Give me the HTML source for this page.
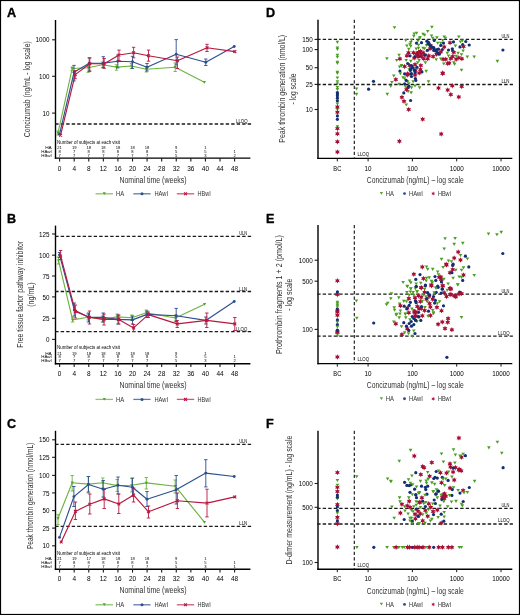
<!DOCTYPE html>
<html><head><meta charset="utf-8"><style>
html,body{margin:0;padding:0;background:#fff;}
svg{display:block;will-change:transform;}
text{font-family:"Liberation Sans", sans-serif;}
</style></head><body>
<svg width="520" height="615" viewBox="0 0 520 615">
<rect width="520" height="615" fill="#fff"/>
<rect x="0.5" y="0.5" width="519" height="614" fill="none" stroke="#000" stroke-width="1.2"/>
<text x="7.10" y="17.00" font-size="12.6" text-anchor="start" font-weight="bold" fill="#000" stroke="#000" stroke-width="0.35">A</text>
<line x1="55.50" y1="20.00" x2="55.50" y2="158.80" stroke="#000" stroke-width="1.4" stroke-linecap="butt"/>
<line x1="54.80" y1="158.10" x2="250.40" y2="158.10" stroke="#000" stroke-width="1.4" stroke-linecap="butt"/>
<line x1="52.10" y1="39.80" x2="55.50" y2="39.80" stroke="#1a1a1a" stroke-width="1.1" stroke-linecap="butt"/>
<text x="49.50" y="42.45" font-size="7.7" text-anchor="end" textLength="14.00" lengthAdjust="spacingAndGlyphs">1000</text>
<line x1="52.10" y1="76.30" x2="55.50" y2="76.30" stroke="#1a1a1a" stroke-width="1.1" stroke-linecap="butt"/>
<text x="49.50" y="78.95" font-size="7.7" text-anchor="end" textLength="10.50" lengthAdjust="spacingAndGlyphs">100</text>
<line x1="52.10" y1="113.10" x2="55.50" y2="113.10" stroke="#1a1a1a" stroke-width="1.1" stroke-linecap="butt"/>
<text x="49.50" y="115.75" font-size="7.7" text-anchor="end" textLength="7.00" lengthAdjust="spacingAndGlyphs">10</text>
<line x1="59.60" y1="158.10" x2="59.60" y2="161.50" stroke="#1a1a1a" stroke-width="1.1" stroke-linecap="butt"/>
<text x="59.60" y="170.60" font-size="7.5" text-anchor="middle" textLength="3.60" lengthAdjust="spacingAndGlyphs">0</text>
<line x1="74.18" y1="158.10" x2="74.18" y2="161.50" stroke="#1a1a1a" stroke-width="1.1" stroke-linecap="butt"/>
<text x="74.18" y="170.60" font-size="7.5" text-anchor="middle" textLength="3.60" lengthAdjust="spacingAndGlyphs">4</text>
<line x1="88.77" y1="158.10" x2="88.77" y2="161.50" stroke="#1a1a1a" stroke-width="1.1" stroke-linecap="butt"/>
<text x="88.77" y="170.60" font-size="7.5" text-anchor="middle" textLength="3.60" lengthAdjust="spacingAndGlyphs">8</text>
<line x1="103.35" y1="158.10" x2="103.35" y2="161.50" stroke="#1a1a1a" stroke-width="1.1" stroke-linecap="butt"/>
<text x="103.35" y="170.60" font-size="7.5" text-anchor="middle" textLength="7.20" lengthAdjust="spacingAndGlyphs">12</text>
<line x1="117.94" y1="158.10" x2="117.94" y2="161.50" stroke="#1a1a1a" stroke-width="1.1" stroke-linecap="butt"/>
<text x="117.94" y="170.60" font-size="7.5" text-anchor="middle" textLength="7.20" lengthAdjust="spacingAndGlyphs">16</text>
<line x1="132.52" y1="158.10" x2="132.52" y2="161.50" stroke="#1a1a1a" stroke-width="1.1" stroke-linecap="butt"/>
<text x="132.52" y="170.60" font-size="7.5" text-anchor="middle" textLength="7.20" lengthAdjust="spacingAndGlyphs">20</text>
<line x1="147.10" y1="158.10" x2="147.10" y2="161.50" stroke="#1a1a1a" stroke-width="1.1" stroke-linecap="butt"/>
<text x="147.10" y="170.60" font-size="7.5" text-anchor="middle" textLength="7.20" lengthAdjust="spacingAndGlyphs">24</text>
<line x1="161.69" y1="158.10" x2="161.69" y2="161.50" stroke="#1a1a1a" stroke-width="1.1" stroke-linecap="butt"/>
<text x="161.69" y="170.60" font-size="7.5" text-anchor="middle" textLength="7.20" lengthAdjust="spacingAndGlyphs">28</text>
<line x1="176.27" y1="158.10" x2="176.27" y2="161.50" stroke="#1a1a1a" stroke-width="1.1" stroke-linecap="butt"/>
<text x="176.27" y="170.60" font-size="7.5" text-anchor="middle" textLength="7.20" lengthAdjust="spacingAndGlyphs">32</text>
<line x1="190.86" y1="158.10" x2="190.86" y2="161.50" stroke="#1a1a1a" stroke-width="1.1" stroke-linecap="butt"/>
<text x="190.86" y="170.60" font-size="7.5" text-anchor="middle" textLength="7.20" lengthAdjust="spacingAndGlyphs">36</text>
<line x1="205.44" y1="158.10" x2="205.44" y2="161.50" stroke="#1a1a1a" stroke-width="1.1" stroke-linecap="butt"/>
<text x="205.44" y="170.60" font-size="7.5" text-anchor="middle" textLength="7.20" lengthAdjust="spacingAndGlyphs">40</text>
<line x1="220.02" y1="158.10" x2="220.02" y2="161.50" stroke="#1a1a1a" stroke-width="1.1" stroke-linecap="butt"/>
<text x="220.02" y="170.60" font-size="7.5" text-anchor="middle" textLength="7.20" lengthAdjust="spacingAndGlyphs">44</text>
<line x1="234.61" y1="158.10" x2="234.61" y2="161.50" stroke="#1a1a1a" stroke-width="1.1" stroke-linecap="butt"/>
<text x="234.61" y="170.60" font-size="7.5" text-anchor="middle" textLength="7.20" lengthAdjust="spacingAndGlyphs">48</text>
<line x1="55.20" y1="124.00" x2="251.20" y2="124.00" stroke="#1a1a1a" stroke-width="1.3" stroke-dasharray="3.4,2.1" stroke-linecap="butt"/>
<text x="247.50" y="123.40" font-size="4.6" text-anchor="end" textLength="11.50" lengthAdjust="spacingAndGlyphs">LLOQ</text>
<text x="29.80" y="89.30" font-size="8.3" text-anchor="middle" textLength="96.00" lengthAdjust="spacingAndGlyphs" fill="#303030" transform="rotate(-90 29.80 89.30)">Concizumab (ng/mL - log scale)</text>
<text x="153.00" y="182.80" font-size="8.3" text-anchor="middle" textLength="67.20" lengthAdjust="spacingAndGlyphs" fill="#303030">Nominal time (weeks)</text>
<text x="57.00" y="143.50" font-size="4.9" text-anchor="start" textLength="63.00" lengthAdjust="spacingAndGlyphs">Number of subjects at each visit</text>
<text x="51.80" y="148.90" font-size="4.3" text-anchor="end" textLength="6.60" lengthAdjust="spacingAndGlyphs">HA</text>
<text x="59.60" y="148.90" font-size="4.3" text-anchor="middle" textLength="4.60" lengthAdjust="spacingAndGlyphs">21</text>
<text x="74.18" y="148.90" font-size="4.3" text-anchor="middle" textLength="4.60" lengthAdjust="spacingAndGlyphs">19</text>
<text x="88.77" y="148.90" font-size="4.3" text-anchor="middle" textLength="4.60" lengthAdjust="spacingAndGlyphs">18</text>
<text x="103.35" y="148.90" font-size="4.3" text-anchor="middle" textLength="4.60" lengthAdjust="spacingAndGlyphs">18</text>
<text x="117.94" y="148.90" font-size="4.3" text-anchor="middle" textLength="4.60" lengthAdjust="spacingAndGlyphs">18</text>
<text x="132.52" y="148.90" font-size="4.3" text-anchor="middle" textLength="4.60" lengthAdjust="spacingAndGlyphs">18</text>
<text x="147.10" y="148.90" font-size="4.3" text-anchor="middle" textLength="4.60" lengthAdjust="spacingAndGlyphs">18</text>
<text x="176.27" y="148.90" font-size="4.3" text-anchor="middle" textLength="2.30" lengthAdjust="spacingAndGlyphs">9</text>
<text x="205.44" y="148.90" font-size="4.3" text-anchor="middle" textLength="2.30" lengthAdjust="spacingAndGlyphs">1</text>
<text x="51.80" y="152.70" font-size="4.3" text-anchor="end" textLength="10.60" lengthAdjust="spacingAndGlyphs">HAwI</text>
<text x="59.60" y="152.70" font-size="4.3" text-anchor="middle" textLength="2.30" lengthAdjust="spacingAndGlyphs">8</text>
<text x="74.18" y="152.70" font-size="4.3" text-anchor="middle" textLength="2.30" lengthAdjust="spacingAndGlyphs">7</text>
<text x="88.77" y="152.70" font-size="4.3" text-anchor="middle" textLength="2.30" lengthAdjust="spacingAndGlyphs">8</text>
<text x="103.35" y="152.70" font-size="4.3" text-anchor="middle" textLength="2.30" lengthAdjust="spacingAndGlyphs">8</text>
<text x="117.94" y="152.70" font-size="4.3" text-anchor="middle" textLength="2.30" lengthAdjust="spacingAndGlyphs">8</text>
<text x="132.52" y="152.70" font-size="4.3" text-anchor="middle" textLength="2.30" lengthAdjust="spacingAndGlyphs">8</text>
<text x="147.10" y="152.70" font-size="4.3" text-anchor="middle" textLength="2.30" lengthAdjust="spacingAndGlyphs">8</text>
<text x="176.27" y="152.70" font-size="4.3" text-anchor="middle" textLength="2.30" lengthAdjust="spacingAndGlyphs">5</text>
<text x="205.44" y="152.70" font-size="4.3" text-anchor="middle" textLength="2.30" lengthAdjust="spacingAndGlyphs">5</text>
<text x="234.61" y="152.70" font-size="4.3" text-anchor="middle" textLength="2.30" lengthAdjust="spacingAndGlyphs">1</text>
<text x="51.80" y="156.80" font-size="4.3" text-anchor="end" textLength="10.60" lengthAdjust="spacingAndGlyphs">HBwI</text>
<text x="59.60" y="156.80" font-size="4.3" text-anchor="middle" textLength="2.30" lengthAdjust="spacingAndGlyphs">7</text>
<text x="74.18" y="156.80" font-size="4.3" text-anchor="middle" textLength="2.30" lengthAdjust="spacingAndGlyphs">7</text>
<text x="88.77" y="156.80" font-size="4.3" text-anchor="middle" textLength="2.30" lengthAdjust="spacingAndGlyphs">7</text>
<text x="103.35" y="156.80" font-size="4.3" text-anchor="middle" textLength="2.30" lengthAdjust="spacingAndGlyphs">7</text>
<text x="117.94" y="156.80" font-size="4.3" text-anchor="middle" textLength="2.30" lengthAdjust="spacingAndGlyphs">7</text>
<text x="132.52" y="156.80" font-size="4.3" text-anchor="middle" textLength="2.30" lengthAdjust="spacingAndGlyphs">7</text>
<text x="147.10" y="156.80" font-size="4.3" text-anchor="middle" textLength="2.30" lengthAdjust="spacingAndGlyphs">7</text>
<text x="176.27" y="156.80" font-size="4.3" text-anchor="middle" textLength="2.30" lengthAdjust="spacingAndGlyphs">5</text>
<text x="205.44" y="156.80" font-size="4.3" text-anchor="middle" textLength="2.30" lengthAdjust="spacingAndGlyphs">3</text>
<text x="234.61" y="156.80" font-size="4.3" text-anchor="middle" textLength="2.30" lengthAdjust="spacingAndGlyphs">2</text>
<line x1="95.50" y1="193.80" x2="113.00" y2="193.80" stroke="#8cc56a" stroke-width="1.3" stroke-linecap="butt"/>
<path d="M102.70,192.30L105.90,192.30L104.30,195.02Z" fill="#54a12b"/>
<text x="116.00" y="196.00" font-size="6.5" text-anchor="start" textLength="8.20" lengthAdjust="spacingAndGlyphs" fill="#333">HA</text>
<line x1="133.30" y1="193.80" x2="150.60" y2="193.80" stroke="#5f7bb0" stroke-width="1.3" stroke-linecap="butt"/>
<circle cx="142.00" cy="193.80" r="1.5" fill="#2d4f8e"/>
<text x="154.40" y="196.00" font-size="6.5" text-anchor="start" textLength="13.60" lengthAdjust="spacingAndGlyphs" fill="#333">HAwI</text>
<line x1="176.80" y1="193.80" x2="194.20" y2="193.80" stroke="#cf5a78" stroke-width="1.3" stroke-linecap="butt"/>
<path d="M184.10,192.40L186.90,195.20M184.10,195.20L186.90,192.40" stroke="#b8173f" stroke-width="1.1" fill="none"/>
<text x="197.60" y="196.00" font-size="6.5" text-anchor="start" textLength="13.20" lengthAdjust="spacingAndGlyphs" fill="#333">HBwI</text>
<polyline points="58.00,133.00 72.20,68.50 88.20,67.70 102.50,64.80 116.50,67.10 131.50,66.00 146.30,69.20 175.20,67.30 204.40,82.30" fill="none" stroke="#6cb33f" stroke-width="1.15" stroke-linejoin="round"/>
<line x1="58.00" y1="131.00" x2="58.00" y2="135.00" stroke="#6cb33f" stroke-width="0.9" stroke-linecap="butt"/>
<line x1="56.30" y1="131.00" x2="59.70" y2="131.00" stroke="#6cb33f" stroke-width="0.9" stroke-linecap="butt"/>
<line x1="56.30" y1="135.00" x2="59.70" y2="135.00" stroke="#6cb33f" stroke-width="0.9" stroke-linecap="butt"/>
<line x1="72.20" y1="67.00" x2="72.20" y2="70.60" stroke="#6cb33f" stroke-width="0.9" stroke-linecap="butt"/>
<line x1="70.50" y1="67.00" x2="73.90" y2="67.00" stroke="#6cb33f" stroke-width="0.9" stroke-linecap="butt"/>
<line x1="70.50" y1="70.60" x2="73.90" y2="70.60" stroke="#6cb33f" stroke-width="0.9" stroke-linecap="butt"/>
<line x1="88.20" y1="66.00" x2="88.20" y2="72.30" stroke="#6cb33f" stroke-width="0.9" stroke-linecap="butt"/>
<line x1="86.50" y1="66.00" x2="89.90" y2="66.00" stroke="#6cb33f" stroke-width="0.9" stroke-linecap="butt"/>
<line x1="86.50" y1="72.30" x2="89.90" y2="72.30" stroke="#6cb33f" stroke-width="0.9" stroke-linecap="butt"/>
<line x1="102.50" y1="62.00" x2="102.50" y2="67.70" stroke="#6cb33f" stroke-width="0.9" stroke-linecap="butt"/>
<line x1="100.80" y1="62.00" x2="104.20" y2="62.00" stroke="#6cb33f" stroke-width="0.9" stroke-linecap="butt"/>
<line x1="100.80" y1="67.70" x2="104.20" y2="67.70" stroke="#6cb33f" stroke-width="0.9" stroke-linecap="butt"/>
<line x1="116.50" y1="64.80" x2="116.50" y2="70.20" stroke="#6cb33f" stroke-width="0.9" stroke-linecap="butt"/>
<line x1="114.80" y1="64.80" x2="118.20" y2="64.80" stroke="#6cb33f" stroke-width="0.9" stroke-linecap="butt"/>
<line x1="114.80" y1="70.20" x2="118.20" y2="70.20" stroke="#6cb33f" stroke-width="0.9" stroke-linecap="butt"/>
<line x1="131.50" y1="63.50" x2="131.50" y2="68.50" stroke="#6cb33f" stroke-width="0.9" stroke-linecap="butt"/>
<line x1="129.80" y1="63.50" x2="133.20" y2="63.50" stroke="#6cb33f" stroke-width="0.9" stroke-linecap="butt"/>
<line x1="129.80" y1="68.50" x2="133.20" y2="68.50" stroke="#6cb33f" stroke-width="0.9" stroke-linecap="butt"/>
<line x1="146.30" y1="66.50" x2="146.30" y2="72.00" stroke="#6cb33f" stroke-width="0.9" stroke-linecap="butt"/>
<line x1="144.60" y1="66.50" x2="148.00" y2="66.50" stroke="#6cb33f" stroke-width="0.9" stroke-linecap="butt"/>
<line x1="144.60" y1="72.00" x2="148.00" y2="72.00" stroke="#6cb33f" stroke-width="0.9" stroke-linecap="butt"/>
<line x1="175.20" y1="63.00" x2="175.20" y2="71.50" stroke="#6cb33f" stroke-width="0.9" stroke-linecap="butt"/>
<line x1="173.50" y1="63.00" x2="176.90" y2="63.00" stroke="#6cb33f" stroke-width="0.9" stroke-linecap="butt"/>
<line x1="173.50" y1="71.50" x2="176.90" y2="71.50" stroke="#6cb33f" stroke-width="0.9" stroke-linecap="butt"/>
<path d="M56.40,131.80L59.60,131.80L58.00,134.52Z" fill="#54a12b"/>
<path d="M70.60,67.30L73.80,67.30L72.20,70.02Z" fill="#54a12b"/>
<path d="M86.60,66.50L89.80,66.50L88.20,69.22Z" fill="#54a12b"/>
<path d="M100.90,63.60L104.10,63.60L102.50,66.32Z" fill="#54a12b"/>
<path d="M114.90,65.90L118.10,65.90L116.50,68.62Z" fill="#54a12b"/>
<path d="M129.90,64.80L133.10,64.80L131.50,67.52Z" fill="#54a12b"/>
<path d="M144.70,68.00L147.90,68.00L146.30,70.72Z" fill="#54a12b"/>
<path d="M173.60,66.10L176.80,66.10L175.20,68.82Z" fill="#54a12b"/>
<path d="M202.80,81.10L206.00,81.10L204.40,83.82Z" fill="#54a12b"/>
<polyline points="59.50,134.30 74.00,72.30 89.20,63.30 103.30,63.10 117.80,61.30 132.50,61.70 147.00,67.30 176.20,54.20 205.80,62.20 234.20,46.50" fill="none" stroke="#2d4f8e" stroke-width="1.15" stroke-linejoin="round"/>
<line x1="74.00" y1="65.40" x2="74.00" y2="81.00" stroke="#2d4f8e" stroke-width="0.9" stroke-linecap="butt"/>
<line x1="72.30" y1="65.40" x2="75.70" y2="65.40" stroke="#2d4f8e" stroke-width="0.9" stroke-linecap="butt"/>
<line x1="72.30" y1="81.00" x2="75.70" y2="81.00" stroke="#2d4f8e" stroke-width="0.9" stroke-linecap="butt"/>
<line x1="89.20" y1="57.90" x2="89.20" y2="71.20" stroke="#2d4f8e" stroke-width="0.9" stroke-linecap="butt"/>
<line x1="87.50" y1="57.90" x2="90.90" y2="57.90" stroke="#2d4f8e" stroke-width="0.9" stroke-linecap="butt"/>
<line x1="87.50" y1="71.20" x2="90.90" y2="71.20" stroke="#2d4f8e" stroke-width="0.9" stroke-linecap="butt"/>
<line x1="103.30" y1="56.70" x2="103.30" y2="67.70" stroke="#2d4f8e" stroke-width="0.9" stroke-linecap="butt"/>
<line x1="101.60" y1="56.70" x2="105.00" y2="56.70" stroke="#2d4f8e" stroke-width="0.9" stroke-linecap="butt"/>
<line x1="101.60" y1="67.70" x2="105.00" y2="67.70" stroke="#2d4f8e" stroke-width="0.9" stroke-linecap="butt"/>
<line x1="117.80" y1="55.00" x2="117.80" y2="67.90" stroke="#2d4f8e" stroke-width="0.9" stroke-linecap="butt"/>
<line x1="116.10" y1="55.00" x2="119.50" y2="55.00" stroke="#2d4f8e" stroke-width="0.9" stroke-linecap="butt"/>
<line x1="116.10" y1="67.90" x2="119.50" y2="67.90" stroke="#2d4f8e" stroke-width="0.9" stroke-linecap="butt"/>
<line x1="132.50" y1="56.30" x2="132.50" y2="68.40" stroke="#2d4f8e" stroke-width="0.9" stroke-linecap="butt"/>
<line x1="130.80" y1="56.30" x2="134.20" y2="56.30" stroke="#2d4f8e" stroke-width="0.9" stroke-linecap="butt"/>
<line x1="130.80" y1="68.40" x2="134.20" y2="68.40" stroke="#2d4f8e" stroke-width="0.9" stroke-linecap="butt"/>
<line x1="147.00" y1="63.50" x2="147.00" y2="71.00" stroke="#2d4f8e" stroke-width="0.9" stroke-linecap="butt"/>
<line x1="145.30" y1="63.50" x2="148.70" y2="63.50" stroke="#2d4f8e" stroke-width="0.9" stroke-linecap="butt"/>
<line x1="145.30" y1="71.00" x2="148.70" y2="71.00" stroke="#2d4f8e" stroke-width="0.9" stroke-linecap="butt"/>
<line x1="176.20" y1="39.60" x2="176.20" y2="65.00" stroke="#2d4f8e" stroke-width="0.9" stroke-linecap="butt"/>
<line x1="174.50" y1="39.60" x2="177.90" y2="39.60" stroke="#2d4f8e" stroke-width="0.9" stroke-linecap="butt"/>
<line x1="174.50" y1="65.00" x2="177.90" y2="65.00" stroke="#2d4f8e" stroke-width="0.9" stroke-linecap="butt"/>
<line x1="205.80" y1="59.00" x2="205.80" y2="65.50" stroke="#2d4f8e" stroke-width="0.9" stroke-linecap="butt"/>
<line x1="204.10" y1="59.00" x2="207.50" y2="59.00" stroke="#2d4f8e" stroke-width="0.9" stroke-linecap="butt"/>
<line x1="204.10" y1="65.50" x2="207.50" y2="65.50" stroke="#2d4f8e" stroke-width="0.9" stroke-linecap="butt"/>
<circle cx="59.50" cy="134.30" r="1.45" fill="#2d4f8e"/>
<circle cx="74.00" cy="72.30" r="1.45" fill="#2d4f8e"/>
<circle cx="89.20" cy="63.30" r="1.45" fill="#2d4f8e"/>
<circle cx="103.30" cy="63.10" r="1.45" fill="#2d4f8e"/>
<circle cx="117.80" cy="61.30" r="1.45" fill="#2d4f8e"/>
<circle cx="132.50" cy="61.70" r="1.45" fill="#2d4f8e"/>
<circle cx="147.00" cy="67.30" r="1.45" fill="#2d4f8e"/>
<circle cx="176.20" cy="54.20" r="1.45" fill="#2d4f8e"/>
<circle cx="205.80" cy="62.20" r="1.45" fill="#2d4f8e"/>
<circle cx="234.20" cy="46.50" r="1.45" fill="#2d4f8e"/>
<polyline points="60.60,135.20 75.20,74.60 89.80,63.70 104.20,63.70 119.00,55.00 133.60,52.70 148.50,55.80 177.40,60.80 207.00,47.70 234.80,51.60" fill="none" stroke="#b8173f" stroke-width="1.15" stroke-linejoin="round"/>
<line x1="75.20" y1="70.60" x2="75.20" y2="78.70" stroke="#b8173f" stroke-width="0.9" stroke-linecap="butt"/>
<line x1="73.50" y1="70.60" x2="76.90" y2="70.60" stroke="#b8173f" stroke-width="0.9" stroke-linecap="butt"/>
<line x1="73.50" y1="78.70" x2="76.90" y2="78.70" stroke="#b8173f" stroke-width="0.9" stroke-linecap="butt"/>
<line x1="89.80" y1="57.90" x2="89.80" y2="71.20" stroke="#b8173f" stroke-width="0.9" stroke-linecap="butt"/>
<line x1="88.10" y1="57.90" x2="91.50" y2="57.90" stroke="#b8173f" stroke-width="0.9" stroke-linecap="butt"/>
<line x1="88.10" y1="71.20" x2="91.50" y2="71.20" stroke="#b8173f" stroke-width="0.9" stroke-linecap="butt"/>
<line x1="104.20" y1="58.50" x2="104.20" y2="68.30" stroke="#b8173f" stroke-width="0.9" stroke-linecap="butt"/>
<line x1="102.50" y1="58.50" x2="105.90" y2="58.50" stroke="#b8173f" stroke-width="0.9" stroke-linecap="butt"/>
<line x1="102.50" y1="68.30" x2="105.90" y2="68.30" stroke="#b8173f" stroke-width="0.9" stroke-linecap="butt"/>
<line x1="119.00" y1="50.10" x2="119.00" y2="60.60" stroke="#b8173f" stroke-width="0.9" stroke-linecap="butt"/>
<line x1="117.30" y1="50.10" x2="120.70" y2="50.10" stroke="#b8173f" stroke-width="0.9" stroke-linecap="butt"/>
<line x1="117.30" y1="60.60" x2="120.70" y2="60.60" stroke="#b8173f" stroke-width="0.9" stroke-linecap="butt"/>
<line x1="133.60" y1="47.30" x2="133.60" y2="57.80" stroke="#b8173f" stroke-width="0.9" stroke-linecap="butt"/>
<line x1="131.90" y1="47.30" x2="135.30" y2="47.30" stroke="#b8173f" stroke-width="0.9" stroke-linecap="butt"/>
<line x1="131.90" y1="57.80" x2="135.30" y2="57.80" stroke="#b8173f" stroke-width="0.9" stroke-linecap="butt"/>
<line x1="148.50" y1="50.10" x2="148.50" y2="61.20" stroke="#b8173f" stroke-width="0.9" stroke-linecap="butt"/>
<line x1="146.80" y1="50.10" x2="150.20" y2="50.10" stroke="#b8173f" stroke-width="0.9" stroke-linecap="butt"/>
<line x1="146.80" y1="61.20" x2="150.20" y2="61.20" stroke="#b8173f" stroke-width="0.9" stroke-linecap="butt"/>
<line x1="177.40" y1="57.00" x2="177.40" y2="68.50" stroke="#b8173f" stroke-width="0.9" stroke-linecap="butt"/>
<line x1="175.70" y1="57.00" x2="179.10" y2="57.00" stroke="#b8173f" stroke-width="0.9" stroke-linecap="butt"/>
<line x1="175.70" y1="68.50" x2="179.10" y2="68.50" stroke="#b8173f" stroke-width="0.9" stroke-linecap="butt"/>
<line x1="207.00" y1="44.30" x2="207.00" y2="51.50" stroke="#b8173f" stroke-width="0.9" stroke-linecap="butt"/>
<line x1="205.30" y1="44.30" x2="208.70" y2="44.30" stroke="#b8173f" stroke-width="0.9" stroke-linecap="butt"/>
<line x1="205.30" y1="51.50" x2="208.70" y2="51.50" stroke="#b8173f" stroke-width="0.9" stroke-linecap="butt"/>
<path d="M59.20,133.80L62.00,136.60M59.20,136.60L62.00,133.80" stroke="#b8173f" stroke-width="1.1" fill="none"/>
<path d="M73.80,73.20L76.60,76.00M73.80,76.00L76.60,73.20" stroke="#b8173f" stroke-width="1.1" fill="none"/>
<path d="M88.40,62.30L91.20,65.10M88.40,65.10L91.20,62.30" stroke="#b8173f" stroke-width="1.1" fill="none"/>
<path d="M102.80,62.30L105.60,65.10M102.80,65.10L105.60,62.30" stroke="#b8173f" stroke-width="1.1" fill="none"/>
<path d="M117.60,53.60L120.40,56.40M117.60,56.40L120.40,53.60" stroke="#b8173f" stroke-width="1.1" fill="none"/>
<path d="M132.20,51.30L135.00,54.10M132.20,54.10L135.00,51.30" stroke="#b8173f" stroke-width="1.1" fill="none"/>
<path d="M147.10,54.40L149.90,57.20M147.10,57.20L149.90,54.40" stroke="#b8173f" stroke-width="1.1" fill="none"/>
<path d="M176.00,59.40L178.80,62.20M176.00,62.20L178.80,59.40" stroke="#b8173f" stroke-width="1.1" fill="none"/>
<path d="M205.60,46.30L208.40,49.10M205.60,49.10L208.40,46.30" stroke="#b8173f" stroke-width="1.1" fill="none"/>
<path d="M233.40,50.20L236.20,53.00M233.40,53.00L236.20,50.20" stroke="#b8173f" stroke-width="1.1" fill="none"/>
<text x="7.10" y="222.70" font-size="12.6" text-anchor="start" font-weight="bold" fill="#000" stroke="#000" stroke-width="0.35">B</text>
<line x1="55.50" y1="225.60" x2="55.50" y2="364.40" stroke="#000" stroke-width="1.4" stroke-linecap="butt"/>
<line x1="54.80" y1="363.70" x2="250.40" y2="363.70" stroke="#000" stroke-width="1.4" stroke-linecap="butt"/>
<line x1="52.10" y1="234.00" x2="55.50" y2="234.00" stroke="#1a1a1a" stroke-width="1.1" stroke-linecap="butt"/>
<text x="49.50" y="236.65" font-size="7.7" text-anchor="end" textLength="10.50" lengthAdjust="spacingAndGlyphs">125</text>
<line x1="52.10" y1="255.20" x2="55.50" y2="255.20" stroke="#1a1a1a" stroke-width="1.1" stroke-linecap="butt"/>
<text x="49.50" y="257.85" font-size="7.7" text-anchor="end" textLength="10.50" lengthAdjust="spacingAndGlyphs">100</text>
<line x1="52.10" y1="276.00" x2="55.50" y2="276.00" stroke="#1a1a1a" stroke-width="1.1" stroke-linecap="butt"/>
<text x="49.50" y="278.65" font-size="7.7" text-anchor="end" textLength="7.00" lengthAdjust="spacingAndGlyphs">75</text>
<line x1="52.10" y1="296.90" x2="55.50" y2="296.90" stroke="#1a1a1a" stroke-width="1.1" stroke-linecap="butt"/>
<text x="49.50" y="299.55" font-size="7.7" text-anchor="end" textLength="7.00" lengthAdjust="spacingAndGlyphs">50</text>
<line x1="52.10" y1="318.30" x2="55.50" y2="318.30" stroke="#1a1a1a" stroke-width="1.1" stroke-linecap="butt"/>
<text x="49.50" y="320.95" font-size="7.7" text-anchor="end" textLength="7.00" lengthAdjust="spacingAndGlyphs">25</text>
<line x1="52.10" y1="339.40" x2="55.50" y2="339.40" stroke="#1a1a1a" stroke-width="1.1" stroke-linecap="butt"/>
<text x="49.50" y="342.05" font-size="7.7" text-anchor="end" textLength="3.50" lengthAdjust="spacingAndGlyphs">0</text>
<line x1="59.60" y1="363.70" x2="59.60" y2="367.10" stroke="#1a1a1a" stroke-width="1.1" stroke-linecap="butt"/>
<text x="59.60" y="375.80" font-size="7.5" text-anchor="middle" textLength="3.60" lengthAdjust="spacingAndGlyphs">0</text>
<line x1="74.18" y1="363.70" x2="74.18" y2="367.10" stroke="#1a1a1a" stroke-width="1.1" stroke-linecap="butt"/>
<text x="74.18" y="375.80" font-size="7.5" text-anchor="middle" textLength="3.60" lengthAdjust="spacingAndGlyphs">4</text>
<line x1="88.77" y1="363.70" x2="88.77" y2="367.10" stroke="#1a1a1a" stroke-width="1.1" stroke-linecap="butt"/>
<text x="88.77" y="375.80" font-size="7.5" text-anchor="middle" textLength="3.60" lengthAdjust="spacingAndGlyphs">8</text>
<line x1="103.35" y1="363.70" x2="103.35" y2="367.10" stroke="#1a1a1a" stroke-width="1.1" stroke-linecap="butt"/>
<text x="103.35" y="375.80" font-size="7.5" text-anchor="middle" textLength="7.20" lengthAdjust="spacingAndGlyphs">12</text>
<line x1="117.94" y1="363.70" x2="117.94" y2="367.10" stroke="#1a1a1a" stroke-width="1.1" stroke-linecap="butt"/>
<text x="117.94" y="375.80" font-size="7.5" text-anchor="middle" textLength="7.20" lengthAdjust="spacingAndGlyphs">16</text>
<line x1="132.52" y1="363.70" x2="132.52" y2="367.10" stroke="#1a1a1a" stroke-width="1.1" stroke-linecap="butt"/>
<text x="132.52" y="375.80" font-size="7.5" text-anchor="middle" textLength="7.20" lengthAdjust="spacingAndGlyphs">20</text>
<line x1="147.10" y1="363.70" x2="147.10" y2="367.10" stroke="#1a1a1a" stroke-width="1.1" stroke-linecap="butt"/>
<text x="147.10" y="375.80" font-size="7.5" text-anchor="middle" textLength="7.20" lengthAdjust="spacingAndGlyphs">24</text>
<line x1="161.69" y1="363.70" x2="161.69" y2="367.10" stroke="#1a1a1a" stroke-width="1.1" stroke-linecap="butt"/>
<text x="161.69" y="375.80" font-size="7.5" text-anchor="middle" textLength="7.20" lengthAdjust="spacingAndGlyphs">28</text>
<line x1="176.27" y1="363.70" x2="176.27" y2="367.10" stroke="#1a1a1a" stroke-width="1.1" stroke-linecap="butt"/>
<text x="176.27" y="375.80" font-size="7.5" text-anchor="middle" textLength="7.20" lengthAdjust="spacingAndGlyphs">32</text>
<line x1="190.86" y1="363.70" x2="190.86" y2="367.10" stroke="#1a1a1a" stroke-width="1.1" stroke-linecap="butt"/>
<text x="190.86" y="375.80" font-size="7.5" text-anchor="middle" textLength="7.20" lengthAdjust="spacingAndGlyphs">36</text>
<line x1="205.44" y1="363.70" x2="205.44" y2="367.10" stroke="#1a1a1a" stroke-width="1.1" stroke-linecap="butt"/>
<text x="205.44" y="375.80" font-size="7.5" text-anchor="middle" textLength="7.20" lengthAdjust="spacingAndGlyphs">40</text>
<line x1="220.02" y1="363.70" x2="220.02" y2="367.10" stroke="#1a1a1a" stroke-width="1.1" stroke-linecap="butt"/>
<text x="220.02" y="375.80" font-size="7.5" text-anchor="middle" textLength="7.20" lengthAdjust="spacingAndGlyphs">44</text>
<line x1="234.61" y1="363.70" x2="234.61" y2="367.10" stroke="#1a1a1a" stroke-width="1.1" stroke-linecap="butt"/>
<text x="234.61" y="375.80" font-size="7.5" text-anchor="middle" textLength="7.20" lengthAdjust="spacingAndGlyphs">48</text>
<line x1="55.20" y1="236.30" x2="251.20" y2="236.30" stroke="#1a1a1a" stroke-width="1.3" stroke-dasharray="3.4,2.1" stroke-linecap="butt"/>
<line x1="55.20" y1="291.50" x2="251.20" y2="291.50" stroke="#1a1a1a" stroke-width="1.3" stroke-dasharray="3.4,2.1" stroke-linecap="butt"/>
<line x1="55.20" y1="331.70" x2="251.20" y2="331.70" stroke="#1a1a1a" stroke-width="1.3" stroke-dasharray="3.4,2.1" stroke-linecap="butt"/>
<text x="247.30" y="235.40" font-size="4.6" text-anchor="end" textLength="8.10" lengthAdjust="spacingAndGlyphs">ULN</text>
<text x="247.30" y="290.60" font-size="4.6" text-anchor="end" textLength="8.10" lengthAdjust="spacingAndGlyphs">LLN</text>
<text x="247.30" y="330.80" font-size="4.6" text-anchor="end" textLength="11.50" lengthAdjust="spacingAndGlyphs">LLOQ</text>
<text x="22.90" y="294.40" font-size="8.3" text-anchor="middle" textLength="106.80" lengthAdjust="spacingAndGlyphs" fill="#303030" transform="rotate(-90 22.90 294.40)">Free tissue factor pathway inhibitor</text>
<text x="33.60" y="294.60" font-size="8.3" text-anchor="middle" textLength="24.30" lengthAdjust="spacingAndGlyphs" fill="#303030" transform="rotate(-90 33.60 294.60)">(ng/mL)</text>
<text x="153.00" y="387.90" font-size="8.3" text-anchor="middle" textLength="67.20" lengthAdjust="spacingAndGlyphs" fill="#303030">Nominal time (weeks)</text>
<text x="57.00" y="349.10" font-size="4.9" text-anchor="start" textLength="63.00" lengthAdjust="spacingAndGlyphs">Number of subjects at each visit</text>
<text x="51.80" y="354.50" font-size="4.3" text-anchor="end" textLength="6.60" lengthAdjust="spacingAndGlyphs">HA</text>
<text x="59.60" y="354.50" font-size="4.3" text-anchor="middle" textLength="4.60" lengthAdjust="spacingAndGlyphs">21</text>
<text x="74.18" y="354.50" font-size="4.3" text-anchor="middle" textLength="4.60" lengthAdjust="spacingAndGlyphs">19</text>
<text x="88.77" y="354.50" font-size="4.3" text-anchor="middle" textLength="4.60" lengthAdjust="spacingAndGlyphs">18</text>
<text x="103.35" y="354.50" font-size="4.3" text-anchor="middle" textLength="4.60" lengthAdjust="spacingAndGlyphs">18</text>
<text x="117.94" y="354.50" font-size="4.3" text-anchor="middle" textLength="4.60" lengthAdjust="spacingAndGlyphs">18</text>
<text x="132.52" y="354.50" font-size="4.3" text-anchor="middle" textLength="4.60" lengthAdjust="spacingAndGlyphs">18</text>
<text x="147.10" y="354.50" font-size="4.3" text-anchor="middle" textLength="4.60" lengthAdjust="spacingAndGlyphs">18</text>
<text x="176.27" y="354.50" font-size="4.3" text-anchor="middle" textLength="2.30" lengthAdjust="spacingAndGlyphs">9</text>
<text x="205.44" y="354.50" font-size="4.3" text-anchor="middle" textLength="2.30" lengthAdjust="spacingAndGlyphs">1</text>
<text x="51.80" y="358.30" font-size="4.3" text-anchor="end" textLength="10.60" lengthAdjust="spacingAndGlyphs">HAwI</text>
<text x="59.60" y="358.30" font-size="4.3" text-anchor="middle" textLength="2.30" lengthAdjust="spacingAndGlyphs">8</text>
<text x="74.18" y="358.30" font-size="4.3" text-anchor="middle" textLength="2.30" lengthAdjust="spacingAndGlyphs">7</text>
<text x="88.77" y="358.30" font-size="4.3" text-anchor="middle" textLength="2.30" lengthAdjust="spacingAndGlyphs">8</text>
<text x="103.35" y="358.30" font-size="4.3" text-anchor="middle" textLength="2.30" lengthAdjust="spacingAndGlyphs">8</text>
<text x="117.94" y="358.30" font-size="4.3" text-anchor="middle" textLength="2.30" lengthAdjust="spacingAndGlyphs">8</text>
<text x="132.52" y="358.30" font-size="4.3" text-anchor="middle" textLength="2.30" lengthAdjust="spacingAndGlyphs">8</text>
<text x="147.10" y="358.30" font-size="4.3" text-anchor="middle" textLength="2.30" lengthAdjust="spacingAndGlyphs">8</text>
<text x="176.27" y="358.30" font-size="4.3" text-anchor="middle" textLength="2.30" lengthAdjust="spacingAndGlyphs">5</text>
<text x="205.44" y="358.30" font-size="4.3" text-anchor="middle" textLength="2.30" lengthAdjust="spacingAndGlyphs">5</text>
<text x="234.61" y="358.30" font-size="4.3" text-anchor="middle" textLength="2.30" lengthAdjust="spacingAndGlyphs">1</text>
<text x="51.80" y="362.40" font-size="4.3" text-anchor="end" textLength="10.60" lengthAdjust="spacingAndGlyphs">HBwI</text>
<text x="59.60" y="362.40" font-size="4.3" text-anchor="middle" textLength="2.30" lengthAdjust="spacingAndGlyphs">7</text>
<text x="74.18" y="362.40" font-size="4.3" text-anchor="middle" textLength="2.30" lengthAdjust="spacingAndGlyphs">7</text>
<text x="88.77" y="362.40" font-size="4.3" text-anchor="middle" textLength="2.30" lengthAdjust="spacingAndGlyphs">7</text>
<text x="103.35" y="362.40" font-size="4.3" text-anchor="middle" textLength="2.30" lengthAdjust="spacingAndGlyphs">7</text>
<text x="117.94" y="362.40" font-size="4.3" text-anchor="middle" textLength="2.30" lengthAdjust="spacingAndGlyphs">7</text>
<text x="132.52" y="362.40" font-size="4.3" text-anchor="middle" textLength="2.30" lengthAdjust="spacingAndGlyphs">7</text>
<text x="147.10" y="362.40" font-size="4.3" text-anchor="middle" textLength="2.30" lengthAdjust="spacingAndGlyphs">7</text>
<text x="176.27" y="362.40" font-size="4.3" text-anchor="middle" textLength="2.30" lengthAdjust="spacingAndGlyphs">5</text>
<text x="205.44" y="362.40" font-size="4.3" text-anchor="middle" textLength="2.30" lengthAdjust="spacingAndGlyphs">3</text>
<text x="234.61" y="362.40" font-size="4.3" text-anchor="middle" textLength="2.30" lengthAdjust="spacingAndGlyphs">2</text>
<line x1="95.50" y1="399.40" x2="113.00" y2="399.40" stroke="#8cc56a" stroke-width="1.3" stroke-linecap="butt"/>
<path d="M102.70,397.90L105.90,397.90L104.30,400.62Z" fill="#54a12b"/>
<text x="116.00" y="401.60" font-size="6.5" text-anchor="start" textLength="8.20" lengthAdjust="spacingAndGlyphs" fill="#333">HA</text>
<line x1="133.30" y1="399.40" x2="150.60" y2="399.40" stroke="#5f7bb0" stroke-width="1.3" stroke-linecap="butt"/>
<circle cx="142.00" cy="399.40" r="1.5" fill="#2d4f8e"/>
<text x="154.40" y="401.60" font-size="6.5" text-anchor="start" textLength="13.60" lengthAdjust="spacingAndGlyphs" fill="#333">HAwI</text>
<line x1="176.80" y1="399.40" x2="194.20" y2="399.40" stroke="#cf5a78" stroke-width="1.3" stroke-linecap="butt"/>
<path d="M184.10,398.00L186.90,400.80M184.10,400.80L186.90,398.00" stroke="#b8173f" stroke-width="1.1" fill="none"/>
<text x="197.60" y="401.60" font-size="6.5" text-anchor="start" textLength="13.20" lengthAdjust="spacingAndGlyphs" fill="#333">HBwI</text>
<polyline points="58.50,260.60 72.60,319.90 88.00,317.30 102.50,319.40 117.20,316.90 131.80,317.70 146.30,312.80 175.40,318.00 204.60,304.20" fill="none" stroke="#6cb33f" stroke-width="1.15" stroke-linejoin="round"/>
<line x1="58.50" y1="257.00" x2="58.50" y2="264.00" stroke="#6cb33f" stroke-width="0.9" stroke-linecap="butt"/>
<line x1="56.80" y1="257.00" x2="60.20" y2="257.00" stroke="#6cb33f" stroke-width="0.9" stroke-linecap="butt"/>
<line x1="56.80" y1="264.00" x2="60.20" y2="264.00" stroke="#6cb33f" stroke-width="0.9" stroke-linecap="butt"/>
<line x1="72.60" y1="317.00" x2="72.60" y2="322.00" stroke="#6cb33f" stroke-width="0.9" stroke-linecap="butt"/>
<line x1="70.90" y1="317.00" x2="74.30" y2="317.00" stroke="#6cb33f" stroke-width="0.9" stroke-linecap="butt"/>
<line x1="70.90" y1="322.00" x2="74.30" y2="322.00" stroke="#6cb33f" stroke-width="0.9" stroke-linecap="butt"/>
<line x1="88.00" y1="314.00" x2="88.00" y2="320.00" stroke="#6cb33f" stroke-width="0.9" stroke-linecap="butt"/>
<line x1="86.30" y1="314.00" x2="89.70" y2="314.00" stroke="#6cb33f" stroke-width="0.9" stroke-linecap="butt"/>
<line x1="86.30" y1="320.00" x2="89.70" y2="320.00" stroke="#6cb33f" stroke-width="0.9" stroke-linecap="butt"/>
<line x1="102.50" y1="316.00" x2="102.50" y2="322.00" stroke="#6cb33f" stroke-width="0.9" stroke-linecap="butt"/>
<line x1="100.80" y1="316.00" x2="104.20" y2="316.00" stroke="#6cb33f" stroke-width="0.9" stroke-linecap="butt"/>
<line x1="100.80" y1="322.00" x2="104.20" y2="322.00" stroke="#6cb33f" stroke-width="0.9" stroke-linecap="butt"/>
<line x1="117.20" y1="314.00" x2="117.20" y2="320.00" stroke="#6cb33f" stroke-width="0.9" stroke-linecap="butt"/>
<line x1="115.50" y1="314.00" x2="118.90" y2="314.00" stroke="#6cb33f" stroke-width="0.9" stroke-linecap="butt"/>
<line x1="115.50" y1="320.00" x2="118.90" y2="320.00" stroke="#6cb33f" stroke-width="0.9" stroke-linecap="butt"/>
<line x1="131.80" y1="315.00" x2="131.80" y2="320.50" stroke="#6cb33f" stroke-width="0.9" stroke-linecap="butt"/>
<line x1="130.10" y1="315.00" x2="133.50" y2="315.00" stroke="#6cb33f" stroke-width="0.9" stroke-linecap="butt"/>
<line x1="130.10" y1="320.50" x2="133.50" y2="320.50" stroke="#6cb33f" stroke-width="0.9" stroke-linecap="butt"/>
<line x1="146.30" y1="310.00" x2="146.30" y2="315.50" stroke="#6cb33f" stroke-width="0.9" stroke-linecap="butt"/>
<line x1="144.60" y1="310.00" x2="148.00" y2="310.00" stroke="#6cb33f" stroke-width="0.9" stroke-linecap="butt"/>
<line x1="144.60" y1="315.50" x2="148.00" y2="315.50" stroke="#6cb33f" stroke-width="0.9" stroke-linecap="butt"/>
<line x1="175.40" y1="315.00" x2="175.40" y2="321.00" stroke="#6cb33f" stroke-width="0.9" stroke-linecap="butt"/>
<line x1="173.70" y1="315.00" x2="177.10" y2="315.00" stroke="#6cb33f" stroke-width="0.9" stroke-linecap="butt"/>
<line x1="173.70" y1="321.00" x2="177.10" y2="321.00" stroke="#6cb33f" stroke-width="0.9" stroke-linecap="butt"/>
<path d="M56.90,259.40L60.10,259.40L58.50,262.12Z" fill="#54a12b"/>
<path d="M71.00,318.70L74.20,318.70L72.60,321.42Z" fill="#54a12b"/>
<path d="M86.40,316.10L89.60,316.10L88.00,318.82Z" fill="#54a12b"/>
<path d="M100.90,318.20L104.10,318.20L102.50,320.92Z" fill="#54a12b"/>
<path d="M115.60,315.70L118.80,315.70L117.20,318.42Z" fill="#54a12b"/>
<path d="M130.20,316.50L133.40,316.50L131.80,319.22Z" fill="#54a12b"/>
<path d="M144.70,311.60L147.90,311.60L146.30,314.32Z" fill="#54a12b"/>
<path d="M173.80,316.80L177.00,316.80L175.40,319.52Z" fill="#54a12b"/>
<path d="M203.00,303.00L206.20,303.00L204.60,305.72Z" fill="#54a12b"/>
<polyline points="59.50,254.90 74.30,309.90 88.50,317.30 103.20,317.30 118.00,319.40 132.50,319.90 147.00,314.40 176.20,315.80 205.80,320.40 234.20,301.50" fill="none" stroke="#2d4f8e" stroke-width="1.15" stroke-linejoin="round"/>
<line x1="59.50" y1="252.50" x2="59.50" y2="257.50" stroke="#2d4f8e" stroke-width="0.9" stroke-linecap="butt"/>
<line x1="57.80" y1="252.50" x2="61.20" y2="252.50" stroke="#2d4f8e" stroke-width="0.9" stroke-linecap="butt"/>
<line x1="57.80" y1="257.50" x2="61.20" y2="257.50" stroke="#2d4f8e" stroke-width="0.9" stroke-linecap="butt"/>
<line x1="74.30" y1="303.00" x2="74.30" y2="316.00" stroke="#2d4f8e" stroke-width="0.9" stroke-linecap="butt"/>
<line x1="72.60" y1="303.00" x2="76.00" y2="303.00" stroke="#2d4f8e" stroke-width="0.9" stroke-linecap="butt"/>
<line x1="72.60" y1="316.00" x2="76.00" y2="316.00" stroke="#2d4f8e" stroke-width="0.9" stroke-linecap="butt"/>
<line x1="88.50" y1="313.00" x2="88.50" y2="322.00" stroke="#2d4f8e" stroke-width="0.9" stroke-linecap="butt"/>
<line x1="86.80" y1="313.00" x2="90.20" y2="313.00" stroke="#2d4f8e" stroke-width="0.9" stroke-linecap="butt"/>
<line x1="86.80" y1="322.00" x2="90.20" y2="322.00" stroke="#2d4f8e" stroke-width="0.9" stroke-linecap="butt"/>
<line x1="103.20" y1="313.00" x2="103.20" y2="322.00" stroke="#2d4f8e" stroke-width="0.9" stroke-linecap="butt"/>
<line x1="101.50" y1="313.00" x2="104.90" y2="313.00" stroke="#2d4f8e" stroke-width="0.9" stroke-linecap="butt"/>
<line x1="101.50" y1="322.00" x2="104.90" y2="322.00" stroke="#2d4f8e" stroke-width="0.9" stroke-linecap="butt"/>
<line x1="118.00" y1="315.00" x2="118.00" y2="324.00" stroke="#2d4f8e" stroke-width="0.9" stroke-linecap="butt"/>
<line x1="116.30" y1="315.00" x2="119.70" y2="315.00" stroke="#2d4f8e" stroke-width="0.9" stroke-linecap="butt"/>
<line x1="116.30" y1="324.00" x2="119.70" y2="324.00" stroke="#2d4f8e" stroke-width="0.9" stroke-linecap="butt"/>
<line x1="132.50" y1="316.00" x2="132.50" y2="324.00" stroke="#2d4f8e" stroke-width="0.9" stroke-linecap="butt"/>
<line x1="130.80" y1="316.00" x2="134.20" y2="316.00" stroke="#2d4f8e" stroke-width="0.9" stroke-linecap="butt"/>
<line x1="130.80" y1="324.00" x2="134.20" y2="324.00" stroke="#2d4f8e" stroke-width="0.9" stroke-linecap="butt"/>
<line x1="147.00" y1="311.00" x2="147.00" y2="317.50" stroke="#2d4f8e" stroke-width="0.9" stroke-linecap="butt"/>
<line x1="145.30" y1="311.00" x2="148.70" y2="311.00" stroke="#2d4f8e" stroke-width="0.9" stroke-linecap="butt"/>
<line x1="145.30" y1="317.50" x2="148.70" y2="317.50" stroke="#2d4f8e" stroke-width="0.9" stroke-linecap="butt"/>
<line x1="176.20" y1="308.40" x2="176.20" y2="321.50" stroke="#2d4f8e" stroke-width="0.9" stroke-linecap="butt"/>
<line x1="174.50" y1="308.40" x2="177.90" y2="308.40" stroke="#2d4f8e" stroke-width="0.9" stroke-linecap="butt"/>
<line x1="174.50" y1="321.50" x2="177.90" y2="321.50" stroke="#2d4f8e" stroke-width="0.9" stroke-linecap="butt"/>
<line x1="205.80" y1="317.00" x2="205.80" y2="324.00" stroke="#2d4f8e" stroke-width="0.9" stroke-linecap="butt"/>
<line x1="204.10" y1="317.00" x2="207.50" y2="317.00" stroke="#2d4f8e" stroke-width="0.9" stroke-linecap="butt"/>
<line x1="204.10" y1="324.00" x2="207.50" y2="324.00" stroke="#2d4f8e" stroke-width="0.9" stroke-linecap="butt"/>
<circle cx="59.50" cy="254.90" r="1.45" fill="#2d4f8e"/>
<circle cx="74.30" cy="309.90" r="1.45" fill="#2d4f8e"/>
<circle cx="88.50" cy="317.30" r="1.45" fill="#2d4f8e"/>
<circle cx="103.20" cy="317.30" r="1.45" fill="#2d4f8e"/>
<circle cx="118.00" cy="319.40" r="1.45" fill="#2d4f8e"/>
<circle cx="132.50" cy="319.90" r="1.45" fill="#2d4f8e"/>
<circle cx="147.00" cy="314.40" r="1.45" fill="#2d4f8e"/>
<circle cx="176.20" cy="315.80" r="1.45" fill="#2d4f8e"/>
<circle cx="205.80" cy="320.40" r="1.45" fill="#2d4f8e"/>
<circle cx="234.20" cy="301.50" r="1.45" fill="#2d4f8e"/>
<polyline points="60.60,256.00 75.40,311.40 89.50,317.30 104.00,319.40 118.80,319.40 133.60,327.90 148.30,314.60 177.20,323.90 206.80,320.40 234.80,323.90" fill="none" stroke="#b8173f" stroke-width="1.15" stroke-linejoin="round"/>
<line x1="60.60" y1="250.50" x2="60.60" y2="259.50" stroke="#b8173f" stroke-width="0.9" stroke-linecap="butt"/>
<line x1="58.90" y1="250.50" x2="62.30" y2="250.50" stroke="#b8173f" stroke-width="0.9" stroke-linecap="butt"/>
<line x1="58.90" y1="259.50" x2="62.30" y2="259.50" stroke="#b8173f" stroke-width="0.9" stroke-linecap="butt"/>
<line x1="75.40" y1="305.00" x2="75.40" y2="318.00" stroke="#b8173f" stroke-width="0.9" stroke-linecap="butt"/>
<line x1="73.70" y1="305.00" x2="77.10" y2="305.00" stroke="#b8173f" stroke-width="0.9" stroke-linecap="butt"/>
<line x1="73.70" y1="318.00" x2="77.10" y2="318.00" stroke="#b8173f" stroke-width="0.9" stroke-linecap="butt"/>
<line x1="89.50" y1="311.00" x2="89.50" y2="324.00" stroke="#b8173f" stroke-width="0.9" stroke-linecap="butt"/>
<line x1="87.80" y1="311.00" x2="91.20" y2="311.00" stroke="#b8173f" stroke-width="0.9" stroke-linecap="butt"/>
<line x1="87.80" y1="324.00" x2="91.20" y2="324.00" stroke="#b8173f" stroke-width="0.9" stroke-linecap="butt"/>
<line x1="104.00" y1="314.00" x2="104.00" y2="325.00" stroke="#b8173f" stroke-width="0.9" stroke-linecap="butt"/>
<line x1="102.30" y1="314.00" x2="105.70" y2="314.00" stroke="#b8173f" stroke-width="0.9" stroke-linecap="butt"/>
<line x1="102.30" y1="325.00" x2="105.70" y2="325.00" stroke="#b8173f" stroke-width="0.9" stroke-linecap="butt"/>
<line x1="118.80" y1="315.00" x2="118.80" y2="324.00" stroke="#b8173f" stroke-width="0.9" stroke-linecap="butt"/>
<line x1="117.10" y1="315.00" x2="120.50" y2="315.00" stroke="#b8173f" stroke-width="0.9" stroke-linecap="butt"/>
<line x1="117.10" y1="324.00" x2="120.50" y2="324.00" stroke="#b8173f" stroke-width="0.9" stroke-linecap="butt"/>
<line x1="133.60" y1="324.50" x2="133.60" y2="331.50" stroke="#b8173f" stroke-width="0.9" stroke-linecap="butt"/>
<line x1="131.90" y1="324.50" x2="135.30" y2="324.50" stroke="#b8173f" stroke-width="0.9" stroke-linecap="butt"/>
<line x1="131.90" y1="331.50" x2="135.30" y2="331.50" stroke="#b8173f" stroke-width="0.9" stroke-linecap="butt"/>
<line x1="148.30" y1="312.00" x2="148.30" y2="317.50" stroke="#b8173f" stroke-width="0.9" stroke-linecap="butt"/>
<line x1="146.60" y1="312.00" x2="150.00" y2="312.00" stroke="#b8173f" stroke-width="0.9" stroke-linecap="butt"/>
<line x1="146.60" y1="317.50" x2="150.00" y2="317.50" stroke="#b8173f" stroke-width="0.9" stroke-linecap="butt"/>
<line x1="177.20" y1="320.50" x2="177.20" y2="327.50" stroke="#b8173f" stroke-width="0.9" stroke-linecap="butt"/>
<line x1="175.50" y1="320.50" x2="178.90" y2="320.50" stroke="#b8173f" stroke-width="0.9" stroke-linecap="butt"/>
<line x1="175.50" y1="327.50" x2="178.90" y2="327.50" stroke="#b8173f" stroke-width="0.9" stroke-linecap="butt"/>
<line x1="206.80" y1="313.00" x2="206.80" y2="327.50" stroke="#b8173f" stroke-width="0.9" stroke-linecap="butt"/>
<line x1="205.10" y1="313.00" x2="208.50" y2="313.00" stroke="#b8173f" stroke-width="0.9" stroke-linecap="butt"/>
<line x1="205.10" y1="327.50" x2="208.50" y2="327.50" stroke="#b8173f" stroke-width="0.9" stroke-linecap="butt"/>
<line x1="234.80" y1="317.50" x2="234.80" y2="330.50" stroke="#b8173f" stroke-width="0.9" stroke-linecap="butt"/>
<line x1="233.10" y1="317.50" x2="236.50" y2="317.50" stroke="#b8173f" stroke-width="0.9" stroke-linecap="butt"/>
<line x1="233.10" y1="330.50" x2="236.50" y2="330.50" stroke="#b8173f" stroke-width="0.9" stroke-linecap="butt"/>
<path d="M59.20,254.60L62.00,257.40M59.20,257.40L62.00,254.60" stroke="#b8173f" stroke-width="1.1" fill="none"/>
<path d="M74.00,310.00L76.80,312.80M74.00,312.80L76.80,310.00" stroke="#b8173f" stroke-width="1.1" fill="none"/>
<path d="M88.10,315.90L90.90,318.70M88.10,318.70L90.90,315.90" stroke="#b8173f" stroke-width="1.1" fill="none"/>
<path d="M102.60,318.00L105.40,320.80M102.60,320.80L105.40,318.00" stroke="#b8173f" stroke-width="1.1" fill="none"/>
<path d="M117.40,318.00L120.20,320.80M117.40,320.80L120.20,318.00" stroke="#b8173f" stroke-width="1.1" fill="none"/>
<path d="M132.20,326.50L135.00,329.30M132.20,329.30L135.00,326.50" stroke="#b8173f" stroke-width="1.1" fill="none"/>
<path d="M146.90,313.20L149.70,316.00M146.90,316.00L149.70,313.20" stroke="#b8173f" stroke-width="1.1" fill="none"/>
<path d="M175.80,322.50L178.60,325.30M175.80,325.30L178.60,322.50" stroke="#b8173f" stroke-width="1.1" fill="none"/>
<path d="M205.40,319.00L208.20,321.80M205.40,321.80L208.20,319.00" stroke="#b8173f" stroke-width="1.1" fill="none"/>
<path d="M233.40,322.50L236.20,325.30M233.40,325.30L236.20,322.50" stroke="#b8173f" stroke-width="1.1" fill="none"/>
<text x="7.10" y="428.00" font-size="12.6" text-anchor="start" font-weight="bold" fill="#000" stroke="#000" stroke-width="0.35">C</text>
<line x1="55.50" y1="430.80" x2="55.50" y2="569.90" stroke="#000" stroke-width="1.4" stroke-linecap="butt"/>
<line x1="54.80" y1="569.20" x2="250.40" y2="569.20" stroke="#000" stroke-width="1.4" stroke-linecap="butt"/>
<line x1="52.10" y1="439.80" x2="55.50" y2="439.80" stroke="#1a1a1a" stroke-width="1.1" stroke-linecap="butt"/>
<text x="49.50" y="442.45" font-size="7.7" text-anchor="end" textLength="10.50" lengthAdjust="spacingAndGlyphs">150</text>
<line x1="52.10" y1="457.30" x2="55.50" y2="457.30" stroke="#1a1a1a" stroke-width="1.1" stroke-linecap="butt"/>
<text x="49.50" y="459.95" font-size="7.7" text-anchor="end" textLength="10.50" lengthAdjust="spacingAndGlyphs">125</text>
<line x1="52.10" y1="475.40" x2="55.50" y2="475.40" stroke="#1a1a1a" stroke-width="1.1" stroke-linecap="butt"/>
<text x="49.50" y="478.05" font-size="7.7" text-anchor="end" textLength="10.50" lengthAdjust="spacingAndGlyphs">100</text>
<line x1="52.10" y1="492.90" x2="55.50" y2="492.90" stroke="#1a1a1a" stroke-width="1.1" stroke-linecap="butt"/>
<text x="49.50" y="495.55" font-size="7.7" text-anchor="end" textLength="7.00" lengthAdjust="spacingAndGlyphs">75</text>
<line x1="52.10" y1="510.60" x2="55.50" y2="510.60" stroke="#1a1a1a" stroke-width="1.1" stroke-linecap="butt"/>
<text x="49.50" y="513.25" font-size="7.7" text-anchor="end" textLength="7.00" lengthAdjust="spacingAndGlyphs">50</text>
<line x1="52.10" y1="528.10" x2="55.50" y2="528.10" stroke="#1a1a1a" stroke-width="1.1" stroke-linecap="butt"/>
<text x="49.50" y="530.75" font-size="7.7" text-anchor="end" textLength="7.00" lengthAdjust="spacingAndGlyphs">25</text>
<line x1="52.10" y1="545.80" x2="55.50" y2="545.80" stroke="#1a1a1a" stroke-width="1.1" stroke-linecap="butt"/>
<text x="49.50" y="548.45" font-size="7.7" text-anchor="end" textLength="7.00" lengthAdjust="spacingAndGlyphs">10</text>
<line x1="59.60" y1="569.20" x2="59.60" y2="572.60" stroke="#1a1a1a" stroke-width="1.1" stroke-linecap="butt"/>
<text x="59.60" y="581.30" font-size="7.5" text-anchor="middle" textLength="3.60" lengthAdjust="spacingAndGlyphs">0</text>
<line x1="74.18" y1="569.20" x2="74.18" y2="572.60" stroke="#1a1a1a" stroke-width="1.1" stroke-linecap="butt"/>
<text x="74.18" y="581.30" font-size="7.5" text-anchor="middle" textLength="3.60" lengthAdjust="spacingAndGlyphs">4</text>
<line x1="88.77" y1="569.20" x2="88.77" y2="572.60" stroke="#1a1a1a" stroke-width="1.1" stroke-linecap="butt"/>
<text x="88.77" y="581.30" font-size="7.5" text-anchor="middle" textLength="3.60" lengthAdjust="spacingAndGlyphs">8</text>
<line x1="103.35" y1="569.20" x2="103.35" y2="572.60" stroke="#1a1a1a" stroke-width="1.1" stroke-linecap="butt"/>
<text x="103.35" y="581.30" font-size="7.5" text-anchor="middle" textLength="7.20" lengthAdjust="spacingAndGlyphs">12</text>
<line x1="117.94" y1="569.20" x2="117.94" y2="572.60" stroke="#1a1a1a" stroke-width="1.1" stroke-linecap="butt"/>
<text x="117.94" y="581.30" font-size="7.5" text-anchor="middle" textLength="7.20" lengthAdjust="spacingAndGlyphs">16</text>
<line x1="132.52" y1="569.20" x2="132.52" y2="572.60" stroke="#1a1a1a" stroke-width="1.1" stroke-linecap="butt"/>
<text x="132.52" y="581.30" font-size="7.5" text-anchor="middle" textLength="7.20" lengthAdjust="spacingAndGlyphs">20</text>
<line x1="147.10" y1="569.20" x2="147.10" y2="572.60" stroke="#1a1a1a" stroke-width="1.1" stroke-linecap="butt"/>
<text x="147.10" y="581.30" font-size="7.5" text-anchor="middle" textLength="7.20" lengthAdjust="spacingAndGlyphs">24</text>
<line x1="161.69" y1="569.20" x2="161.69" y2="572.60" stroke="#1a1a1a" stroke-width="1.1" stroke-linecap="butt"/>
<text x="161.69" y="581.30" font-size="7.5" text-anchor="middle" textLength="7.20" lengthAdjust="spacingAndGlyphs">28</text>
<line x1="176.27" y1="569.20" x2="176.27" y2="572.60" stroke="#1a1a1a" stroke-width="1.1" stroke-linecap="butt"/>
<text x="176.27" y="581.30" font-size="7.5" text-anchor="middle" textLength="7.20" lengthAdjust="spacingAndGlyphs">32</text>
<line x1="190.86" y1="569.20" x2="190.86" y2="572.60" stroke="#1a1a1a" stroke-width="1.1" stroke-linecap="butt"/>
<text x="190.86" y="581.30" font-size="7.5" text-anchor="middle" textLength="7.20" lengthAdjust="spacingAndGlyphs">36</text>
<line x1="205.44" y1="569.20" x2="205.44" y2="572.60" stroke="#1a1a1a" stroke-width="1.1" stroke-linecap="butt"/>
<text x="205.44" y="581.30" font-size="7.5" text-anchor="middle" textLength="7.20" lengthAdjust="spacingAndGlyphs">40</text>
<line x1="220.02" y1="569.20" x2="220.02" y2="572.60" stroke="#1a1a1a" stroke-width="1.1" stroke-linecap="butt"/>
<text x="220.02" y="581.30" font-size="7.5" text-anchor="middle" textLength="7.20" lengthAdjust="spacingAndGlyphs">44</text>
<line x1="234.61" y1="569.20" x2="234.61" y2="572.60" stroke="#1a1a1a" stroke-width="1.1" stroke-linecap="butt"/>
<text x="234.61" y="581.30" font-size="7.5" text-anchor="middle" textLength="7.20" lengthAdjust="spacingAndGlyphs">48</text>
<line x1="55.20" y1="444.40" x2="251.20" y2="444.40" stroke="#1a1a1a" stroke-width="1.3" stroke-dasharray="3.4,2.1" stroke-linecap="butt"/>
<line x1="55.20" y1="526.30" x2="251.20" y2="526.30" stroke="#1a1a1a" stroke-width="1.3" stroke-dasharray="3.4,2.1" stroke-linecap="butt"/>
<text x="247.30" y="443.20" font-size="4.6" text-anchor="end" textLength="8.10" lengthAdjust="spacingAndGlyphs">ULN</text>
<text x="247.30" y="525.40" font-size="4.6" text-anchor="end" textLength="8.10" lengthAdjust="spacingAndGlyphs">LLN</text>
<text x="33.00" y="495.90" font-size="8.3" text-anchor="middle" textLength="106.40" lengthAdjust="spacingAndGlyphs" fill="#303030" transform="rotate(-90 33.00 495.90)">Peak thrombin generation (nmol/mL)</text>
<text x="153.00" y="593.20" font-size="8.3" text-anchor="middle" textLength="67.20" lengthAdjust="spacingAndGlyphs" fill="#303030">Nominal time (weeks)</text>
<text x="57.00" y="554.60" font-size="4.9" text-anchor="start" textLength="63.00" lengthAdjust="spacingAndGlyphs">Number of subjects at each visit</text>
<text x="51.80" y="560.00" font-size="4.3" text-anchor="end" textLength="6.60" lengthAdjust="spacingAndGlyphs">HA</text>
<text x="59.60" y="560.00" font-size="4.3" text-anchor="middle" textLength="4.60" lengthAdjust="spacingAndGlyphs">21</text>
<text x="74.18" y="560.00" font-size="4.3" text-anchor="middle" textLength="4.60" lengthAdjust="spacingAndGlyphs">19</text>
<text x="88.77" y="560.00" font-size="4.3" text-anchor="middle" textLength="4.60" lengthAdjust="spacingAndGlyphs">17</text>
<text x="103.35" y="560.00" font-size="4.3" text-anchor="middle" textLength="4.60" lengthAdjust="spacingAndGlyphs">18</text>
<text x="117.94" y="560.00" font-size="4.3" text-anchor="middle" textLength="4.60" lengthAdjust="spacingAndGlyphs">18</text>
<text x="132.52" y="560.00" font-size="4.3" text-anchor="middle" textLength="4.60" lengthAdjust="spacingAndGlyphs">18</text>
<text x="147.10" y="560.00" font-size="4.3" text-anchor="middle" textLength="4.60" lengthAdjust="spacingAndGlyphs">18</text>
<text x="176.27" y="560.00" font-size="4.3" text-anchor="middle" textLength="2.30" lengthAdjust="spacingAndGlyphs">9</text>
<text x="205.44" y="560.00" font-size="4.3" text-anchor="middle" textLength="2.30" lengthAdjust="spacingAndGlyphs">1</text>
<text x="51.80" y="563.80" font-size="4.3" text-anchor="end" textLength="10.60" lengthAdjust="spacingAndGlyphs">HAwI</text>
<text x="59.60" y="563.80" font-size="4.3" text-anchor="middle" textLength="2.30" lengthAdjust="spacingAndGlyphs">7</text>
<text x="74.18" y="563.80" font-size="4.3" text-anchor="middle" textLength="2.30" lengthAdjust="spacingAndGlyphs">8</text>
<text x="88.77" y="563.80" font-size="4.3" text-anchor="middle" textLength="2.30" lengthAdjust="spacingAndGlyphs">8</text>
<text x="103.35" y="563.80" font-size="4.3" text-anchor="middle" textLength="2.30" lengthAdjust="spacingAndGlyphs">8</text>
<text x="117.94" y="563.80" font-size="4.3" text-anchor="middle" textLength="2.30" lengthAdjust="spacingAndGlyphs">8</text>
<text x="132.52" y="563.80" font-size="4.3" text-anchor="middle" textLength="2.30" lengthAdjust="spacingAndGlyphs">8</text>
<text x="147.10" y="563.80" font-size="4.3" text-anchor="middle" textLength="2.30" lengthAdjust="spacingAndGlyphs">8</text>
<text x="176.27" y="563.80" font-size="4.3" text-anchor="middle" textLength="2.30" lengthAdjust="spacingAndGlyphs">5</text>
<text x="205.44" y="563.80" font-size="4.3" text-anchor="middle" textLength="2.30" lengthAdjust="spacingAndGlyphs">5</text>
<text x="234.61" y="563.80" font-size="4.3" text-anchor="middle" textLength="2.30" lengthAdjust="spacingAndGlyphs">1</text>
<text x="51.80" y="567.90" font-size="4.3" text-anchor="end" textLength="10.60" lengthAdjust="spacingAndGlyphs">HBwI</text>
<text x="59.60" y="567.90" font-size="4.3" text-anchor="middle" textLength="2.30" lengthAdjust="spacingAndGlyphs">7</text>
<text x="74.18" y="567.90" font-size="4.3" text-anchor="middle" textLength="2.30" lengthAdjust="spacingAndGlyphs">7</text>
<text x="88.77" y="567.90" font-size="4.3" text-anchor="middle" textLength="2.30" lengthAdjust="spacingAndGlyphs">7</text>
<text x="103.35" y="567.90" font-size="4.3" text-anchor="middle" textLength="2.30" lengthAdjust="spacingAndGlyphs">7</text>
<text x="117.94" y="567.90" font-size="4.3" text-anchor="middle" textLength="2.30" lengthAdjust="spacingAndGlyphs">7</text>
<text x="132.52" y="567.90" font-size="4.3" text-anchor="middle" textLength="2.30" lengthAdjust="spacingAndGlyphs">7</text>
<text x="147.10" y="567.90" font-size="4.3" text-anchor="middle" textLength="2.30" lengthAdjust="spacingAndGlyphs">7</text>
<text x="176.27" y="567.90" font-size="4.3" text-anchor="middle" textLength="2.30" lengthAdjust="spacingAndGlyphs">5</text>
<text x="205.44" y="567.90" font-size="4.3" text-anchor="middle" textLength="2.30" lengthAdjust="spacingAndGlyphs">3</text>
<text x="234.61" y="567.90" font-size="4.3" text-anchor="middle" textLength="2.30" lengthAdjust="spacingAndGlyphs">1</text>
<line x1="95.50" y1="604.80" x2="113.00" y2="604.80" stroke="#8cc56a" stroke-width="1.3" stroke-linecap="butt"/>
<path d="M102.70,603.30L105.90,603.30L104.30,606.02Z" fill="#54a12b"/>
<text x="116.00" y="607.00" font-size="6.5" text-anchor="start" textLength="8.20" lengthAdjust="spacingAndGlyphs" fill="#333">HA</text>
<line x1="133.30" y1="604.80" x2="150.60" y2="604.80" stroke="#5f7bb0" stroke-width="1.3" stroke-linecap="butt"/>
<circle cx="142.00" cy="604.80" r="1.5" fill="#2d4f8e"/>
<text x="154.40" y="607.00" font-size="6.5" text-anchor="start" textLength="13.60" lengthAdjust="spacingAndGlyphs" fill="#333">HAwI</text>
<line x1="176.80" y1="604.80" x2="194.20" y2="604.80" stroke="#cf5a78" stroke-width="1.3" stroke-linecap="butt"/>
<path d="M184.10,603.40L186.90,606.20M184.10,606.20L186.90,603.40" stroke="#b8173f" stroke-width="1.1" fill="none"/>
<text x="197.60" y="607.00" font-size="6.5" text-anchor="start" textLength="13.20" lengthAdjust="spacingAndGlyphs" fill="#333">HBwI</text>
<polyline points="58.00,518.40 72.20,482.80 88.20,484.10 102.80,482.80 117.20,485.60 131.80,485.20 146.30,482.90 175.20,486.20 204.40,522.20" fill="none" stroke="#6cb33f" stroke-width="1.15" stroke-linejoin="round"/>
<line x1="58.00" y1="514.60" x2="58.00" y2="524.60" stroke="#6cb33f" stroke-width="0.9" stroke-linecap="butt"/>
<line x1="56.30" y1="514.60" x2="59.70" y2="514.60" stroke="#6cb33f" stroke-width="0.9" stroke-linecap="butt"/>
<line x1="56.30" y1="524.60" x2="59.70" y2="524.60" stroke="#6cb33f" stroke-width="0.9" stroke-linecap="butt"/>
<line x1="72.20" y1="475.50" x2="72.20" y2="491.00" stroke="#6cb33f" stroke-width="0.9" stroke-linecap="butt"/>
<line x1="70.50" y1="475.50" x2="73.90" y2="475.50" stroke="#6cb33f" stroke-width="0.9" stroke-linecap="butt"/>
<line x1="70.50" y1="491.00" x2="73.90" y2="491.00" stroke="#6cb33f" stroke-width="0.9" stroke-linecap="butt"/>
<line x1="88.20" y1="476.50" x2="88.20" y2="493.00" stroke="#6cb33f" stroke-width="0.9" stroke-linecap="butt"/>
<line x1="86.50" y1="476.50" x2="89.90" y2="476.50" stroke="#6cb33f" stroke-width="0.9" stroke-linecap="butt"/>
<line x1="86.50" y1="493.00" x2="89.90" y2="493.00" stroke="#6cb33f" stroke-width="0.9" stroke-linecap="butt"/>
<line x1="102.80" y1="478.00" x2="102.80" y2="488.00" stroke="#6cb33f" stroke-width="0.9" stroke-linecap="butt"/>
<line x1="101.10" y1="478.00" x2="104.50" y2="478.00" stroke="#6cb33f" stroke-width="0.9" stroke-linecap="butt"/>
<line x1="101.10" y1="488.00" x2="104.50" y2="488.00" stroke="#6cb33f" stroke-width="0.9" stroke-linecap="butt"/>
<line x1="117.20" y1="479.50" x2="117.20" y2="491.50" stroke="#6cb33f" stroke-width="0.9" stroke-linecap="butt"/>
<line x1="115.50" y1="479.50" x2="118.90" y2="479.50" stroke="#6cb33f" stroke-width="0.9" stroke-linecap="butt"/>
<line x1="115.50" y1="491.50" x2="118.90" y2="491.50" stroke="#6cb33f" stroke-width="0.9" stroke-linecap="butt"/>
<line x1="131.80" y1="478.50" x2="131.80" y2="492.00" stroke="#6cb33f" stroke-width="0.9" stroke-linecap="butt"/>
<line x1="130.10" y1="478.50" x2="133.50" y2="478.50" stroke="#6cb33f" stroke-width="0.9" stroke-linecap="butt"/>
<line x1="130.10" y1="492.00" x2="133.50" y2="492.00" stroke="#6cb33f" stroke-width="0.9" stroke-linecap="butt"/>
<line x1="146.30" y1="477.50" x2="146.30" y2="489.00" stroke="#6cb33f" stroke-width="0.9" stroke-linecap="butt"/>
<line x1="144.60" y1="477.50" x2="148.00" y2="477.50" stroke="#6cb33f" stroke-width="0.9" stroke-linecap="butt"/>
<line x1="144.60" y1="489.00" x2="148.00" y2="489.00" stroke="#6cb33f" stroke-width="0.9" stroke-linecap="butt"/>
<line x1="175.20" y1="480.00" x2="175.20" y2="493.00" stroke="#6cb33f" stroke-width="0.9" stroke-linecap="butt"/>
<line x1="173.50" y1="480.00" x2="176.90" y2="480.00" stroke="#6cb33f" stroke-width="0.9" stroke-linecap="butt"/>
<line x1="173.50" y1="493.00" x2="176.90" y2="493.00" stroke="#6cb33f" stroke-width="0.9" stroke-linecap="butt"/>
<path d="M56.40,517.20L59.60,517.20L58.00,519.92Z" fill="#54a12b"/>
<path d="M70.60,481.60L73.80,481.60L72.20,484.32Z" fill="#54a12b"/>
<path d="M86.60,482.90L89.80,482.90L88.20,485.62Z" fill="#54a12b"/>
<path d="M101.20,481.60L104.40,481.60L102.80,484.32Z" fill="#54a12b"/>
<path d="M115.60,484.40L118.80,484.40L117.20,487.12Z" fill="#54a12b"/>
<path d="M130.20,484.00L133.40,484.00L131.80,486.72Z" fill="#54a12b"/>
<path d="M144.70,481.70L147.90,481.70L146.30,484.42Z" fill="#54a12b"/>
<path d="M173.60,485.00L176.80,485.00L175.20,487.72Z" fill="#54a12b"/>
<path d="M202.80,521.00L206.00,521.00L204.40,523.72Z" fill="#54a12b"/>
<polyline points="59.50,537.40 73.90,496.60 88.50,484.50 103.20,489.20 118.00,485.20 132.50,487.30 147.00,499.20 176.20,489.70 205.80,473.10 234.20,476.50" fill="none" stroke="#2d4f8e" stroke-width="1.15" stroke-linejoin="round"/>
<line x1="73.90" y1="486.50" x2="73.90" y2="506.50" stroke="#2d4f8e" stroke-width="0.9" stroke-linecap="butt"/>
<line x1="72.20" y1="486.50" x2="75.60" y2="486.50" stroke="#2d4f8e" stroke-width="0.9" stroke-linecap="butt"/>
<line x1="72.20" y1="506.50" x2="75.60" y2="506.50" stroke="#2d4f8e" stroke-width="0.9" stroke-linecap="butt"/>
<line x1="88.50" y1="476.50" x2="88.50" y2="492.00" stroke="#2d4f8e" stroke-width="0.9" stroke-linecap="butt"/>
<line x1="86.80" y1="476.50" x2="90.20" y2="476.50" stroke="#2d4f8e" stroke-width="0.9" stroke-linecap="butt"/>
<line x1="86.80" y1="492.00" x2="90.20" y2="492.00" stroke="#2d4f8e" stroke-width="0.9" stroke-linecap="butt"/>
<line x1="103.20" y1="480.50" x2="103.20" y2="497.00" stroke="#2d4f8e" stroke-width="0.9" stroke-linecap="butt"/>
<line x1="101.50" y1="480.50" x2="104.90" y2="480.50" stroke="#2d4f8e" stroke-width="0.9" stroke-linecap="butt"/>
<line x1="101.50" y1="497.00" x2="104.90" y2="497.00" stroke="#2d4f8e" stroke-width="0.9" stroke-linecap="butt"/>
<line x1="118.00" y1="477.00" x2="118.00" y2="494.00" stroke="#2d4f8e" stroke-width="0.9" stroke-linecap="butt"/>
<line x1="116.30" y1="477.00" x2="119.70" y2="477.00" stroke="#2d4f8e" stroke-width="0.9" stroke-linecap="butt"/>
<line x1="116.30" y1="494.00" x2="119.70" y2="494.00" stroke="#2d4f8e" stroke-width="0.9" stroke-linecap="butt"/>
<line x1="132.50" y1="478.00" x2="132.50" y2="496.00" stroke="#2d4f8e" stroke-width="0.9" stroke-linecap="butt"/>
<line x1="130.80" y1="478.00" x2="134.20" y2="478.00" stroke="#2d4f8e" stroke-width="0.9" stroke-linecap="butt"/>
<line x1="130.80" y1="496.00" x2="134.20" y2="496.00" stroke="#2d4f8e" stroke-width="0.9" stroke-linecap="butt"/>
<line x1="147.00" y1="491.50" x2="147.00" y2="506.50" stroke="#2d4f8e" stroke-width="0.9" stroke-linecap="butt"/>
<line x1="145.30" y1="491.50" x2="148.70" y2="491.50" stroke="#2d4f8e" stroke-width="0.9" stroke-linecap="butt"/>
<line x1="145.30" y1="506.50" x2="148.70" y2="506.50" stroke="#2d4f8e" stroke-width="0.9" stroke-linecap="butt"/>
<line x1="176.20" y1="475.50" x2="176.20" y2="504.00" stroke="#2d4f8e" stroke-width="0.9" stroke-linecap="butt"/>
<line x1="174.50" y1="475.50" x2="177.90" y2="475.50" stroke="#2d4f8e" stroke-width="0.9" stroke-linecap="butt"/>
<line x1="174.50" y1="504.00" x2="177.90" y2="504.00" stroke="#2d4f8e" stroke-width="0.9" stroke-linecap="butt"/>
<line x1="205.80" y1="459.70" x2="205.80" y2="486.90" stroke="#2d4f8e" stroke-width="0.9" stroke-linecap="butt"/>
<line x1="204.10" y1="459.70" x2="207.50" y2="459.70" stroke="#2d4f8e" stroke-width="0.9" stroke-linecap="butt"/>
<line x1="204.10" y1="486.90" x2="207.50" y2="486.90" stroke="#2d4f8e" stroke-width="0.9" stroke-linecap="butt"/>
<circle cx="59.50" cy="537.40" r="1.45" fill="#2d4f8e"/>
<circle cx="73.90" cy="496.60" r="1.45" fill="#2d4f8e"/>
<circle cx="88.50" cy="484.50" r="1.45" fill="#2d4f8e"/>
<circle cx="103.20" cy="489.20" r="1.45" fill="#2d4f8e"/>
<circle cx="118.00" cy="485.20" r="1.45" fill="#2d4f8e"/>
<circle cx="132.50" cy="487.30" r="1.45" fill="#2d4f8e"/>
<circle cx="147.00" cy="499.20" r="1.45" fill="#2d4f8e"/>
<circle cx="176.20" cy="489.70" r="1.45" fill="#2d4f8e"/>
<circle cx="205.80" cy="473.10" r="1.45" fill="#2d4f8e"/>
<circle cx="234.20" cy="476.50" r="1.45" fill="#2d4f8e"/>
<polyline points="61.20,542.00 75.40,511.40 89.80,504.20 104.20,498.90 118.80,504.00 133.60,495.10 148.50,511.80 177.40,500.80 207.00,503.10 234.80,496.90" fill="none" stroke="#b8173f" stroke-width="1.15" stroke-linejoin="round"/>
<line x1="75.40" y1="502.00" x2="75.40" y2="519.50" stroke="#b8173f" stroke-width="0.9" stroke-linecap="butt"/>
<line x1="73.70" y1="502.00" x2="77.10" y2="502.00" stroke="#b8173f" stroke-width="0.9" stroke-linecap="butt"/>
<line x1="73.70" y1="519.50" x2="77.10" y2="519.50" stroke="#b8173f" stroke-width="0.9" stroke-linecap="butt"/>
<line x1="89.80" y1="494.00" x2="89.80" y2="514.00" stroke="#b8173f" stroke-width="0.9" stroke-linecap="butt"/>
<line x1="88.10" y1="494.00" x2="91.50" y2="494.00" stroke="#b8173f" stroke-width="0.9" stroke-linecap="butt"/>
<line x1="88.10" y1="514.00" x2="91.50" y2="514.00" stroke="#b8173f" stroke-width="0.9" stroke-linecap="butt"/>
<line x1="104.20" y1="489.50" x2="104.20" y2="508.50" stroke="#b8173f" stroke-width="0.9" stroke-linecap="butt"/>
<line x1="102.50" y1="489.50" x2="105.90" y2="489.50" stroke="#b8173f" stroke-width="0.9" stroke-linecap="butt"/>
<line x1="102.50" y1="508.50" x2="105.90" y2="508.50" stroke="#b8173f" stroke-width="0.9" stroke-linecap="butt"/>
<line x1="118.80" y1="494.00" x2="118.80" y2="513.50" stroke="#b8173f" stroke-width="0.9" stroke-linecap="butt"/>
<line x1="117.10" y1="494.00" x2="120.50" y2="494.00" stroke="#b8173f" stroke-width="0.9" stroke-linecap="butt"/>
<line x1="117.10" y1="513.50" x2="120.50" y2="513.50" stroke="#b8173f" stroke-width="0.9" stroke-linecap="butt"/>
<line x1="133.60" y1="488.00" x2="133.60" y2="502.00" stroke="#b8173f" stroke-width="0.9" stroke-linecap="butt"/>
<line x1="131.90" y1="488.00" x2="135.30" y2="488.00" stroke="#b8173f" stroke-width="0.9" stroke-linecap="butt"/>
<line x1="131.90" y1="502.00" x2="135.30" y2="502.00" stroke="#b8173f" stroke-width="0.9" stroke-linecap="butt"/>
<line x1="148.50" y1="506.00" x2="148.50" y2="518.00" stroke="#b8173f" stroke-width="0.9" stroke-linecap="butt"/>
<line x1="146.80" y1="506.00" x2="150.20" y2="506.00" stroke="#b8173f" stroke-width="0.9" stroke-linecap="butt"/>
<line x1="146.80" y1="518.00" x2="150.20" y2="518.00" stroke="#b8173f" stroke-width="0.9" stroke-linecap="butt"/>
<line x1="177.40" y1="493.00" x2="177.40" y2="508.50" stroke="#b8173f" stroke-width="0.9" stroke-linecap="butt"/>
<line x1="175.70" y1="493.00" x2="179.10" y2="493.00" stroke="#b8173f" stroke-width="0.9" stroke-linecap="butt"/>
<line x1="175.70" y1="508.50" x2="179.10" y2="508.50" stroke="#b8173f" stroke-width="0.9" stroke-linecap="butt"/>
<line x1="207.00" y1="489.20" x2="207.00" y2="516.90" stroke="#b8173f" stroke-width="0.9" stroke-linecap="butt"/>
<line x1="205.30" y1="489.20" x2="208.70" y2="489.20" stroke="#b8173f" stroke-width="0.9" stroke-linecap="butt"/>
<line x1="205.30" y1="516.90" x2="208.70" y2="516.90" stroke="#b8173f" stroke-width="0.9" stroke-linecap="butt"/>
<path d="M59.80,540.60L62.60,543.40M59.80,543.40L62.60,540.60" stroke="#b8173f" stroke-width="1.1" fill="none"/>
<path d="M74.00,510.00L76.80,512.80M74.00,512.80L76.80,510.00" stroke="#b8173f" stroke-width="1.1" fill="none"/>
<path d="M88.40,502.80L91.20,505.60M88.40,505.60L91.20,502.80" stroke="#b8173f" stroke-width="1.1" fill="none"/>
<path d="M102.80,497.50L105.60,500.30M102.80,500.30L105.60,497.50" stroke="#b8173f" stroke-width="1.1" fill="none"/>
<path d="M117.40,502.60L120.20,505.40M117.40,505.40L120.20,502.60" stroke="#b8173f" stroke-width="1.1" fill="none"/>
<path d="M132.20,493.70L135.00,496.50M132.20,496.50L135.00,493.70" stroke="#b8173f" stroke-width="1.1" fill="none"/>
<path d="M147.10,510.40L149.90,513.20M147.10,513.20L149.90,510.40" stroke="#b8173f" stroke-width="1.1" fill="none"/>
<path d="M176.00,499.40L178.80,502.20M176.00,502.20L178.80,499.40" stroke="#b8173f" stroke-width="1.1" fill="none"/>
<path d="M205.60,501.70L208.40,504.50M205.60,504.50L208.40,501.70" stroke="#b8173f" stroke-width="1.1" fill="none"/>
<path d="M233.40,495.50L236.20,498.30M233.40,498.30L236.20,495.50" stroke="#b8173f" stroke-width="1.1" fill="none"/>
<text x="266.10" y="17.00" font-size="12.6" text-anchor="start" font-weight="bold" fill="#000" stroke="#000" stroke-width="0.35">D</text>
<line x1="318.00" y1="19.80" x2="318.00" y2="159.10" stroke="#000" stroke-width="1.4" stroke-linecap="butt"/>
<line x1="317.30" y1="158.40" x2="512.30" y2="158.40" stroke="#000" stroke-width="1.4" stroke-linecap="butt"/>
<line x1="314.60" y1="39.40" x2="318.00" y2="39.40" stroke="#1a1a1a" stroke-width="1.1" stroke-linecap="butt"/>
<text x="312.80" y="42.05" font-size="7.7" text-anchor="end" textLength="10.50" lengthAdjust="spacingAndGlyphs">150</text>
<line x1="314.60" y1="49.60" x2="318.00" y2="49.60" stroke="#1a1a1a" stroke-width="1.1" stroke-linecap="butt"/>
<text x="312.80" y="52.25" font-size="7.7" text-anchor="end" textLength="10.50" lengthAdjust="spacingAndGlyphs">100</text>
<line x1="314.60" y1="67.70" x2="318.00" y2="67.70" stroke="#1a1a1a" stroke-width="1.1" stroke-linecap="butt"/>
<text x="312.80" y="70.35" font-size="7.7" text-anchor="end" textLength="7.00" lengthAdjust="spacingAndGlyphs">50</text>
<line x1="314.60" y1="84.40" x2="318.00" y2="84.40" stroke="#1a1a1a" stroke-width="1.1" stroke-linecap="butt"/>
<text x="312.80" y="87.05" font-size="7.7" text-anchor="end" textLength="7.00" lengthAdjust="spacingAndGlyphs">25</text>
<line x1="314.60" y1="109.50" x2="318.00" y2="109.50" stroke="#1a1a1a" stroke-width="1.1" stroke-linecap="butt"/>
<text x="312.80" y="112.15" font-size="7.7" text-anchor="end" textLength="7.00" lengthAdjust="spacingAndGlyphs">10</text>
<line x1="337.30" y1="158.40" x2="337.30" y2="161.40" stroke="#1a1a1a" stroke-width="1.0" stroke-linecap="butt"/>
<text x="337.30" y="170.60" font-size="7.5" text-anchor="middle" textLength="8.00" lengthAdjust="spacingAndGlyphs">BC</text>
<line x1="368.10" y1="158.40" x2="368.10" y2="161.40" stroke="#1a1a1a" stroke-width="1.0" stroke-linecap="butt"/>
<text x="368.10" y="170.60" font-size="7.5" text-anchor="middle" textLength="7.00" lengthAdjust="spacingAndGlyphs">10</text>
<line x1="412.40" y1="158.40" x2="412.40" y2="161.40" stroke="#1a1a1a" stroke-width="1.0" stroke-linecap="butt"/>
<text x="412.40" y="170.60" font-size="7.5" text-anchor="middle" textLength="10.50" lengthAdjust="spacingAndGlyphs">100</text>
<line x1="456.70" y1="158.40" x2="456.70" y2="161.40" stroke="#1a1a1a" stroke-width="1.0" stroke-linecap="butt"/>
<text x="456.70" y="170.60" font-size="7.5" text-anchor="middle" textLength="14.00" lengthAdjust="spacingAndGlyphs">1000</text>
<line x1="501.00" y1="158.40" x2="501.00" y2="161.40" stroke="#1a1a1a" stroke-width="1.0" stroke-linecap="butt"/>
<text x="501.00" y="170.60" font-size="7.5" text-anchor="middle" textLength="17.50" lengthAdjust="spacingAndGlyphs">10000</text>
<line x1="354.30" y1="19.80" x2="354.30" y2="158.40" stroke="#1a1a1a" stroke-width="1.15" stroke-dasharray="3.3,2.2" stroke-linecap="butt"/>
<text x="357.50" y="156.20" font-size="4.6" text-anchor="start" textLength="11.50" lengthAdjust="spacingAndGlyphs">LLOQ</text>
<line x1="317.20" y1="39.40" x2="512.90" y2="39.40" stroke="#1a1a1a" stroke-width="1.3" stroke-dasharray="3.4,2.1" stroke-linecap="butt"/>
<line x1="317.20" y1="84.50" x2="512.90" y2="84.50" stroke="#1a1a1a" stroke-width="1.3" stroke-dasharray="3.4,2.1" stroke-linecap="butt"/>
<text x="509.50" y="37.70" font-size="4.6" text-anchor="end" textLength="8.10" lengthAdjust="spacingAndGlyphs">ULN</text>
<text x="509.50" y="82.80" font-size="4.6" text-anchor="end" textLength="8.10" lengthAdjust="spacingAndGlyphs">LLN</text>
<text x="285.30" y="88.80" font-size="8.3" text-anchor="middle" textLength="108.00" lengthAdjust="spacingAndGlyphs" fill="#303030" transform="rotate(-90 285.30 88.80)">Peak thrombin generation (nmol/L)</text>
<text x="295.60" y="89.00" font-size="8.3" text-anchor="middle" textLength="31.10" lengthAdjust="spacingAndGlyphs" fill="#303030" transform="rotate(-90 295.60 89.00)">- log scale</text>
<text x="415.30" y="182.80" font-size="8.6" text-anchor="middle" textLength="96.90" lengthAdjust="spacingAndGlyphs" fill="#303030">Concizumab (ng/mL) – log scale</text>
<path d="M379.80,192.00L383.00,192.00L381.40,194.72Z" fill="#54a12b"/>
<text x="385.80" y="195.80" font-size="6.5" text-anchor="start" textLength="8.20" lengthAdjust="spacingAndGlyphs" fill="#333">HA</text>
<circle cx="404.50" cy="193.60" r="1.45" fill="#2d4f8e"/>
<text x="409.00" y="195.80" font-size="6.5" text-anchor="start" textLength="13.90" lengthAdjust="spacingAndGlyphs" fill="#333">HAwI</text>
<polygon points="433.20,191.60 433.72,192.70 434.93,192.60 434.24,193.60 434.93,194.60 433.72,194.50 433.20,195.60 432.68,194.50 431.47,194.60 432.16,193.60 431.47,192.60 432.68,192.70" fill="#b8173f"/>
<text x="437.90" y="195.80" font-size="6.5" text-anchor="start" textLength="13.20" lengthAdjust="spacingAndGlyphs" fill="#333">HBwI</text>
<text x="266.10" y="222.70" font-size="12.6" text-anchor="start" font-weight="bold" fill="#000" stroke="#000" stroke-width="0.35">E</text>
<line x1="318.00" y1="225.00" x2="318.00" y2="364.30" stroke="#000" stroke-width="1.4" stroke-linecap="butt"/>
<line x1="317.30" y1="363.60" x2="512.30" y2="363.60" stroke="#000" stroke-width="1.4" stroke-linecap="butt"/>
<line x1="314.60" y1="260.20" x2="318.00" y2="260.20" stroke="#1a1a1a" stroke-width="1.1" stroke-linecap="butt"/>
<text x="312.80" y="262.85" font-size="7.7" text-anchor="end" textLength="14.00" lengthAdjust="spacingAndGlyphs">1000</text>
<line x1="314.60" y1="281.20" x2="318.00" y2="281.20" stroke="#1a1a1a" stroke-width="1.1" stroke-linecap="butt"/>
<text x="312.80" y="283.85" font-size="7.7" text-anchor="end" textLength="10.50" lengthAdjust="spacingAndGlyphs">500</text>
<line x1="314.60" y1="329.40" x2="318.00" y2="329.40" stroke="#1a1a1a" stroke-width="1.1" stroke-linecap="butt"/>
<text x="312.80" y="332.05" font-size="7.7" text-anchor="end" textLength="10.50" lengthAdjust="spacingAndGlyphs">100</text>
<line x1="337.30" y1="363.60" x2="337.30" y2="366.60" stroke="#1a1a1a" stroke-width="1.0" stroke-linecap="butt"/>
<text x="337.30" y="375.80" font-size="7.5" text-anchor="middle" textLength="8.00" lengthAdjust="spacingAndGlyphs">BC</text>
<line x1="368.10" y1="363.60" x2="368.10" y2="366.60" stroke="#1a1a1a" stroke-width="1.0" stroke-linecap="butt"/>
<text x="368.10" y="375.80" font-size="7.5" text-anchor="middle" textLength="7.00" lengthAdjust="spacingAndGlyphs">10</text>
<line x1="412.40" y1="363.60" x2="412.40" y2="366.60" stroke="#1a1a1a" stroke-width="1.0" stroke-linecap="butt"/>
<text x="412.40" y="375.80" font-size="7.5" text-anchor="middle" textLength="10.50" lengthAdjust="spacingAndGlyphs">100</text>
<line x1="456.70" y1="363.60" x2="456.70" y2="366.60" stroke="#1a1a1a" stroke-width="1.0" stroke-linecap="butt"/>
<text x="456.70" y="375.80" font-size="7.5" text-anchor="middle" textLength="14.00" lengthAdjust="spacingAndGlyphs">1000</text>
<line x1="501.00" y1="363.60" x2="501.00" y2="366.60" stroke="#1a1a1a" stroke-width="1.0" stroke-linecap="butt"/>
<text x="501.00" y="375.80" font-size="7.5" text-anchor="middle" textLength="17.50" lengthAdjust="spacingAndGlyphs">10000</text>
<line x1="354.30" y1="225.00" x2="354.30" y2="363.60" stroke="#1a1a1a" stroke-width="1.15" stroke-dasharray="3.3,2.2" stroke-linecap="butt"/>
<text x="357.50" y="361.40" font-size="4.6" text-anchor="start" textLength="11.50" lengthAdjust="spacingAndGlyphs">LLOQ</text>
<line x1="317.20" y1="294.20" x2="512.90" y2="294.20" stroke="#1a1a1a" stroke-width="1.3" stroke-dasharray="3.4,2.1" stroke-linecap="butt"/>
<line x1="317.20" y1="336.20" x2="512.90" y2="336.20" stroke="#1a1a1a" stroke-width="1.3" stroke-dasharray="3.4,2.1" stroke-linecap="butt"/>
<text x="509.50" y="292.50" font-size="4.6" text-anchor="end" textLength="8.10" lengthAdjust="spacingAndGlyphs">ULN</text>
<text x="509.50" y="334.50" font-size="4.6" text-anchor="end" textLength="11.50" lengthAdjust="spacingAndGlyphs">LLOQ</text>
<text x="282.30" y="294.60" font-size="8.3" text-anchor="middle" textLength="119.00" lengthAdjust="spacingAndGlyphs" fill="#303030" transform="rotate(-90 282.30 294.60)">Prothrombin fragments 1 + 2 (pmol/L)</text>
<text x="292.40" y="294.60" font-size="8.3" text-anchor="middle" textLength="32.20" lengthAdjust="spacingAndGlyphs" fill="#303030" transform="rotate(-90 292.40 294.60)">- log scale</text>
<text x="415.30" y="388.00" font-size="8.6" text-anchor="middle" textLength="96.90" lengthAdjust="spacingAndGlyphs" fill="#303030">Concizumab (ng/mL) – log scale</text>
<path d="M379.80,397.20L383.00,397.20L381.40,399.92Z" fill="#54a12b"/>
<text x="385.80" y="401.00" font-size="6.5" text-anchor="start" textLength="8.20" lengthAdjust="spacingAndGlyphs" fill="#333">HA</text>
<circle cx="404.50" cy="398.80" r="1.45" fill="#2d4f8e"/>
<text x="409.00" y="401.00" font-size="6.5" text-anchor="start" textLength="13.90" lengthAdjust="spacingAndGlyphs" fill="#333">HAwI</text>
<polygon points="433.20,396.80 433.72,397.90 434.93,397.80 434.24,398.80 434.93,399.80 433.72,399.70 433.20,400.80 432.68,399.70 431.47,399.80 432.16,398.80 431.47,397.80 432.68,397.90" fill="#b8173f"/>
<text x="437.90" y="401.00" font-size="6.5" text-anchor="start" textLength="13.20" lengthAdjust="spacingAndGlyphs" fill="#333">HBwI</text>
<text x="266.10" y="428.40" font-size="12.6" text-anchor="start" font-weight="bold" fill="#000" stroke="#000" stroke-width="0.35">F</text>
<line x1="318.00" y1="430.80" x2="318.00" y2="569.90" stroke="#000" stroke-width="1.4" stroke-linecap="butt"/>
<line x1="317.30" y1="569.20" x2="512.30" y2="569.20" stroke="#000" stroke-width="1.4" stroke-linecap="butt"/>
<line x1="314.60" y1="483.50" x2="318.00" y2="483.50" stroke="#1a1a1a" stroke-width="1.1" stroke-linecap="butt"/>
<text x="312.80" y="486.15" font-size="7.7" text-anchor="end" textLength="14.00" lengthAdjust="spacingAndGlyphs">1000</text>
<line x1="314.60" y1="507.30" x2="318.00" y2="507.30" stroke="#1a1a1a" stroke-width="1.1" stroke-linecap="butt"/>
<text x="312.80" y="509.95" font-size="7.7" text-anchor="end" textLength="10.50" lengthAdjust="spacingAndGlyphs">500</text>
<line x1="314.60" y1="562.50" x2="318.00" y2="562.50" stroke="#1a1a1a" stroke-width="1.1" stroke-linecap="butt"/>
<text x="312.80" y="565.15" font-size="7.7" text-anchor="end" textLength="10.50" lengthAdjust="spacingAndGlyphs">100</text>
<line x1="337.30" y1="569.20" x2="337.30" y2="572.20" stroke="#1a1a1a" stroke-width="1.0" stroke-linecap="butt"/>
<text x="337.30" y="581.40" font-size="7.5" text-anchor="middle" textLength="8.00" lengthAdjust="spacingAndGlyphs">BC</text>
<line x1="368.10" y1="569.20" x2="368.10" y2="572.20" stroke="#1a1a1a" stroke-width="1.0" stroke-linecap="butt"/>
<text x="368.10" y="581.40" font-size="7.5" text-anchor="middle" textLength="7.00" lengthAdjust="spacingAndGlyphs">10</text>
<line x1="412.40" y1="569.20" x2="412.40" y2="572.20" stroke="#1a1a1a" stroke-width="1.0" stroke-linecap="butt"/>
<text x="412.40" y="581.40" font-size="7.5" text-anchor="middle" textLength="10.50" lengthAdjust="spacingAndGlyphs">100</text>
<line x1="456.70" y1="569.20" x2="456.70" y2="572.20" stroke="#1a1a1a" stroke-width="1.0" stroke-linecap="butt"/>
<text x="456.70" y="581.40" font-size="7.5" text-anchor="middle" textLength="14.00" lengthAdjust="spacingAndGlyphs">1000</text>
<line x1="501.00" y1="569.20" x2="501.00" y2="572.20" stroke="#1a1a1a" stroke-width="1.0" stroke-linecap="butt"/>
<text x="501.00" y="581.40" font-size="7.5" text-anchor="middle" textLength="17.50" lengthAdjust="spacingAndGlyphs">10000</text>
<line x1="354.30" y1="430.80" x2="354.30" y2="569.20" stroke="#1a1a1a" stroke-width="1.15" stroke-dasharray="3.3,2.2" stroke-linecap="butt"/>
<text x="357.50" y="567.00" font-size="4.6" text-anchor="start" textLength="11.50" lengthAdjust="spacingAndGlyphs">LLOQ</text>
<line x1="317.20" y1="508.30" x2="512.90" y2="508.30" stroke="#1a1a1a" stroke-width="1.3" stroke-dasharray="3.4,2.1" stroke-linecap="butt"/>
<line x1="317.20" y1="524.00" x2="512.90" y2="524.00" stroke="#1a1a1a" stroke-width="1.3" stroke-dasharray="3.4,2.1" stroke-linecap="butt"/>
<text x="509.50" y="506.60" font-size="4.6" text-anchor="end" textLength="8.10" lengthAdjust="spacingAndGlyphs">ULN</text>
<text x="509.50" y="522.30" font-size="4.6" text-anchor="end" textLength="11.50" lengthAdjust="spacingAndGlyphs">LLOQ</text>
<text x="291.80" y="500.00" font-size="8.3" text-anchor="middle" textLength="128.80" lengthAdjust="spacingAndGlyphs" fill="#303030" transform="rotate(-90 291.80 500.00)">D-dimer measurement (ng/mL) - log scale</text>
<text x="415.30" y="594.00" font-size="8.6" text-anchor="middle" textLength="96.90" lengthAdjust="spacingAndGlyphs" fill="#303030">Concizumab (ng/mL) – log scale</text>
<path d="M379.80,602.80L383.00,602.80L381.40,605.52Z" fill="#54a12b"/>
<text x="385.80" y="606.60" font-size="6.5" text-anchor="start" textLength="8.20" lengthAdjust="spacingAndGlyphs" fill="#333">HA</text>
<circle cx="404.50" cy="604.40" r="1.45" fill="#2d4f8e"/>
<text x="409.00" y="606.60" font-size="6.5" text-anchor="start" textLength="13.90" lengthAdjust="spacingAndGlyphs" fill="#333">HAwI</text>
<polygon points="433.20,602.40 433.72,603.50 434.93,603.40 434.24,604.40 434.93,605.40 433.72,605.30 433.20,606.40 432.68,605.30 431.47,605.40 432.16,604.40 431.47,603.40 432.68,603.50" fill="#b8173f"/>
<text x="437.90" y="606.60" font-size="6.5" text-anchor="start" textLength="13.20" lengthAdjust="spacingAndGlyphs" fill="#333">HBwI</text>
<path d="M392.70,26.15L396.30,26.15L394.50,29.21Z" fill="#4a9e22"/>
<path d="M385.10,57.25L388.70,57.25L386.90,60.31Z" fill="#4a9e22"/>
<path d="M397.20,53.75L400.80,53.75L399.00,56.81Z" fill="#4a9e22"/>
<path d="M394.90,58.95L398.50,58.95L396.70,62.01Z" fill="#4a9e22"/>
<path d="M397.80,65.55L401.40,65.55L399.60,68.61Z" fill="#4a9e22"/>
<path d="M399.60,64.75L403.20,64.75L401.40,67.81Z" fill="#4a9e22"/>
<polygon points="399.90,56.05 400.61,57.56 402.28,57.42 401.33,58.80 402.28,60.17 400.61,60.04 399.90,61.55 399.19,60.04 397.52,60.17 398.47,58.80 397.52,57.42 399.19,57.56" fill="#a80f35"/>
<circle cx="399.90" cy="71.00" r="1.6" fill="#132f72"/>
<path d="M430.10,25.75L433.70,25.75L431.90,28.81Z" fill="#4a9e22"/>
<path d="M425.90,30.05L429.50,30.05L427.70,33.11Z" fill="#4a9e22"/>
<path d="M414.70,31.75L418.30,31.75L416.50,34.81Z" fill="#4a9e22"/>
<path d="M412.40,32.45L416.00,32.45L414.20,35.51Z" fill="#4a9e22"/>
<path d="M412.00,34.85L415.60,34.85L413.80,37.91Z" fill="#4a9e22"/>
<path d="M421.30,32.85L424.90,32.85L423.10,35.91Z" fill="#4a9e22"/>
<path d="M422.80,33.65L426.40,33.65L424.60,36.71Z" fill="#4a9e22"/>
<path d="M429.70,34.45L433.30,34.45L431.50,37.51Z" fill="#4a9e22"/>
<path d="M430.90,36.75L434.50,36.75L432.70,39.81Z" fill="#4a9e22"/>
<path d="M435.10,36.35L438.70,36.35L436.90,39.41Z" fill="#4a9e22"/>
<path d="M418.20,35.95L421.80,35.95L420.00,39.01Z" fill="#4a9e22"/>
<path d="M417.80,37.15L421.40,37.15L419.60,40.21Z" fill="#4a9e22"/>
<path d="M404.00,39.05L407.60,39.05L405.80,42.11Z" fill="#4a9e22"/>
<path d="M409.70,38.65L413.30,38.65L411.50,41.71Z" fill="#4a9e22"/>
<path d="M409.00,40.95L412.60,40.95L410.80,44.01Z" fill="#4a9e22"/>
<path d="M416.20,39.45L419.80,39.45L418.00,42.51Z" fill="#4a9e22"/>
<path d="M408.20,42.85L411.80,42.85L410.00,45.91Z" fill="#4a9e22"/>
<path d="M416.70,43.65L420.30,43.65L418.50,46.71Z" fill="#4a9e22"/>
<path d="M435.90,41.75L439.50,41.75L437.70,44.81Z" fill="#4a9e22"/>
<circle cx="416.50" cy="43.10" r="1.6" fill="#132f72"/>
<circle cx="421.50" cy="42.70" r="1.6" fill="#132f72"/>
<circle cx="426.90" cy="41.20" r="1.6" fill="#132f72"/>
<circle cx="428.50" cy="42.30" r="1.6" fill="#132f72"/>
<circle cx="429.60" cy="44.60" r="1.6" fill="#132f72"/>
<circle cx="434.20" cy="40.40" r="1.6" fill="#132f72"/>
<path d="M405.10,44.45L408.70,44.45L406.90,47.51Z" fill="#4a9e22"/>
<path d="M409.00,44.85L412.60,44.85L410.80,47.91Z" fill="#4a9e22"/>
<path d="M407.00,47.85L410.60,47.85L408.80,50.91Z" fill="#4a9e22"/>
<path d="M414.40,47.45L418.00,47.45L416.20,50.51Z" fill="#4a9e22"/>
<path d="M416.70,46.75L420.30,46.75L418.50,49.81Z" fill="#4a9e22"/>
<path d="M421.30,46.75L424.90,46.75L423.10,49.81Z" fill="#4a9e22"/>
<path d="M422.80,47.15L426.40,47.15L424.60,50.21Z" fill="#4a9e22"/>
<path d="M404.40,59.05L408.00,59.05L406.20,62.11Z" fill="#4a9e22"/>
<path d="M409.00,59.85L412.60,59.85L410.80,62.91Z" fill="#4a9e22"/>
<path d="M415.90,61.35L419.50,61.35L417.70,64.41Z" fill="#4a9e22"/>
<path d="M423.60,61.35L427.20,61.35L425.40,64.41Z" fill="#4a9e22"/>
<path d="M434.40,58.25L438.00,58.25L436.20,61.31Z" fill="#4a9e22"/>
<path d="M399.70,64.05L403.30,64.05L401.50,67.11Z" fill="#4a9e22"/>
<path d="M407.40,68.25L411.00,68.25L409.20,71.31Z" fill="#4a9e22"/>
<path d="M424.40,69.85L428.00,69.85L426.20,72.91Z" fill="#4a9e22"/>
<path d="M417.40,59.05L421.00,59.05L419.20,62.11Z" fill="#4a9e22"/>
<path d="M424.70,44.05L428.30,44.05L426.50,47.11Z" fill="#4a9e22"/>
<polygon points="406.90,53.05 407.61,54.56 409.28,54.42 408.33,55.80 409.28,57.17 407.61,57.04 406.90,58.55 406.19,57.04 404.52,57.17 405.47,55.80 404.52,54.42 406.19,54.56" fill="#a80f35"/>
<polygon points="408.50,49.95 409.21,51.46 410.88,51.33 409.93,52.70 410.88,54.08 409.21,53.94 408.50,55.45 407.79,53.94 406.12,54.08 407.07,52.70 406.12,51.33 407.79,51.46" fill="#a80f35"/>
<polygon points="413.50,49.95 414.21,51.46 415.88,51.33 414.93,52.70 415.88,54.08 414.21,53.94 413.50,55.45 412.79,53.94 411.12,54.08 412.07,52.70 411.12,51.33 412.79,51.46" fill="#a80f35"/>
<polygon points="414.20,55.35 414.91,56.86 416.58,56.73 415.63,58.10 416.58,59.48 414.91,59.34 414.20,60.85 413.49,59.34 411.82,59.48 412.77,58.10 411.82,56.73 413.49,56.86" fill="#a80f35"/>
<polygon points="418.50,49.55 419.21,51.06 420.88,50.92 419.93,52.30 420.88,53.67 419.21,53.54 418.50,55.05 417.79,53.54 416.12,53.67 417.07,52.30 416.12,50.92 417.79,51.06" fill="#a80f35"/>
<polygon points="417.70,52.25 418.41,53.76 420.08,53.62 419.13,55.00 420.08,56.38 418.41,56.24 417.70,57.75 416.99,56.24 415.32,56.38 416.27,55.00 415.32,53.62 416.99,53.76" fill="#a80f35"/>
<polygon points="420.40,48.45 421.11,49.96 422.78,49.83 421.83,51.20 422.78,52.58 421.11,52.44 420.40,53.95 419.69,52.44 418.02,52.58 418.97,51.20 418.02,49.83 419.69,49.96" fill="#a80f35"/>
<polygon points="423.10,49.95 423.81,51.46 425.48,51.33 424.53,52.70 425.48,54.08 423.81,53.94 423.10,55.45 422.39,53.94 420.72,54.08 421.67,52.70 420.72,51.33 422.39,51.46" fill="#a80f35"/>
<polygon points="424.60,52.25 425.31,53.76 426.98,53.62 426.03,55.00 426.98,56.38 425.31,56.24 424.60,57.75 423.89,56.24 422.22,56.38 423.17,55.00 422.22,53.62 423.89,53.76" fill="#a80f35"/>
<polygon points="421.50,53.75 422.21,55.26 423.88,55.12 422.93,56.50 423.88,57.88 422.21,57.74 421.50,59.25 420.79,57.74 419.12,57.88 420.07,56.50 419.12,55.12 420.79,55.26" fill="#a80f35"/>
<polygon points="423.80,56.05 424.51,57.56 426.18,57.42 425.23,58.80 426.18,60.17 424.51,60.04 423.80,61.55 423.09,60.04 421.42,60.17 422.37,58.80 421.42,57.42 423.09,57.56" fill="#a80f35"/>
<polygon points="427.70,56.05 428.41,57.56 430.08,57.42 429.13,58.80 430.08,60.17 428.41,60.04 427.70,61.55 426.99,60.04 425.32,60.17 426.27,58.80 425.32,57.42 426.99,57.56" fill="#a80f35"/>
<polygon points="428.80,53.05 429.51,54.56 431.18,54.42 430.23,55.80 431.18,57.17 429.51,57.04 428.80,58.55 428.09,57.04 426.42,57.17 427.37,55.80 426.42,54.42 428.09,54.56" fill="#a80f35"/>
<polygon points="433.10,53.75 433.81,55.26 435.48,55.12 434.53,56.50 435.48,57.88 433.81,57.74 433.10,59.25 432.39,57.74 430.72,57.88 431.67,56.50 430.72,55.12 432.39,55.26" fill="#a80f35"/>
<polygon points="430.00,46.05 430.71,47.56 432.38,47.42 431.43,48.80 432.38,50.17 430.71,50.04 430.00,51.55 429.29,50.04 427.62,50.17 428.57,48.80 427.62,47.42 429.29,47.56" fill="#a80f35"/>
<polygon points="430.80,43.05 431.51,44.56 433.18,44.42 432.23,45.80 433.18,47.17 431.51,47.04 430.80,48.55 430.09,47.04 428.42,47.17 429.37,45.80 428.42,44.42 430.09,44.56" fill="#a80f35"/>
<polygon points="436.50,51.45 437.21,52.96 438.88,52.83 437.93,54.20 438.88,55.58 437.21,55.44 436.50,56.95 435.79,55.44 434.12,55.58 435.07,54.20 434.12,52.83 435.79,52.96" fill="#a80f35"/>
<polygon points="404.60,63.75 405.31,65.26 406.98,65.12 406.03,66.50 406.98,67.88 405.31,67.74 404.60,69.25 403.89,67.74 402.22,67.88 403.17,66.50 402.22,65.12 403.89,65.26" fill="#a80f35"/>
<polygon points="409.60,62.65 410.31,64.16 411.98,64.03 411.03,65.40 411.98,66.78 410.31,66.64 409.60,68.15 408.89,66.64 407.22,66.78 408.17,65.40 407.22,64.03 408.89,64.16" fill="#a80f35"/>
<polygon points="415.00,61.85 415.71,63.36 417.38,63.22 416.43,64.60 417.38,65.97 415.71,65.84 415.00,67.35 414.29,65.84 412.62,65.97 413.57,64.60 412.62,63.22 414.29,63.36" fill="#a80f35"/>
<polygon points="420.80,62.65 421.51,64.16 423.18,64.03 422.23,65.40 423.18,66.78 421.51,66.64 420.80,68.15 420.09,66.64 418.42,66.78 419.37,65.40 418.42,64.03 420.09,64.16" fill="#a80f35"/>
<polygon points="415.40,67.65 416.11,69.16 417.78,69.03 416.83,70.40 417.78,71.78 416.11,71.64 415.40,73.15 414.69,71.64 413.02,71.78 413.97,70.40 413.02,69.03 414.69,69.16" fill="#a80f35"/>
<polygon points="420.40,66.85 421.11,68.36 422.78,68.22 421.83,69.60 422.78,70.97 421.11,70.84 420.40,72.35 419.69,70.84 418.02,70.97 418.97,69.60 418.02,68.22 419.69,68.36" fill="#a80f35"/>
<polygon points="407.70,71.05 408.41,72.56 410.08,72.42 409.13,73.80 410.08,75.17 408.41,75.04 407.70,76.55 406.99,75.04 405.32,75.17 406.27,73.80 405.32,72.42 406.99,72.56" fill="#a80f35"/>
<circle cx="410.00" cy="55.80" r="1.6" fill="#132f72"/>
<circle cx="415.00" cy="56.50" r="1.6" fill="#132f72"/>
<circle cx="418.80" cy="56.50" r="1.6" fill="#132f72"/>
<circle cx="425.40" cy="55.00" r="1.6" fill="#132f72"/>
<circle cx="427.30" cy="50.40" r="1.6" fill="#132f72"/>
<circle cx="433.80" cy="50.40" r="1.6" fill="#132f72"/>
<circle cx="436.90" cy="49.60" r="1.6" fill="#132f72"/>
<circle cx="438.50" cy="49.20" r="1.6" fill="#132f72"/>
<circle cx="407.70" cy="63.50" r="1.6" fill="#132f72"/>
<circle cx="412.30" cy="67.30" r="1.6" fill="#132f72"/>
<circle cx="410.80" cy="68.80" r="1.6" fill="#132f72"/>
<circle cx="416.90" cy="67.30" r="1.6" fill="#132f72"/>
<circle cx="404.60" cy="73.80" r="1.6" fill="#132f72"/>
<circle cx="411.50" cy="73.50" r="1.6" fill="#132f72"/>
<circle cx="421.90" cy="71.90" r="1.6" fill="#132f72"/>
<circle cx="430.80" cy="46.20" r="1.6" fill="#132f72"/>
<circle cx="433.80" cy="47.70" r="1.6" fill="#132f72"/>
<path d="M442.40,35.55L446.00,35.55L444.20,38.61Z" fill="#4a9e22"/>
<path d="M443.60,36.75L447.20,36.75L445.40,39.81Z" fill="#4a9e22"/>
<path d="M457.00,35.55L460.60,35.55L458.80,38.61Z" fill="#4a9e22"/>
<path d="M440.90,39.05L444.50,39.05L442.70,42.11Z" fill="#4a9e22"/>
<path d="M458.60,40.55L462.20,40.55L460.40,43.61Z" fill="#4a9e22"/>
<path d="M460.50,39.45L464.10,39.45L462.30,42.51Z" fill="#4a9e22"/>
<path d="M439.00,41.75L442.60,41.75L440.80,44.81Z" fill="#4a9e22"/>
<circle cx="443.50" cy="43.10" r="1.6" fill="#132f72"/>
<circle cx="453.50" cy="41.90" r="1.6" fill="#132f72"/>
<circle cx="465.80" cy="41.50" r="1.6" fill="#132f72"/>
<circle cx="462.70" cy="44.60" r="1.6" fill="#132f72"/>
<polygon points="450.00,39.95 450.71,41.46 452.38,41.33 451.43,42.70 452.38,44.08 450.71,43.94 450.00,45.45 449.29,43.94 447.62,44.08 448.57,42.70 447.62,41.33 449.29,41.46" fill="#a80f35"/>
<circle cx="442.30" cy="49.60" r="1.6" fill="#132f72"/>
<circle cx="448.50" cy="50.00" r="1.6" fill="#132f72"/>
<circle cx="452.30" cy="48.80" r="1.6" fill="#132f72"/>
<circle cx="452.70" cy="50.80" r="1.6" fill="#132f72"/>
<circle cx="460.00" cy="46.90" r="1.6" fill="#132f72"/>
<circle cx="469.20" cy="45.00" r="1.6" fill="#132f72"/>
<circle cx="440.80" cy="45.40" r="1.6" fill="#132f72"/>
<polygon points="440.80,49.15 441.51,50.66 443.18,50.52 442.23,51.90 443.18,53.27 441.51,53.14 440.80,54.65 440.09,53.14 438.42,53.27 439.37,51.90 438.42,50.52 440.09,50.66" fill="#a80f35"/>
<polygon points="444.20,44.15 444.91,45.66 446.58,45.52 445.63,46.90 446.58,48.27 444.91,48.14 444.20,49.65 443.49,48.14 441.82,48.27 442.77,46.90 441.82,45.52 443.49,45.66" fill="#a80f35"/>
<polygon points="453.80,49.55 454.51,51.06 456.18,50.92 455.23,52.30 456.18,53.67 454.51,53.54 453.80,55.05 453.09,53.54 451.42,53.67 452.37,52.30 451.42,50.92 453.09,51.06" fill="#a80f35"/>
<polygon points="452.70,53.75 453.41,55.26 455.08,55.12 454.13,56.50 455.08,57.88 453.41,57.74 452.70,59.25 451.99,57.74 450.32,57.88 451.27,56.50 450.32,55.12 451.99,55.26" fill="#a80f35"/>
<polygon points="450.80,55.75 451.51,57.26 453.18,57.12 452.23,58.50 453.18,59.88 451.51,59.74 450.80,61.25 450.09,59.74 448.42,59.88 449.37,58.50 448.42,57.12 450.09,57.26" fill="#a80f35"/>
<polygon points="443.10,56.45 443.81,57.96 445.48,57.83 444.53,59.20 445.48,60.58 443.81,60.44 443.10,61.95 442.39,60.44 440.72,60.58 441.67,59.20 440.72,57.83 442.39,57.96" fill="#a80f35"/>
<polygon points="445.80,56.45 446.51,57.96 448.18,57.83 447.23,59.20 448.18,60.58 446.51,60.44 445.80,61.95 445.09,60.44 443.42,60.58 444.37,59.20 443.42,57.83 445.09,57.96" fill="#a80f35"/>
<polygon points="447.70,60.75 448.41,62.26 450.08,62.12 449.13,63.50 450.08,64.88 448.41,64.74 447.70,66.25 446.99,64.74 445.32,64.88 446.27,63.50 445.32,62.12 446.99,62.26" fill="#a80f35"/>
<polygon points="449.20,60.35 449.91,61.86 451.58,61.73 450.63,63.10 451.58,64.47 449.91,64.34 449.20,65.85 448.49,64.34 446.82,64.48 447.77,63.10 446.82,61.73 448.49,61.86" fill="#a80f35"/>
<polygon points="456.20,56.45 456.91,57.96 458.58,57.83 457.63,59.20 458.58,60.58 456.91,60.44 456.20,61.95 455.49,60.44 453.82,60.58 454.77,59.20 453.82,57.83 455.49,57.96" fill="#a80f35"/>
<polygon points="458.80,54.95 459.51,56.46 461.18,56.33 460.23,57.70 461.18,59.08 459.51,58.94 458.80,60.45 458.09,58.94 456.42,59.08 457.37,57.70 456.42,56.33 458.09,56.46" fill="#a80f35"/>
<polygon points="461.90,56.05 462.61,57.56 464.28,57.42 463.33,58.80 464.28,60.17 462.61,60.04 461.90,61.55 461.19,60.04 459.52,60.17 460.47,58.80 459.52,57.42 461.19,57.56" fill="#a80f35"/>
<polygon points="442.70,70.35 443.41,71.86 445.08,71.72 444.13,73.10 445.08,74.47 443.41,74.34 442.70,75.85 441.99,74.34 440.32,74.47 441.27,73.10 440.32,71.72 441.99,71.86" fill="#a80f35"/>
<polygon points="463.50,43.75 464.21,45.26 465.88,45.12 464.93,46.50 465.88,47.88 464.21,47.74 463.50,49.25 462.79,47.74 461.12,47.88 462.07,46.50 461.12,45.12 462.79,45.26" fill="#a80f35"/>
<path d="M445.50,51.75L449.10,51.75L447.30,54.81Z" fill="#4a9e22"/>
<path d="M446.70,54.45L450.30,54.45L448.50,57.51Z" fill="#4a9e22"/>
<path d="M453.60,44.45L457.20,44.45L455.40,47.51Z" fill="#4a9e22"/>
<path d="M456.30,51.75L459.90,51.75L458.10,54.81Z" fill="#4a9e22"/>
<path d="M459.70,53.25L463.30,53.25L461.50,56.31Z" fill="#4a9e22"/>
<path d="M461.30,49.45L464.90,49.45L463.10,52.51Z" fill="#4a9e22"/>
<path d="M465.50,55.55L469.10,55.55L467.30,58.61Z" fill="#4a9e22"/>
<path d="M472.40,55.55L476.00,55.55L474.20,58.61Z" fill="#4a9e22"/>
<path d="M442.00,62.45L445.60,62.45L443.80,65.51Z" fill="#4a9e22"/>
<path d="M452.00,61.35L455.60,61.35L453.80,64.41Z" fill="#4a9e22"/>
<path d="M452.80,62.85L456.40,62.85L454.60,65.91Z" fill="#4a9e22"/>
<path d="M459.70,68.65L463.30,68.65L461.50,71.71Z" fill="#4a9e22"/>
<path d="M454.40,54.85L458.00,54.85L456.20,57.91Z" fill="#4a9e22"/>
<path d="M439.00,57.45L442.60,57.45L440.80,60.51Z" fill="#4a9e22"/>
<circle cx="502.90" cy="50.00" r="1.6" fill="#132f72"/>
<path d="M495.60,59.85L499.20,59.85L497.40,62.91Z" fill="#4a9e22"/>
<path d="M392.00,74.45L395.60,74.45L393.80,77.51Z" fill="#4a9e22"/>
<path d="M390.10,80.95L393.70,80.95L391.90,84.01Z" fill="#4a9e22"/>
<path d="M389.00,84.85L392.60,84.85L390.80,87.91Z" fill="#4a9e22"/>
<path d="M397.40,82.85L401.00,82.85L399.20,85.91Z" fill="#4a9e22"/>
<path d="M398.60,72.15L402.20,72.15L400.40,75.21Z" fill="#4a9e22"/>
<path d="M401.30,76.35L404.90,76.35L403.10,79.41Z" fill="#4a9e22"/>
<path d="M402.80,77.15L406.40,77.15L404.60,80.21Z" fill="#4a9e22"/>
<path d="M405.90,80.15L409.50,80.15L407.70,83.21Z" fill="#4a9e22"/>
<path d="M407.00,82.15L410.60,82.15L408.80,85.21Z" fill="#4a9e22"/>
<path d="M403.60,85.15L407.20,85.15L405.40,88.21Z" fill="#4a9e22"/>
<path d="M409.70,86.35L413.30,86.35L411.50,89.41Z" fill="#4a9e22"/>
<path d="M413.20,84.45L416.80,84.45L415.00,87.51Z" fill="#4a9e22"/>
<path d="M411.30,80.15L414.90,80.15L413.10,83.21Z" fill="#4a9e22"/>
<path d="M409.40,91.35L413.00,91.35L411.20,94.41Z" fill="#4a9e22"/>
<path d="M406.30,90.15L409.90,90.15L408.10,93.21Z" fill="#4a9e22"/>
<path d="M385.50,92.85L389.10,92.85L387.30,95.91Z" fill="#4a9e22"/>
<path d="M417.80,86.35L421.40,86.35L419.60,89.41Z" fill="#4a9e22"/>
<circle cx="406.20" cy="80.40" r="1.6" fill="#132f72"/>
<circle cx="404.60" cy="83.80" r="1.6" fill="#132f72"/>
<circle cx="408.80" cy="86.20" r="1.6" fill="#132f72"/>
<circle cx="408.10" cy="87.70" r="1.6" fill="#132f72"/>
<circle cx="403.80" cy="92.90" r="1.6" fill="#132f72"/>
<circle cx="410.80" cy="74.20" r="1.6" fill="#132f72"/>
<circle cx="411.50" cy="76.50" r="1.6" fill="#132f72"/>
<circle cx="415.40" cy="78.50" r="1.6" fill="#132f72"/>
<circle cx="415.80" cy="80.40" r="1.6" fill="#132f72"/>
<circle cx="410.40" cy="70.40" r="1.6" fill="#132f72"/>
<polygon points="395.80,76.85 396.51,78.36 398.18,78.22 397.23,79.60 398.18,80.97 396.51,80.84 395.80,82.35 395.09,80.84 393.42,80.97 394.37,79.60 393.42,78.22 395.09,78.36" fill="#a80f35"/>
<polygon points="407.30,72.25 408.01,73.76 409.68,73.62 408.73,75.00 409.68,76.38 408.01,76.24 407.30,77.75 406.59,76.24 404.92,76.38 405.87,75.00 404.92,73.62 406.59,73.76" fill="#a80f35"/>
<polygon points="415.00,72.25 415.71,73.76 417.38,73.62 416.43,75.00 417.38,76.38 415.71,76.24 415.00,77.75 414.29,76.24 412.62,76.38 413.57,75.00 412.62,73.62 414.29,73.76" fill="#a80f35"/>
<polygon points="406.50,86.85 407.21,88.36 408.88,88.22 407.93,89.60 408.88,90.97 407.21,90.84 406.50,92.35 405.79,90.84 404.12,90.97 405.07,89.60 404.12,88.22 405.79,88.36" fill="#a80f35"/>
<polygon points="401.90,94.55 402.61,96.06 404.28,95.92 403.33,97.30 404.28,98.67 402.61,98.54 401.90,100.05 401.19,98.54 399.52,98.67 400.47,97.30 399.52,95.92 401.19,96.06" fill="#a80f35"/>
<polygon points="419.20,70.35 419.91,71.86 421.58,71.72 420.63,73.10 421.58,74.47 419.91,74.34 419.20,75.85 418.49,74.34 416.82,74.47 417.77,73.10 416.82,71.72 418.49,71.86" fill="#a80f35"/>
<polygon points="442.70,70.75 443.41,72.26 445.08,72.12 444.13,73.50 445.08,74.88 443.41,74.74 442.70,76.25 441.99,74.74 440.32,74.88 441.27,73.50 440.32,72.12 441.99,72.26" fill="#a80f35"/>
<polygon points="452.30,83.05 453.01,84.56 454.68,84.42 453.73,85.80 454.68,87.17 453.01,87.04 452.30,88.55 451.59,87.04 449.92,87.17 450.87,85.80 449.92,84.42 451.59,84.56" fill="#a80f35"/>
<polygon points="438.50,85.35 439.21,86.86 440.88,86.72 439.93,88.10 440.88,89.47 439.21,89.34 438.50,90.85 437.79,89.34 436.12,89.47 437.07,88.10 436.12,86.72 437.79,86.86" fill="#a80f35"/>
<polygon points="447.70,87.25 448.41,88.76 450.08,88.62 449.13,90.00 450.08,91.38 448.41,91.24 447.70,92.75 446.99,91.24 445.32,91.38 446.27,90.00 445.32,88.62 446.99,88.76" fill="#a80f35"/>
<polygon points="450.80,91.85 451.51,93.36 453.18,93.22 452.23,94.60 453.18,95.97 451.51,95.84 450.80,97.35 450.09,95.84 448.42,95.97 449.37,94.60 448.42,93.22 450.09,93.36" fill="#a80f35"/>
<polygon points="458.80,94.15 459.51,95.66 461.18,95.53 460.23,96.90 461.18,98.28 459.51,98.14 458.80,99.65 458.09,98.14 456.42,98.28 457.37,96.90 456.42,95.53 458.09,95.66" fill="#a80f35"/>
<polygon points="461.70,83.75 462.41,85.26 464.08,85.12 463.13,86.50 464.08,87.88 462.41,87.74 461.70,89.25 460.99,87.74 459.32,87.88 460.27,86.50 459.32,85.12 460.99,85.26" fill="#a80f35"/>
<path d="M426.70,80.15L430.30,80.15L428.50,83.21Z" fill="#4a9e22"/>
<polygon points="404.00,98.55 404.71,100.06 406.38,99.92 405.43,101.30 406.38,102.67 404.71,102.54 404.00,104.05 403.29,102.54 401.62,102.67 402.57,101.30 401.62,99.92 403.29,100.06" fill="#a80f35"/>
<polygon points="408.70,106.65 409.41,108.16 411.08,108.03 410.13,109.40 411.08,110.78 409.41,110.64 408.70,112.15 407.99,110.64 406.32,110.78 407.27,109.40 406.32,108.03 407.99,108.16" fill="#a80f35"/>
<polygon points="422.70,116.45 423.41,117.96 425.08,117.83 424.13,119.20 425.08,120.58 423.41,120.44 422.70,121.95 421.99,120.44 420.32,120.58 421.27,119.20 420.32,117.83 421.99,117.96" fill="#a80f35"/>
<polygon points="399.40,138.45 400.11,139.96 401.78,139.82 400.83,141.20 401.78,142.57 400.11,142.44 399.40,143.95 398.69,142.44 397.02,142.57 397.97,141.20 397.02,139.82 398.69,139.96" fill="#a80f35"/>
<polygon points="441.20,131.25 441.91,132.76 443.58,132.62 442.63,134.00 443.58,135.38 441.91,135.24 441.20,136.75 440.49,135.24 438.82,135.38 439.77,134.00 438.82,132.62 440.49,132.76" fill="#a80f35"/>
<circle cx="410.60" cy="100.50" r="1.6" fill="#132f72"/>
<path d="M404.50,103.45L408.10,103.45L406.30,106.51Z" fill="#4a9e22"/>
<path d="M354.70,87.45L358.30,87.45L356.50,90.51Z" fill="#4a9e22"/>
<path d="M354.70,92.85L358.30,92.85L356.50,95.91Z" fill="#4a9e22"/>
<circle cx="373.50" cy="81.30" r="1.6" fill="#132f72"/>
<circle cx="368.60" cy="89.20" r="1.6" fill="#132f72"/>
<path d="M335.60,40.85L339.20,40.85L337.40,43.91Z" fill="#4a9e22"/>
<path d="M335.60,46.55L339.20,46.55L337.40,49.61Z" fill="#4a9e22"/>
<path d="M335.60,47.85L339.20,47.85L337.40,50.91Z" fill="#4a9e22"/>
<path d="M335.60,53.75L339.20,53.75L337.40,56.81Z" fill="#4a9e22"/>
<path d="M335.60,55.65L339.20,55.65L337.40,58.71Z" fill="#4a9e22"/>
<path d="M335.60,60.65L339.20,60.65L337.40,63.71Z" fill="#4a9e22"/>
<path d="M335.60,61.85L339.20,61.85L337.40,64.91Z" fill="#4a9e22"/>
<path d="M335.60,70.85L339.20,70.85L337.40,73.91Z" fill="#4a9e22"/>
<path d="M335.60,71.85L339.20,71.85L337.40,74.91Z" fill="#4a9e22"/>
<path d="M335.60,76.45L339.20,76.45L337.40,79.51Z" fill="#4a9e22"/>
<path d="M335.60,80.15L339.20,80.15L337.40,83.21Z" fill="#4a9e22"/>
<path d="M335.60,82.45L339.20,82.45L337.40,85.51Z" fill="#4a9e22"/>
<path d="M335.60,85.95L339.20,85.95L337.40,89.01Z" fill="#4a9e22"/>
<path d="M335.60,88.05L339.20,88.05L337.40,91.11Z" fill="#4a9e22"/>
<path d="M335.60,102.55L339.20,102.55L337.40,105.61Z" fill="#4a9e22"/>
<path d="M335.60,108.15L339.20,108.15L337.40,111.21Z" fill="#4a9e22"/>
<path d="M335.60,125.25L339.20,125.25L337.40,128.31Z" fill="#4a9e22"/>
<circle cx="337.40" cy="92.60" r="1.6" fill="#132f72"/>
<circle cx="337.40" cy="94.00" r="1.6" fill="#132f72"/>
<circle cx="337.40" cy="95.80" r="1.6" fill="#132f72"/>
<circle cx="337.40" cy="98.20" r="1.6" fill="#132f72"/>
<circle cx="337.40" cy="100.80" r="1.6" fill="#132f72"/>
<circle cx="337.40" cy="115.90" r="1.6" fill="#132f72"/>
<circle cx="337.40" cy="119.30" r="1.6" fill="#132f72"/>
<polygon points="337.40,104.25 338.11,105.76 339.78,105.62 338.83,107.00 339.78,108.38 338.11,108.24 337.40,109.75 336.69,108.24 335.02,108.38 335.97,107.00 335.02,105.62 336.69,105.76" fill="#a80f35"/>
<polygon points="337.40,109.45 338.11,110.96 339.78,110.83 338.83,112.20 339.78,113.58 338.11,113.44 337.40,114.95 336.69,113.44 335.02,113.58 335.97,112.20 335.02,110.83 336.69,110.96" fill="#a80f35"/>
<polygon points="337.40,125.85 338.11,127.36 339.78,127.22 338.83,128.60 339.78,129.97 338.11,129.84 337.40,131.35 336.69,129.84 335.02,129.97 335.97,128.60 335.02,127.22 336.69,127.36" fill="#a80f35"/>
<polygon points="337.40,131.05 338.11,132.56 339.78,132.43 338.83,133.80 339.78,135.18 338.11,135.04 337.40,136.55 336.69,135.04 335.02,135.18 335.97,133.80 335.02,132.43 336.69,132.56" fill="#a80f35"/>
<polygon points="337.40,138.95 338.11,140.46 339.78,140.32 338.83,141.70 339.78,143.07 338.11,142.94 337.40,144.45 336.69,142.94 335.02,143.07 335.97,141.70 335.02,140.32 336.69,140.46" fill="#a80f35"/>
<polygon points="337.40,149.15 338.11,150.66 339.78,150.53 338.83,151.90 339.78,153.28 338.11,153.14 337.40,154.65 336.69,153.14 335.02,153.28 335.97,151.90 335.02,150.53 336.69,150.66" fill="#a80f35"/>
<circle cx="428.00" cy="43.80" r="1.6" fill="#132f72"/>
<circle cx="430.20" cy="45.60" r="1.6" fill="#132f72"/>
<circle cx="432.20" cy="47.40" r="1.6" fill="#132f72"/>
<circle cx="434.30" cy="49.30" r="1.6" fill="#132f72"/>
<circle cx="436.20" cy="51.20" r="1.6" fill="#132f72"/>
<circle cx="437.80" cy="52.80" r="1.6" fill="#132f72"/>
<circle cx="439.30" cy="54.20" r="1.6" fill="#132f72"/>
<circle cx="411.50" cy="65.50" r="1.6" fill="#132f72"/>
<circle cx="413.20" cy="68.00" r="1.6" fill="#132f72"/>
<circle cx="414.30" cy="70.30" r="1.6" fill="#132f72"/>
<circle cx="415.20" cy="72.50" r="1.6" fill="#132f72"/>
<polygon points="418.00,54.05 418.71,55.56 420.38,55.42 419.43,56.80 420.38,58.17 418.71,58.04 418.00,59.55 417.29,58.04 415.62,58.17 416.57,56.80 415.62,55.42 417.29,55.56" fill="#a80f35"/>
<polygon points="421.00,51.45 421.71,52.96 423.38,52.83 422.43,54.20 423.38,55.58 421.71,55.44 421.00,56.95 420.29,55.44 418.62,55.58 419.57,54.20 418.62,52.83 420.29,52.96" fill="#a80f35"/>
<polygon points="416.50,51.05 417.21,52.56 418.88,52.42 417.93,53.80 418.88,55.17 417.21,55.04 416.50,56.55 415.79,55.04 414.12,55.17 415.07,53.80 414.12,52.42 415.79,52.56" fill="#a80f35"/>
<path d="M486.70,232.45L490.30,232.45L488.50,235.51Z" fill="#4a9e22"/>
<path d="M495.10,233.15L498.70,233.15L496.90,236.21Z" fill="#4a9e22"/>
<path d="M499.40,230.85L503.00,230.85L501.20,233.91Z" fill="#4a9e22"/>
<path d="M443.30,237.15L446.90,237.15L445.10,240.21Z" fill="#4a9e22"/>
<path d="M453.30,237.05L456.90,237.05L455.10,240.11Z" fill="#4a9e22"/>
<path d="M452.40,242.85L456.00,242.85L454.20,245.91Z" fill="#4a9e22"/>
<path d="M461.00,241.85L464.60,241.85L462.80,244.91Z" fill="#4a9e22"/>
<path d="M442.40,247.45L446.00,247.45L444.20,250.51Z" fill="#4a9e22"/>
<path d="M439.70,257.85L443.30,257.85L441.50,260.91Z" fill="#4a9e22"/>
<path d="M458.70,253.95L462.30,253.95L460.50,257.01Z" fill="#4a9e22"/>
<path d="M465.60,257.45L469.20,257.45L467.40,260.51Z" fill="#4a9e22"/>
<path d="M446.70,259.45L450.30,259.45L448.50,262.51Z" fill="#4a9e22"/>
<path d="M449.70,260.15L453.30,260.15L451.50,263.21Z" fill="#4a9e22"/>
<polygon points="458.20,249.15 458.91,250.66 460.58,250.53 459.63,251.90 460.58,253.28 458.91,253.14 458.20,254.65 457.49,253.14 455.82,253.28 456.77,251.90 455.82,250.53 457.49,250.66" fill="#a80f35"/>
<polygon points="454.20,255.35 454.91,256.86 456.58,256.73 455.63,258.10 456.58,259.48 454.91,259.34 454.20,260.85 453.49,259.34 451.82,259.48 452.77,258.10 451.82,256.73 453.49,256.86" fill="#a80f35"/>
<polygon points="460.50,257.15 461.21,258.66 462.88,258.52 461.93,259.90 462.88,261.27 461.21,261.14 460.50,262.65 459.79,261.14 458.12,261.27 459.07,259.90 458.12,258.52 459.79,258.66" fill="#a80f35"/>
<polygon points="446.20,261.45 446.91,262.96 448.58,262.82 447.63,264.20 448.58,265.57 446.91,265.44 446.20,266.95 445.49,265.44 443.82,265.57 444.77,264.20 443.82,262.82 445.49,262.96" fill="#a80f35"/>
<circle cx="465.40" cy="256.20" r="1.6" fill="#132f72"/>
<circle cx="502.80" cy="253.50" r="1.6" fill="#132f72"/>
<circle cx="453.10" cy="264.20" r="1.6" fill="#132f72"/>
<polygon points="422.30,264.15 423.01,265.66 424.68,265.52 423.73,266.90 424.68,268.27 423.01,268.14 422.30,269.65 421.59,268.14 419.92,268.27 420.87,266.90 419.92,265.52 421.59,265.66" fill="#a80f35"/>
<polygon points="413.80,271.45 414.51,272.96 416.18,272.82 415.23,274.20 416.18,275.57 414.51,275.44 413.80,276.95 413.09,275.44 411.42,275.57 412.37,274.20 411.42,272.82 413.09,272.96" fill="#a80f35"/>
<polygon points="423.50,275.75 424.21,277.26 425.88,277.12 424.93,278.50 425.88,279.88 424.21,279.74 423.50,281.25 422.79,279.74 421.12,279.88 422.07,278.50 421.12,277.12 422.79,277.26" fill="#a80f35"/>
<polygon points="431.20,282.25 431.91,283.76 433.58,283.62 432.63,285.00 433.58,286.38 431.91,286.24 431.20,287.75 430.49,286.24 428.82,286.38 429.77,285.00 428.82,283.62 430.49,283.76" fill="#a80f35"/>
<polygon points="421.20,284.95 421.91,286.46 423.58,286.32 422.63,287.70 423.58,289.07 421.91,288.94 421.20,290.45 420.49,288.94 418.82,289.07 419.77,287.70 418.82,286.32 420.49,286.46" fill="#a80f35"/>
<polygon points="439.20,274.55 439.91,276.06 441.58,275.93 440.63,277.30 441.58,278.68 439.91,278.54 439.20,280.05 438.49,278.54 436.82,278.68 437.77,277.30 436.82,275.93 438.49,276.06" fill="#a80f35"/>
<path d="M424.70,265.55L428.30,265.55L426.50,268.61Z" fill="#4a9e22"/>
<path d="M425.90,267.85L429.50,267.85L427.70,270.91Z" fill="#4a9e22"/>
<path d="M430.90,267.85L434.50,267.85L432.70,270.91Z" fill="#4a9e22"/>
<path d="M435.90,270.55L439.50,270.55L437.70,273.61Z" fill="#4a9e22"/>
<path d="M436.70,273.25L440.30,273.25L438.50,276.31Z" fill="#4a9e22"/>
<path d="M401.30,280.95L404.90,280.95L403.10,284.01Z" fill="#4a9e22"/>
<path d="M407.80,279.45L411.40,279.45L409.60,282.51Z" fill="#4a9e22"/>
<path d="M409.00,281.35L412.60,281.35L410.80,284.41Z" fill="#4a9e22"/>
<path d="M424.70,276.75L428.30,276.75L426.50,279.81Z" fill="#4a9e22"/>
<path d="M427.40,276.35L431.00,276.35L429.20,279.41Z" fill="#4a9e22"/>
<path d="M424.40,279.45L428.00,279.45L426.20,282.51Z" fill="#4a9e22"/>
<path d="M429.70,279.85L433.30,279.85L431.50,282.91Z" fill="#4a9e22"/>
<path d="M430.50,281.35L434.10,281.35L432.30,284.41Z" fill="#4a9e22"/>
<path d="M405.50,284.85L409.10,284.85L407.30,287.91Z" fill="#4a9e22"/>
<path d="M414.40,282.45L418.00,282.45L416.20,285.51Z" fill="#4a9e22"/>
<path d="M419.00,281.75L422.60,281.75L420.80,284.81Z" fill="#4a9e22"/>
<path d="M409.00,287.45L412.60,287.45L410.80,290.51Z" fill="#4a9e22"/>
<path d="M434.40,286.35L438.00,286.35L436.20,289.41Z" fill="#4a9e22"/>
<path d="M422.80,287.85L426.40,287.85L424.60,290.91Z" fill="#4a9e22"/>
<circle cx="420.00" cy="274.60" r="1.6" fill="#132f72"/>
<circle cx="415.80" cy="279.40" r="1.6" fill="#132f72"/>
<circle cx="435.00" cy="276.50" r="1.6" fill="#132f72"/>
<circle cx="435.80" cy="280.40" r="1.6" fill="#132f72"/>
<circle cx="425.40" cy="285.00" r="1.6" fill="#132f72"/>
<circle cx="416.20" cy="286.50" r="1.6" fill="#132f72"/>
<circle cx="437.70" cy="286.20" r="1.6" fill="#132f72"/>
<polygon points="446.50,262.25 447.21,263.76 448.88,263.62 447.93,265.00 448.88,266.38 447.21,266.24 446.50,267.75 445.79,266.24 444.12,266.38 445.07,265.00 444.12,263.62 445.79,263.76" fill="#a80f35"/>
<polygon points="452.70,266.85 453.41,268.36 455.08,268.23 454.13,269.60 455.08,270.98 453.41,270.84 452.70,272.35 451.99,270.84 450.32,270.98 451.27,269.60 450.32,268.23 451.99,268.36" fill="#a80f35"/>
<polygon points="450.00,269.95 450.71,271.46 452.38,271.32 451.43,272.70 452.38,274.07 450.71,273.94 450.00,275.45 449.29,273.94 447.62,274.07 448.57,272.70 447.62,271.32 449.29,271.46" fill="#a80f35"/>
<polygon points="463.50,272.25 464.21,273.76 465.88,273.62 464.93,275.00 465.88,276.38 464.21,276.24 463.50,277.75 462.79,276.24 461.12,276.38 462.07,275.00 461.12,273.62 462.79,273.76" fill="#a80f35"/>
<polygon points="440.80,274.15 441.51,275.66 443.18,275.52 442.23,276.90 443.18,278.27 441.51,278.14 440.80,279.65 440.09,278.14 438.42,278.27 439.37,276.90 438.42,275.52 440.09,275.66" fill="#a80f35"/>
<polygon points="441.20,276.85 441.91,278.36 443.58,278.23 442.63,279.60 443.58,280.98 441.91,280.84 441.20,282.35 440.49,280.84 438.82,280.98 439.77,279.60 438.82,278.23 440.49,278.36" fill="#a80f35"/>
<polygon points="442.70,283.05 443.41,284.56 445.08,284.43 444.13,285.80 445.08,287.18 443.41,287.04 442.70,288.55 441.99,287.04 440.32,287.18 441.27,285.80 440.32,284.43 441.99,284.56" fill="#a80f35"/>
<polygon points="450.00,285.75 450.71,287.26 452.38,287.12 451.43,288.50 452.38,289.88 450.71,289.74 450.00,291.25 449.29,289.74 447.62,289.88 448.57,288.50 447.62,287.12 449.29,287.26" fill="#a80f35"/>
<circle cx="452.70" cy="265.40" r="1.6" fill="#132f72"/>
<circle cx="451.90" cy="272.70" r="1.6" fill="#132f72"/>
<circle cx="468.80" cy="266.90" r="1.6" fill="#132f72"/>
<circle cx="462.70" cy="280.40" r="1.6" fill="#132f72"/>
<circle cx="441.50" cy="281.90" r="1.6" fill="#132f72"/>
<circle cx="442.30" cy="288.80" r="1.6" fill="#132f72"/>
<path d="M441.30,265.95L444.90,265.95L443.10,269.01Z" fill="#4a9e22"/>
<path d="M454.00,268.65L457.60,268.65L455.80,271.71Z" fill="#4a9e22"/>
<path d="M459.70,268.65L463.30,268.65L461.50,271.71Z" fill="#4a9e22"/>
<path d="M461.70,266.35L465.30,266.35L463.50,269.41Z" fill="#4a9e22"/>
<path d="M472.40,274.05L476.00,274.05L474.20,277.11Z" fill="#4a9e22"/>
<path d="M451.30,276.75L454.90,276.75L453.10,279.81Z" fill="#4a9e22"/>
<path d="M457.40,275.55L461.00,275.55L459.20,278.61Z" fill="#4a9e22"/>
<path d="M459.70,275.95L463.30,275.95L461.50,279.01Z" fill="#4a9e22"/>
<path d="M442.00,277.85L445.60,277.85L443.80,280.91Z" fill="#4a9e22"/>
<path d="M446.30,282.45L449.90,282.45L448.10,285.51Z" fill="#4a9e22"/>
<path d="M455.90,283.25L459.50,283.25L457.70,286.31Z" fill="#4a9e22"/>
<circle cx="459.60" cy="292.00" r="1.6" fill="#132f72"/>
<path d="M456.10,283.45L459.70,283.45L457.90,286.51Z" fill="#4a9e22"/>
<path d="M459.70,315.95L463.30,315.95L461.50,319.01Z" fill="#4a9e22"/>
<polygon points="451.00,286.35 451.71,287.86 453.38,287.73 452.43,289.10 453.38,290.48 451.71,290.34 451.00,291.85 450.29,290.34 448.62,290.48 449.57,289.10 448.62,287.73 450.29,287.86" fill="#a80f35"/>
<polygon points="451.00,291.65 451.71,293.16 453.38,293.02 452.43,294.40 453.38,295.77 451.71,295.64 451.00,297.15 450.29,295.64 448.62,295.77 449.57,294.40 448.62,293.02 450.29,293.16" fill="#a80f35"/>
<polygon points="455.30,293.15 456.01,294.66 457.68,294.52 456.73,295.90 457.68,297.27 456.01,297.14 455.30,298.65 454.59,297.14 452.92,297.27 453.87,295.90 452.92,294.52 454.59,294.66" fill="#a80f35"/>
<polygon points="459.10,291.15 459.81,292.66 461.48,292.52 460.53,293.90 461.48,295.27 459.81,295.14 459.10,296.65 458.39,295.14 456.72,295.27 457.67,293.90 456.72,292.52 458.39,292.66" fill="#a80f35"/>
<polygon points="461.50,290.75 462.21,292.26 463.88,292.12 462.93,293.50 463.88,294.88 462.21,294.74 461.50,296.25 460.79,294.74 459.12,294.88 460.07,293.50 459.12,292.12 460.79,292.26" fill="#a80f35"/>
<polygon points="455.80,294.05 456.51,295.56 458.18,295.43 457.23,296.80 458.18,298.18 456.51,298.04 455.80,299.55 455.09,298.04 453.42,298.18 454.37,296.80 453.42,295.43 455.09,295.56" fill="#a80f35"/>
<path d="M405.50,285.15L409.10,285.15L407.30,288.21Z" fill="#4a9e22"/>
<path d="M409.00,287.15L412.60,287.15L410.80,290.21Z" fill="#4a9e22"/>
<path d="M413.60,287.15L417.20,287.15L415.40,290.21Z" fill="#4a9e22"/>
<path d="M389.70,292.25L393.30,292.25L391.50,295.31Z" fill="#4a9e22"/>
<path d="M389.00,297.15L392.60,297.15L390.80,300.21Z" fill="#4a9e22"/>
<path d="M397.00,296.35L400.60,296.35L398.80,299.41Z" fill="#4a9e22"/>
<path d="M405.10,290.95L408.70,290.95L406.90,294.01Z" fill="#4a9e22"/>
<path d="M408.60,290.55L412.20,290.55L410.40,293.61Z" fill="#4a9e22"/>
<path d="M411.30,290.95L414.90,290.95L413.10,294.01Z" fill="#4a9e22"/>
<path d="M415.10,290.15L418.70,290.15L416.90,293.21Z" fill="#4a9e22"/>
<path d="M385.90,301.75L389.50,301.75L387.70,304.81Z" fill="#4a9e22"/>
<path d="M384.70,303.25L388.30,303.25L386.50,306.31Z" fill="#4a9e22"/>
<path d="M397.80,302.45L401.40,302.45L399.60,305.51Z" fill="#4a9e22"/>
<path d="M402.00,299.85L405.60,299.85L403.80,302.91Z" fill="#4a9e22"/>
<path d="M404.70,300.15L408.30,300.15L406.50,303.21Z" fill="#4a9e22"/>
<path d="M392.40,306.35L396.00,306.35L394.20,309.41Z" fill="#4a9e22"/>
<path d="M392.80,308.65L396.40,308.65L394.60,311.71Z" fill="#4a9e22"/>
<path d="M398.60,309.45L402.20,309.45L400.40,312.51Z" fill="#4a9e22"/>
<path d="M394.70,312.85L398.30,312.85L396.50,315.91Z" fill="#4a9e22"/>
<path d="M403.60,312.45L407.20,312.45L405.40,315.51Z" fill="#4a9e22"/>
<path d="M410.10,307.45L413.70,307.45L411.90,310.51Z" fill="#4a9e22"/>
<path d="M412.00,309.05L415.60,309.05L413.80,312.11Z" fill="#4a9e22"/>
<path d="M407.40,293.65L411.00,293.65L409.20,296.71Z" fill="#4a9e22"/>
<path d="M412.00,293.65L415.60,293.65L413.80,296.71Z" fill="#4a9e22"/>
<polygon points="408.80,295.75 409.51,297.26 411.18,297.12 410.23,298.50 411.18,299.88 409.51,299.74 408.80,301.25 408.09,299.74 406.42,299.88 407.37,298.50 406.42,297.12 408.09,297.26" fill="#a80f35"/>
<polygon points="415.00,294.95 415.71,296.46 417.38,296.32 416.43,297.70 417.38,299.07 415.71,298.94 415.00,300.45 414.29,298.94 412.62,299.07 413.57,297.70 412.62,296.32 414.29,296.46" fill="#a80f35"/>
<polygon points="418.50,293.05 419.21,294.56 420.88,294.43 419.93,295.80 420.88,297.18 419.21,297.04 418.50,298.55 417.79,297.04 416.12,297.18 417.07,295.80 416.12,294.43 417.79,294.56" fill="#a80f35"/>
<polygon points="400.40,303.05 401.11,304.56 402.78,304.43 401.83,305.80 402.78,307.18 401.11,307.04 400.40,308.55 399.69,307.04 398.02,307.18 398.97,305.80 398.02,304.43 399.69,304.56" fill="#a80f35"/>
<polygon points="407.30,305.35 408.01,306.86 409.68,306.73 408.73,308.10 409.68,309.48 408.01,309.34 407.30,310.85 406.59,309.34 404.92,309.48 405.87,308.10 404.92,306.73 406.59,306.86" fill="#a80f35"/>
<polygon points="408.80,309.95 409.51,311.46 411.18,311.32 410.23,312.70 411.18,314.07 409.51,313.94 408.80,315.45 408.09,313.94 406.42,314.07 407.37,312.70 406.42,311.32 408.09,311.46" fill="#a80f35"/>
<polygon points="414.20,309.15 414.91,310.66 416.58,310.52 415.63,311.90 416.58,313.27 414.91,313.14 414.20,314.65 413.49,313.14 411.82,313.27 412.77,311.90 411.82,310.52 413.49,310.66" fill="#a80f35"/>
<polygon points="417.30,303.75 418.01,305.26 419.68,305.12 418.73,306.50 419.68,307.88 418.01,307.74 417.30,309.25 416.59,307.74 414.92,307.88 415.87,306.50 414.92,305.12 416.59,305.26" fill="#a80f35"/>
<polygon points="419.20,306.05 419.91,307.56 421.58,307.43 420.63,308.80 421.58,310.18 419.91,310.04 419.20,311.55 418.49,310.04 416.82,310.18 417.77,308.80 416.82,307.43 418.49,307.56" fill="#a80f35"/>
<circle cx="416.20" cy="286.50" r="1.6" fill="#132f72"/>
<circle cx="410.40" cy="302.30" r="1.6" fill="#132f72"/>
<circle cx="404.20" cy="306.20" r="1.6" fill="#132f72"/>
<circle cx="409.20" cy="305.40" r="1.6" fill="#132f72"/>
<circle cx="415.40" cy="300.80" r="1.6" fill="#132f72"/>
<circle cx="416.20" cy="302.70" r="1.6" fill="#132f72"/>
<circle cx="406.90" cy="308.80" r="1.6" fill="#132f72"/>
<circle cx="418.50" cy="312.30" r="1.6" fill="#132f72"/>
<polygon points="421.20,284.95 421.91,286.46 423.58,286.32 422.63,287.70 423.58,289.07 421.91,288.94 421.20,290.45 420.49,288.94 418.82,289.07 419.77,287.70 418.82,286.32 420.49,286.46" fill="#a80f35"/>
<polygon points="431.50,283.05 432.21,284.56 433.88,284.43 432.93,285.80 433.88,287.18 432.21,287.04 431.50,288.55 430.79,287.04 429.12,287.18 430.07,285.80 429.12,284.43 430.79,284.56" fill="#a80f35"/>
<polygon points="442.70,283.05 443.41,284.56 445.08,284.43 444.13,285.80 445.08,287.18 443.41,287.04 442.70,288.55 441.99,287.04 440.32,287.18 441.27,285.80 440.32,284.43 441.99,284.56" fill="#a80f35"/>
<polygon points="450.00,285.75 450.71,287.26 452.38,287.12 451.43,288.50 452.38,289.88 450.71,289.74 450.00,291.25 449.29,289.74 447.62,289.88 448.57,288.50 447.62,287.12 449.29,287.26" fill="#a80f35"/>
<polygon points="444.20,289.95 444.91,291.46 446.58,291.32 445.63,292.70 446.58,294.07 444.91,293.94 444.20,295.45 443.49,293.94 441.82,294.07 442.77,292.70 441.82,291.32 443.49,291.46" fill="#a80f35"/>
<polygon points="446.50,293.75 447.21,295.26 448.88,295.12 447.93,296.50 448.88,297.88 447.21,297.74 446.50,299.25 445.79,297.74 444.12,297.88 445.07,296.50 444.12,295.12 445.79,295.26" fill="#a80f35"/>
<polygon points="450.00,291.85 450.71,293.36 452.38,293.23 451.43,294.60 452.38,295.98 450.71,295.84 450.00,297.35 449.29,295.84 447.62,295.98 448.57,294.60 447.62,293.23 449.29,293.36" fill="#a80f35"/>
<polygon points="454.20,293.05 454.91,294.56 456.58,294.43 455.63,295.80 456.58,297.18 454.91,297.04 454.20,298.55 453.49,297.04 451.82,297.18 452.77,295.80 451.82,294.43 453.49,294.56" fill="#a80f35"/>
<polygon points="424.60,289.55 425.31,291.06 426.98,290.93 426.03,292.30 426.98,293.68 425.31,293.54 424.60,295.05 423.89,293.54 422.22,293.68 423.17,292.30 422.22,290.93 423.89,291.06" fill="#a80f35"/>
<polygon points="421.20,294.55 421.91,296.06 423.58,295.93 422.63,297.30 423.58,298.68 421.91,298.54 421.20,300.05 420.49,298.54 418.82,298.68 419.77,297.30 418.82,295.93 420.49,296.06" fill="#a80f35"/>
<polygon points="429.20,293.45 429.91,294.96 431.58,294.82 430.63,296.20 431.58,297.57 429.91,297.44 429.20,298.95 428.49,297.44 426.82,297.57 427.77,296.20 426.82,294.82 428.49,294.96" fill="#a80f35"/>
<polygon points="426.50,296.45 427.21,297.96 428.88,297.82 427.93,299.20 428.88,300.57 427.21,300.44 426.50,301.95 425.79,300.44 424.12,300.57 425.07,299.20 424.12,297.82 425.79,297.96" fill="#a80f35"/>
<polygon points="432.70,296.45 433.41,297.96 435.08,297.82 434.13,299.20 435.08,300.57 433.41,300.44 432.70,301.95 431.99,300.44 430.32,300.57 431.27,299.20 430.32,297.82 431.99,297.96" fill="#a80f35"/>
<polygon points="420.40,298.75 421.11,300.26 422.78,300.12 421.83,301.50 422.78,302.88 421.11,302.74 420.40,304.25 419.69,302.74 418.02,302.88 418.97,301.50 418.02,300.12 419.69,300.26" fill="#a80f35"/>
<polygon points="429.60,300.75 430.31,302.26 431.98,302.12 431.03,303.50 431.98,304.88 430.31,304.74 429.60,306.25 428.89,304.74 427.22,304.88 428.17,303.50 427.22,302.12 428.89,302.26" fill="#a80f35"/>
<polygon points="430.40,304.15 431.11,305.66 432.78,305.52 431.83,306.90 432.78,308.27 431.11,308.14 430.40,309.65 429.69,308.14 428.02,308.27 428.97,306.90 428.02,305.52 429.69,305.66" fill="#a80f35"/>
<polygon points="436.90,304.55 437.61,306.06 439.28,305.93 438.33,307.30 439.28,308.68 437.61,308.54 436.90,310.05 436.19,308.54 434.52,308.68 435.47,307.30 434.52,305.93 436.19,306.06" fill="#a80f35"/>
<polygon points="441.50,308.05 442.21,309.56 443.88,309.43 442.93,310.80 443.88,312.18 442.21,312.04 441.50,313.55 440.79,312.04 439.12,312.18 440.07,310.80 439.12,309.43 440.79,309.56" fill="#a80f35"/>
<polygon points="421.20,305.75 421.91,307.26 423.58,307.12 422.63,308.50 423.58,309.88 421.91,309.74 421.20,311.25 420.49,309.74 418.82,309.88 419.77,308.50 418.82,307.12 420.49,307.26" fill="#a80f35"/>
<polygon points="424.60,307.65 425.31,309.16 426.98,309.02 426.03,310.40 426.98,311.77 425.31,311.64 424.60,313.15 423.89,311.64 422.22,311.77 423.17,310.40 422.22,309.02 423.89,309.16" fill="#a80f35"/>
<polygon points="415.80,309.15 416.51,310.66 418.18,310.52 417.23,311.90 418.18,313.27 416.51,313.14 415.80,314.65 415.09,313.14 413.42,313.27 414.37,311.90 413.42,310.52 415.09,310.66" fill="#a80f35"/>
<circle cx="425.40" cy="285.80" r="1.6" fill="#132f72"/>
<circle cx="438.10" cy="287.30" r="1.6" fill="#132f72"/>
<circle cx="442.30" cy="289.20" r="1.6" fill="#132f72"/>
<circle cx="436.20" cy="292.30" r="1.6" fill="#132f72"/>
<circle cx="441.20" cy="293.10" r="1.6" fill="#132f72"/>
<circle cx="427.70" cy="292.70" r="1.6" fill="#132f72"/>
<circle cx="429.60" cy="295.00" r="1.6" fill="#132f72"/>
<circle cx="433.50" cy="296.50" r="1.6" fill="#132f72"/>
<circle cx="426.90" cy="298.50" r="1.6" fill="#132f72"/>
<circle cx="435.40" cy="300.40" r="1.6" fill="#132f72"/>
<circle cx="434.60" cy="303.10" r="1.6" fill="#132f72"/>
<circle cx="415.80" cy="301.20" r="1.6" fill="#132f72"/>
<circle cx="421.50" cy="306.50" r="1.6" fill="#132f72"/>
<circle cx="443.50" cy="305.80" r="1.6" fill="#132f72"/>
<circle cx="428.50" cy="311.20" r="1.6" fill="#132f72"/>
<path d="M434.00,286.75L437.60,286.75L435.80,289.81Z" fill="#4a9e22"/>
<path d="M415.50,290.15L419.10,290.15L417.30,293.21Z" fill="#4a9e22"/>
<path d="M421.30,293.65L424.90,293.65L423.10,296.71Z" fill="#4a9e22"/>
<path d="M424.00,295.15L427.60,295.15L425.80,298.21Z" fill="#4a9e22"/>
<path d="M432.40,291.35L436.00,291.35L434.20,294.41Z" fill="#4a9e22"/>
<path d="M445.50,288.65L449.10,288.65L447.30,291.71Z" fill="#4a9e22"/>
<path d="M437.80,300.15L441.40,300.15L439.60,303.21Z" fill="#4a9e22"/>
<path d="M435.50,302.15L439.10,302.15L437.30,305.21Z" fill="#4a9e22"/>
<path d="M425.50,300.55L429.10,300.55L427.30,303.61Z" fill="#4a9e22"/>
<path d="M423.20,305.95L426.80,305.95L425.00,309.01Z" fill="#4a9e22"/>
<path d="M430.90,309.05L434.50,309.05L432.70,312.11Z" fill="#4a9e22"/>
<path d="M431.70,311.35L435.30,311.35L433.50,314.41Z" fill="#4a9e22"/>
<path d="M420.50,299.85L424.10,299.85L422.30,302.91Z" fill="#4a9e22"/>
<path d="M394.40,313.65L398.00,313.65L396.20,316.71Z" fill="#4a9e22"/>
<path d="M398.20,312.45L401.80,312.45L400.00,315.51Z" fill="#4a9e22"/>
<path d="M397.40,316.35L401.00,316.35L399.20,319.41Z" fill="#4a9e22"/>
<path d="M392.00,320.55L395.60,320.55L393.80,323.61Z" fill="#4a9e22"/>
<path d="M399.70,325.15L403.30,325.15L401.50,328.21Z" fill="#4a9e22"/>
<path d="M403.60,312.85L407.20,312.85L405.40,315.91Z" fill="#4a9e22"/>
<path d="M404.00,316.35L407.60,316.35L405.80,319.41Z" fill="#4a9e22"/>
<path d="M408.20,318.25L411.80,318.25L410.00,321.31Z" fill="#4a9e22"/>
<path d="M415.10,320.15L418.70,320.15L416.90,323.21Z" fill="#4a9e22"/>
<path d="M402.80,331.35L406.40,331.35L404.60,334.41Z" fill="#4a9e22"/>
<path d="M406.70,332.15L410.30,332.15L408.50,335.21Z" fill="#4a9e22"/>
<path d="M410.50,334.85L414.10,334.85L412.30,337.91Z" fill="#4a9e22"/>
<path d="M412.00,329.45L415.60,329.45L413.80,332.51Z" fill="#4a9e22"/>
<polygon points="395.80,321.05 396.51,322.56 398.18,322.43 397.23,323.80 398.18,325.18 396.51,325.04 395.80,326.55 395.09,325.04 393.42,325.18 394.37,323.80 393.42,322.43 395.09,322.56" fill="#a80f35"/>
<polygon points="415.00,309.55 415.71,311.06 417.38,310.93 416.43,312.30 417.38,313.68 415.71,313.54 415.00,315.05 414.29,313.54 412.62,313.68 413.57,312.30 412.62,310.93 414.29,311.06" fill="#a80f35"/>
<polygon points="415.40,313.05 416.11,314.56 417.78,314.43 416.83,315.80 417.78,317.18 416.11,317.04 415.40,318.55 414.69,317.04 413.02,317.18 413.97,315.80 413.02,314.43 414.69,314.56" fill="#a80f35"/>
<polygon points="407.30,326.05 408.01,327.56 409.68,327.43 408.73,328.80 409.68,330.18 408.01,330.04 407.30,331.55 406.59,330.04 404.92,330.18 405.87,328.80 404.92,327.43 406.59,327.56" fill="#a80f35"/>
<polygon points="401.90,331.85 402.61,333.36 404.28,333.23 403.33,334.60 404.28,335.98 402.61,335.84 401.90,337.35 401.19,335.84 399.52,335.98 400.47,334.60 399.52,333.23 401.19,333.36" fill="#a80f35"/>
<circle cx="403.80" cy="322.70" r="1.6" fill="#132f72"/>
<circle cx="406.50" cy="326.20" r="1.6" fill="#132f72"/>
<circle cx="409.20" cy="323.50" r="1.6" fill="#132f72"/>
<circle cx="411.20" cy="321.50" r="1.6" fill="#132f72"/>
<circle cx="411.50" cy="326.20" r="1.6" fill="#132f72"/>
<circle cx="413.80" cy="324.60" r="1.6" fill="#132f72"/>
<circle cx="412.30" cy="316.50" r="1.6" fill="#132f72"/>
<circle cx="413.80" cy="318.50" r="1.6" fill="#132f72"/>
<circle cx="415.40" cy="320.00" r="1.6" fill="#132f72"/>
<circle cx="418.80" cy="316.90" r="1.6" fill="#132f72"/>
<circle cx="408.80" cy="330.40" r="1.6" fill="#132f72"/>
<circle cx="415.00" cy="333.50" r="1.6" fill="#132f72"/>
<polygon points="422.30,313.05 423.01,314.56 424.68,314.43 423.73,315.80 424.68,317.18 423.01,317.04 422.30,318.55 421.59,317.04 419.92,317.18 420.87,315.80 419.92,314.43 421.59,314.56" fill="#a80f35"/>
<polygon points="430.40,312.65 431.11,314.16 432.78,314.02 431.83,315.40 432.78,316.77 431.11,316.64 430.40,318.15 429.69,316.64 428.02,316.77 428.97,315.40 428.02,314.02 429.69,314.16" fill="#a80f35"/>
<polygon points="438.10,321.45 438.81,322.96 440.48,322.82 439.53,324.20 440.48,325.57 438.81,325.44 438.10,326.95 437.39,325.44 435.72,325.57 436.67,324.20 435.72,322.82 437.39,322.96" fill="#a80f35"/>
<polygon points="442.30,319.15 443.01,320.66 444.68,320.52 443.73,321.90 444.68,323.27 443.01,323.14 442.30,324.65 441.59,323.14 439.92,323.27 440.87,321.90 439.92,320.52 441.59,320.66" fill="#a80f35"/>
<polygon points="447.70,319.55 448.41,321.06 450.08,320.93 449.13,322.30 450.08,323.68 448.41,323.54 447.70,325.05 446.99,323.54 445.32,323.68 446.27,322.30 445.32,320.93 446.99,321.06" fill="#a80f35"/>
<polygon points="448.10,315.75 448.81,317.26 450.48,317.12 449.53,318.50 450.48,319.88 448.81,319.74 448.10,321.25 447.39,319.74 445.72,319.88 446.67,318.50 445.72,317.12 447.39,317.26" fill="#a80f35"/>
<polygon points="445.00,325.75 445.71,327.26 447.38,327.12 446.43,328.50 447.38,329.88 445.71,329.74 445.00,331.25 444.29,329.74 442.62,329.88 443.57,328.50 442.62,327.12 444.29,327.26" fill="#a80f35"/>
<polygon points="451.90,327.05 452.61,328.56 454.28,328.43 453.33,329.80 454.28,331.18 452.61,331.04 451.90,332.55 451.19,331.04 449.52,331.18 450.47,329.80 449.52,328.43 451.19,328.56" fill="#a80f35"/>
<polygon points="415.80,313.45 416.51,314.96 418.18,314.82 417.23,316.20 418.18,317.57 416.51,317.44 415.80,318.95 415.09,317.44 413.42,317.57 414.37,316.20 413.42,314.82 415.09,314.96" fill="#a80f35"/>
<circle cx="418.50" cy="316.50" r="1.6" fill="#132f72"/>
<circle cx="420.80" cy="320.40" r="1.6" fill="#132f72"/>
<circle cx="415.80" cy="320.40" r="1.6" fill="#132f72"/>
<path d="M431.70,312.15L435.30,312.15L433.50,315.21Z" fill="#4a9e22"/>
<path d="M426.30,314.85L429.90,314.85L428.10,317.91Z" fill="#4a9e22"/>
<path d="M354.60,299.45L358.20,299.45L356.40,302.51Z" fill="#4a9e22"/>
<path d="M355.00,316.75L358.60,316.75L356.80,319.81Z" fill="#4a9e22"/>
<circle cx="373.70" cy="323.00" r="1.6" fill="#132f72"/>
<circle cx="446.90" cy="357.30" r="1.6" fill="#132f72"/>
<polygon points="337.40,278.05 338.11,279.56 339.78,279.43 338.83,280.80 339.78,282.18 338.11,282.04 337.40,283.55 336.69,282.04 335.02,282.18 335.97,280.80 335.02,279.43 336.69,279.56" fill="#a80f35"/>
<polygon points="337.40,291.85 338.11,293.36 339.78,293.23 338.83,294.60 339.78,295.98 338.11,295.84 337.40,297.35 336.69,295.84 335.02,295.98 335.97,294.60 335.02,293.23 336.69,293.36" fill="#a80f35"/>
<polygon points="337.40,308.15 338.11,309.66 339.78,309.52 338.83,310.90 339.78,312.27 338.11,312.14 337.40,313.65 336.69,312.14 335.02,312.27 335.97,310.90 335.02,309.52 336.69,309.66" fill="#a80f35"/>
<polygon points="337.40,309.25 338.11,310.76 339.78,310.62 338.83,312.00 339.78,313.38 338.11,313.24 337.40,314.75 336.69,313.24 335.02,313.38 335.97,312.00 335.02,310.62 336.69,310.76" fill="#a80f35"/>
<polygon points="337.40,312.45 338.11,313.96 339.78,313.82 338.83,315.20 339.78,316.57 338.11,316.44 337.40,317.95 336.69,316.44 335.02,316.57 335.97,315.20 335.02,313.82 336.69,313.96" fill="#a80f35"/>
<polygon points="337.40,328.85 338.11,330.36 339.78,330.23 338.83,331.60 339.78,332.98 338.11,332.84 337.40,334.35 336.69,332.84 335.02,332.98 335.97,331.60 335.02,330.23 336.69,330.36" fill="#a80f35"/>
<polygon points="337.40,329.85 338.11,331.36 339.78,331.23 338.83,332.60 339.78,333.98 338.11,333.84 337.40,335.35 336.69,333.84 335.02,333.98 335.97,332.60 335.02,331.23 336.69,331.36" fill="#a80f35"/>
<polygon points="337.40,354.15 338.11,355.66 339.78,355.52 338.83,356.90 339.78,358.27 338.11,358.14 337.40,359.65 336.69,358.14 335.02,358.27 335.97,356.90 335.02,355.52 336.69,355.66" fill="#a80f35"/>
<circle cx="337.40" cy="291.90" r="1.6" fill="#132f72"/>
<circle cx="337.40" cy="308.80" r="1.6" fill="#132f72"/>
<circle cx="337.40" cy="319.90" r="1.6" fill="#132f72"/>
<circle cx="337.40" cy="324.70" r="1.6" fill="#132f72"/>
<circle cx="337.40" cy="330.00" r="1.6" fill="#132f72"/>
<path d="M335.60,300.65L339.20,300.65L337.40,303.71Z" fill="#4a9e22"/>
<path d="M335.60,302.15L339.20,302.15L337.40,305.21Z" fill="#4a9e22"/>
<path d="M335.60,303.75L339.20,303.75L337.40,306.81Z" fill="#4a9e22"/>
<path d="M335.60,305.35L339.20,305.35L337.40,308.41Z" fill="#4a9e22"/>
<path d="M335.60,320.65L339.20,320.65L337.40,323.71Z" fill="#4a9e22"/>
<path d="M335.60,325.45L339.20,325.45L337.40,328.51Z" fill="#4a9e22"/>
<path d="M335.60,334.45L339.20,334.45L337.40,337.51Z" fill="#4a9e22"/>
<path d="M408.70,448.85L412.30,448.85L410.50,451.91Z" fill="#4a9e22"/>
<path d="M397.50,459.65L401.10,459.65L399.30,462.71Z" fill="#4a9e22"/>
<polygon points="414.30,453.25 415.01,454.76 416.68,454.62 415.73,456.00 416.68,457.38 415.01,457.24 414.30,458.75 413.59,457.24 411.92,457.38 412.87,456.00 411.92,454.62 413.59,454.76" fill="#a80f35"/>
<polygon points="431.80,459.75 432.51,461.26 434.18,461.12 433.23,462.50 434.18,463.88 432.51,463.74 431.80,465.25 431.09,463.74 429.42,463.88 430.37,462.50 429.42,461.12 431.09,461.26" fill="#a80f35"/>
<polygon points="422.70,463.75 423.41,465.26 425.08,465.12 424.13,466.50 425.08,467.88 423.41,467.74 422.70,469.25 421.99,467.74 420.32,467.88 421.27,466.50 420.32,465.12 421.99,465.26" fill="#a80f35"/>
<polygon points="424.10,464.95 424.81,466.46 426.48,466.32 425.53,467.70 426.48,469.07 424.81,468.94 424.10,470.45 423.39,468.94 421.72,469.07 422.67,467.70 421.72,466.32 423.39,466.46" fill="#a80f35"/>
<polygon points="458.90,435.25 459.61,436.76 461.28,436.62 460.33,438.00 461.28,439.38 459.61,439.24 458.90,440.75 458.19,439.24 456.52,439.38 457.47,438.00 456.52,436.62 458.19,436.76" fill="#a80f35"/>
<polygon points="461.50,454.45 462.21,455.96 463.88,455.82 462.93,457.20 463.88,458.57 462.21,458.44 461.50,459.95 460.79,458.44 459.12,458.57 460.07,457.20 459.12,455.82 460.79,455.96" fill="#a80f35"/>
<polygon points="450.00,461.05 450.71,462.56 452.38,462.43 451.43,463.80 452.38,465.18 450.71,465.04 450.00,466.55 449.29,465.04 447.62,465.18 448.57,463.80 447.62,462.43 449.29,462.56" fill="#a80f35"/>
<polygon points="450.50,464.15 451.21,465.66 452.88,465.52 451.93,466.90 452.88,468.27 451.21,468.14 450.50,469.65 449.79,468.14 448.12,468.27 449.07,466.90 448.12,465.52 449.79,465.66" fill="#a80f35"/>
<polygon points="455.40,464.65 456.11,466.16 457.78,466.02 456.83,467.40 457.78,468.77 456.11,468.64 455.40,470.15 454.69,468.64 453.02,468.77 453.97,467.40 453.02,466.02 454.69,466.16" fill="#a80f35"/>
<polygon points="459.20,466.45 459.91,467.96 461.58,467.82 460.63,469.20 461.58,470.57 459.91,470.44 459.20,471.95 458.49,470.44 456.82,470.57 457.77,469.20 456.82,467.82 458.49,467.96" fill="#a80f35"/>
<path d="M495.60,440.65L499.20,440.65L497.40,443.71Z" fill="#4a9e22"/>
<path d="M487.10,446.35L490.70,446.35L488.90,449.41Z" fill="#4a9e22"/>
<path d="M500.00,451.75L503.60,451.75L501.80,454.81Z" fill="#4a9e22"/>
<path d="M451.70,448.35L455.30,448.35L453.50,451.41Z" fill="#4a9e22"/>
<path d="M439.70,452.45L443.30,452.45L441.50,455.51Z" fill="#4a9e22"/>
<path d="M453.60,453.55L457.20,453.55L455.40,456.61Z" fill="#4a9e22"/>
<path d="M461.30,452.85L464.90,452.85L463.10,455.91Z" fill="#4a9e22"/>
<path d="M458.20,454.45L461.80,454.45L460.00,457.51Z" fill="#4a9e22"/>
<path d="M441.60,460.45L445.20,460.45L443.40,463.51Z" fill="#4a9e22"/>
<path d="M453.10,461.45L456.70,461.45L454.90,464.51Z" fill="#4a9e22"/>
<circle cx="465.40" cy="455.70" r="1.6" fill="#132f72"/>
<circle cx="503.10" cy="467.70" r="1.6" fill="#132f72"/>
<circle cx="453.10" cy="468.20" r="1.6" fill="#132f72"/>
<circle cx="415.80" cy="472.70" r="1.6" fill="#132f72"/>
<circle cx="404.60" cy="482.30" r="1.6" fill="#132f72"/>
<circle cx="406.90" cy="485.40" r="1.6" fill="#132f72"/>
<circle cx="409.20" cy="485.60" r="1.6" fill="#132f72"/>
<circle cx="410.80" cy="484.80" r="1.6" fill="#132f72"/>
<circle cx="414.60" cy="489.20" r="1.6" fill="#132f72"/>
<circle cx="421.50" cy="486.20" r="1.6" fill="#132f72"/>
<circle cx="425.40" cy="487.30" r="1.6" fill="#132f72"/>
<circle cx="427.70" cy="486.20" r="1.6" fill="#132f72"/>
<circle cx="425.80" cy="489.60" r="1.6" fill="#132f72"/>
<circle cx="410.00" cy="492.30" r="1.6" fill="#132f72"/>
<circle cx="415.80" cy="494.60" r="1.6" fill="#132f72"/>
<polygon points="420.80,471.85 421.51,473.36 423.18,473.23 422.23,474.60 423.18,475.98 421.51,475.84 420.80,477.35 420.09,475.84 418.42,475.98 419.37,474.60 418.42,473.23 420.09,473.36" fill="#a80f35"/>
<polygon points="429.60,473.45 430.31,474.96 431.98,474.82 431.03,476.20 431.98,477.57 430.31,477.44 429.60,478.95 428.89,477.44 427.22,477.57 428.17,476.20 427.22,474.82 428.89,474.96" fill="#a80f35"/>
<path d="M425.90,470.95L429.50,470.95L427.70,474.01Z" fill="#4a9e22"/>
<path d="M410.10,474.45L413.70,474.45L411.90,477.51Z" fill="#4a9e22"/>
<path d="M406.70,478.25L410.30,478.25L408.50,481.31Z" fill="#4a9e22"/>
<path d="M389.00,479.85L392.60,479.85L390.80,482.91Z" fill="#4a9e22"/>
<path d="M408.60,481.75L412.20,481.75L410.40,484.81Z" fill="#4a9e22"/>
<path d="M410.90,483.25L414.50,483.25L412.70,486.31Z" fill="#4a9e22"/>
<path d="M418.60,479.85L422.20,479.85L420.40,482.91Z" fill="#4a9e22"/>
<path d="M414.70,485.55L418.30,485.55L416.50,488.61Z" fill="#4a9e22"/>
<path d="M424.40,479.45L428.00,479.45L426.20,482.51Z" fill="#4a9e22"/>
<path d="M426.30,477.85L429.90,477.85L428.10,480.91Z" fill="#4a9e22"/>
<path d="M424.70,481.75L428.30,481.75L426.50,484.81Z" fill="#4a9e22"/>
<path d="M417.80,491.35L421.40,491.35L419.60,494.41Z" fill="#4a9e22"/>
<polygon points="458.80,467.25 459.51,468.76 461.18,468.62 460.23,470.00 461.18,471.38 459.51,471.24 458.80,472.75 458.09,471.24 456.42,471.38 457.37,470.00 456.42,468.62 458.09,468.76" fill="#a80f35"/>
<polygon points="461.20,468.05 461.91,469.56 463.58,469.43 462.63,470.80 463.58,472.18 461.91,472.04 461.20,473.55 460.49,472.04 458.82,472.18 459.77,470.80 458.82,469.43 460.49,469.56" fill="#a80f35"/>
<polygon points="453.10,469.15 453.81,470.66 455.48,470.52 454.53,471.90 455.48,473.27 453.81,473.14 453.10,474.65 452.39,473.14 450.72,473.27 451.67,471.90 450.72,470.52 452.39,470.66" fill="#a80f35"/>
<polygon points="446.50,470.35 447.21,471.86 448.88,471.73 447.93,473.10 448.88,474.48 447.21,474.34 446.50,475.85 445.79,474.34 444.12,474.48 445.07,473.10 444.12,471.73 445.79,471.86" fill="#a80f35"/>
<polygon points="440.40,469.95 441.11,471.46 442.78,471.32 441.83,472.70 442.78,474.07 441.11,473.94 440.40,475.45 439.69,473.94 438.02,474.07 438.97,472.70 438.02,471.32 439.69,471.46" fill="#a80f35"/>
<polygon points="454.20,477.25 454.91,478.76 456.58,478.62 455.63,480.00 456.58,481.38 454.91,481.24 454.20,482.75 453.49,481.24 451.82,481.38 452.77,480.00 451.82,478.62 453.49,478.76" fill="#a80f35"/>
<polygon points="441.50,479.95 442.21,481.46 443.88,481.32 442.93,482.70 443.88,484.07 442.21,483.94 441.50,485.45 440.79,483.94 439.12,484.07 440.07,482.70 439.12,481.32 440.79,481.46" fill="#a80f35"/>
<polygon points="450.00,485.35 450.71,486.86 452.38,486.73 451.43,488.10 452.38,489.48 450.71,489.34 450.00,490.85 449.29,489.34 447.62,489.48 448.57,488.10 447.62,486.73 449.29,486.86" fill="#a80f35"/>
<polygon points="463.10,487.65 463.81,489.16 465.48,489.02 464.53,490.40 465.48,491.77 463.81,491.64 463.10,493.15 462.39,491.64 460.72,491.77 461.67,490.40 460.72,489.02 462.39,489.16" fill="#a80f35"/>
<polygon points="444.60,491.05 445.31,492.56 446.98,492.43 446.03,493.80 446.98,495.18 445.31,495.04 444.60,496.55 443.89,495.04 442.22,495.18 443.17,493.80 442.22,492.43 443.89,492.56" fill="#a80f35"/>
<circle cx="436.20" cy="471.50" r="1.6" fill="#132f72"/>
<circle cx="435.00" cy="477.30" r="1.6" fill="#132f72"/>
<circle cx="437.30" cy="478.10" r="1.6" fill="#132f72"/>
<circle cx="433.80" cy="478.50" r="1.6" fill="#132f72"/>
<circle cx="442.30" cy="477.30" r="1.6" fill="#132f72"/>
<circle cx="448.10" cy="480.40" r="1.6" fill="#132f72"/>
<circle cx="438.50" cy="491.20" r="1.6" fill="#132f72"/>
<circle cx="452.30" cy="489.60" r="1.6" fill="#132f72"/>
<circle cx="460.00" cy="493.10" r="1.6" fill="#132f72"/>
<circle cx="436.20" cy="493.80" r="1.6" fill="#132f72"/>
<path d="M436.70,469.45L440.30,469.45L438.50,472.51Z" fill="#4a9e22"/>
<path d="M446.70,470.55L450.30,470.55L448.50,473.61Z" fill="#4a9e22"/>
<path d="M450.10,475.55L453.70,475.55L451.90,478.61Z" fill="#4a9e22"/>
<path d="M444.00,477.45L447.60,477.45L445.80,480.51Z" fill="#4a9e22"/>
<path d="M441.30,477.85L444.90,477.85L443.10,480.91Z" fill="#4a9e22"/>
<path d="M430.10,481.35L433.70,481.35L431.90,484.41Z" fill="#4a9e22"/>
<path d="M432.80,482.85L436.40,482.85L434.60,485.91Z" fill="#4a9e22"/>
<path d="M442.80,484.05L446.40,484.05L444.60,487.11Z" fill="#4a9e22"/>
<path d="M451.70,486.35L455.30,486.35L453.50,489.41Z" fill="#4a9e22"/>
<path d="M456.30,489.05L459.90,489.05L458.10,492.11Z" fill="#4a9e22"/>
<path d="M434.70,488.25L438.30,488.25L436.50,491.31Z" fill="#4a9e22"/>
<path d="M431.30,490.15L434.90,490.15L433.10,493.21Z" fill="#4a9e22"/>
<circle cx="469.30" cy="487.50" r="1.6" fill="#132f72"/>
<circle cx="463.20" cy="501.50" r="1.6" fill="#132f72"/>
<path d="M472.80,479.85L476.40,479.85L474.60,482.91Z" fill="#4a9e22"/>
<path d="M462.20,491.35L465.80,491.35L464.00,494.41Z" fill="#4a9e22"/>
<path d="M465.60,490.95L469.20,490.95L467.40,494.01Z" fill="#4a9e22"/>
<path d="M459.80,502.85L463.40,502.85L461.60,505.91Z" fill="#4a9e22"/>
<circle cx="415.80" cy="495.00" r="1.6" fill="#132f72"/>
<circle cx="416.50" cy="497.70" r="1.6" fill="#132f72"/>
<circle cx="404.20" cy="519.50" r="1.6" fill="#132f72"/>
<circle cx="412.30" cy="521.20" r="1.6" fill="#132f72"/>
<circle cx="416.20" cy="509.20" r="1.6" fill="#132f72"/>
<circle cx="417.70" cy="515.80" r="1.6" fill="#132f72"/>
<polygon points="409.20,498.45 409.91,499.96 411.58,499.82 410.63,501.20 411.58,502.57 409.91,502.44 409.20,503.95 408.49,502.44 406.82,502.57 407.77,501.20 406.82,499.82 408.49,499.96" fill="#a80f35"/>
<polygon points="401.90,501.45 402.61,502.96 404.28,502.82 403.33,504.20 404.28,505.57 402.61,505.44 401.90,506.95 401.19,505.44 399.52,505.57 400.47,504.20 399.52,502.82 401.19,502.96" fill="#a80f35"/>
<polygon points="407.30,503.05 408.01,504.56 409.68,504.43 408.73,505.80 409.68,507.18 408.01,507.04 407.30,508.55 406.59,507.04 404.92,507.18 405.87,505.80 404.92,504.43 406.59,504.56" fill="#a80f35"/>
<polygon points="410.00,504.55 410.71,506.06 412.38,505.93 411.43,507.30 412.38,508.68 410.71,508.54 410.00,510.05 409.29,508.54 407.62,508.68 408.57,507.30 407.62,505.93 409.29,506.06" fill="#a80f35"/>
<polygon points="400.40,510.35 401.11,511.86 402.78,511.73 401.83,513.10 402.78,514.48 401.11,514.34 400.40,515.85 399.69,514.34 398.02,514.48 398.97,513.10 398.02,511.73 399.69,511.86" fill="#a80f35"/>
<polygon points="415.00,511.45 415.71,512.96 417.38,512.83 416.43,514.20 417.38,515.58 415.71,515.44 415.00,516.95 414.29,515.44 412.62,515.58 413.57,514.20 412.62,512.83 414.29,512.96" fill="#a80f35"/>
<polygon points="415.40,516.05 416.11,517.56 417.78,517.42 416.83,518.80 417.78,520.17 416.11,520.04 415.40,521.55 414.69,520.04 413.02,520.17 413.97,518.80 413.02,517.42 414.69,517.56" fill="#a80f35"/>
<polygon points="418.10,508.45 418.81,509.96 420.48,509.82 419.53,511.20 420.48,512.57 418.81,512.44 418.10,513.95 417.39,512.44 415.72,512.58 416.67,511.20 415.72,509.82 417.39,509.96" fill="#a80f35"/>
<polygon points="419.20,499.55 419.91,501.06 421.58,500.93 420.63,502.30 421.58,503.68 419.91,503.54 419.20,505.05 418.49,503.54 416.82,503.68 417.77,502.30 416.82,500.93 418.49,501.06" fill="#a80f35"/>
<path d="M397.80,496.35L401.40,496.35L399.60,499.41Z" fill="#4a9e22"/>
<path d="M407.00,496.35L410.60,496.35L408.80,499.41Z" fill="#4a9e22"/>
<path d="M410.50,493.25L414.10,493.25L412.30,496.31Z" fill="#4a9e22"/>
<path d="M416.70,491.75L420.30,491.75L418.50,494.81Z" fill="#4a9e22"/>
<path d="M398.20,500.15L401.80,500.15L400.00,503.21Z" fill="#4a9e22"/>
<path d="M390.10,505.55L393.70,505.55L391.90,508.61Z" fill="#4a9e22"/>
<path d="M402.80,505.15L406.40,505.15L404.60,508.21Z" fill="#4a9e22"/>
<path d="M403.20,509.45L406.80,509.45L405.00,512.51Z" fill="#4a9e22"/>
<path d="M406.30,512.45L409.90,512.45L408.10,515.51Z" fill="#4a9e22"/>
<path d="M409.70,509.05L413.30,509.05L411.50,512.11Z" fill="#4a9e22"/>
<path d="M411.30,510.15L414.90,510.15L413.10,513.21Z" fill="#4a9e22"/>
<path d="M412.00,505.15L415.60,505.15L413.80,508.21Z" fill="#4a9e22"/>
<path d="M414.40,503.65L418.00,503.65L416.20,506.71Z" fill="#4a9e22"/>
<path d="M414.40,500.15L418.00,500.15L416.20,503.21Z" fill="#4a9e22"/>
<path d="M392.40,516.75L396.00,516.75L394.20,519.81Z" fill="#4a9e22"/>
<path d="M408.20,516.75L411.80,516.75L410.00,519.81Z" fill="#4a9e22"/>
<path d="M409.70,516.75L413.30,516.75L411.50,519.81Z" fill="#4a9e22"/>
<path d="M408.20,519.45L411.80,519.45L410.00,522.51Z" fill="#4a9e22"/>
<path d="M410.50,521.75L414.10,521.75L412.30,524.81Z" fill="#4a9e22"/>
<path d="M416.70,522.15L420.30,522.15L418.50,525.21Z" fill="#4a9e22"/>
<polygon points="421.90,494.95 422.61,496.46 424.28,496.32 423.33,497.70 424.28,499.07 422.61,498.94 421.90,500.45 421.19,498.94 419.52,499.07 420.47,497.70 419.52,496.32 421.19,496.46" fill="#a80f35"/>
<polygon points="420.00,499.55 420.71,501.06 422.38,500.93 421.43,502.30 422.38,503.68 420.71,503.54 420.00,505.05 419.29,503.54 417.62,503.68 418.57,502.30 417.62,500.93 419.29,501.06" fill="#a80f35"/>
<polygon points="428.80,501.05 429.51,502.56 431.18,502.43 430.23,503.80 431.18,505.18 429.51,505.04 428.80,506.55 428.09,505.04 426.42,505.18 427.37,503.80 426.42,502.43 428.09,502.56" fill="#a80f35"/>
<polygon points="430.80,504.55 431.51,506.06 433.18,505.93 432.23,507.30 433.18,508.68 431.51,508.54 430.80,510.05 430.09,508.54 428.42,508.68 429.37,507.30 428.42,505.93 430.09,506.06" fill="#a80f35"/>
<polygon points="425.40,507.65 426.11,509.16 427.78,509.02 426.83,510.40 427.78,511.77 426.11,511.64 425.40,513.15 424.69,511.64 423.02,511.77 423.97,510.40 423.02,509.02 424.69,509.16" fill="#a80f35"/>
<polygon points="433.10,508.75 433.81,510.26 435.48,510.12 434.53,511.50 435.48,512.88 433.81,512.74 433.10,514.25 432.39,512.74 430.72,512.88 431.67,511.50 430.72,510.12 432.39,510.26" fill="#a80f35"/>
<polygon points="437.30,507.25 438.01,508.76 439.68,508.62 438.73,510.00 439.68,511.38 438.01,511.24 437.30,512.75 436.59,511.24 434.92,511.38 435.87,510.00 434.92,508.62 436.59,508.76" fill="#a80f35"/>
<polygon points="420.40,511.05 421.11,512.56 422.78,512.42 421.83,513.80 422.78,515.17 421.11,515.04 420.40,516.55 419.69,515.04 418.02,515.17 418.97,513.80 418.02,512.42 419.69,512.56" fill="#a80f35"/>
<polygon points="427.70,513.45 428.41,514.96 430.08,514.83 429.13,516.20 430.08,517.58 428.41,517.44 427.70,518.95 426.99,517.44 425.32,517.58 426.27,516.20 425.32,514.83 426.99,514.96" fill="#a80f35"/>
<polygon points="422.70,518.05 423.41,519.56 425.08,519.42 424.13,520.80 425.08,522.17 423.41,522.04 422.70,523.55 421.99,522.04 420.32,522.17 421.27,520.80 420.32,519.42 421.99,519.56" fill="#a80f35"/>
<polygon points="441.20,520.35 441.91,521.86 443.58,521.73 442.63,523.10 443.58,524.48 441.91,524.34 441.20,525.85 440.49,524.34 438.82,524.48 439.77,523.10 438.82,521.73 440.49,521.86" fill="#a80f35"/>
<polygon points="443.50,491.85 444.21,493.36 445.88,493.23 444.93,494.60 445.88,495.98 444.21,495.84 443.50,497.35 442.79,495.84 441.12,495.98 442.07,494.60 441.12,493.23 442.79,493.36" fill="#a80f35"/>
<polygon points="445.80,493.45 446.51,494.96 448.18,494.82 447.23,496.20 448.18,497.57 446.51,497.44 445.80,498.95 445.09,497.44 443.42,497.57 444.37,496.20 443.42,494.82 445.09,494.96" fill="#a80f35"/>
<polygon points="444.20,495.75 444.91,497.26 446.58,497.12 445.63,498.50 446.58,499.88 444.91,499.74 444.20,501.25 443.49,499.74 441.82,499.88 442.77,498.50 441.82,497.12 443.49,497.26" fill="#a80f35"/>
<polygon points="442.30,494.55 443.01,496.06 444.68,495.93 443.73,497.30 444.68,498.68 443.01,498.54 442.30,500.05 441.59,498.54 439.92,498.68 440.87,497.30 439.92,495.93 441.59,496.06" fill="#a80f35"/>
<circle cx="426.90" cy="494.20" r="1.6" fill="#132f72"/>
<circle cx="435.80" cy="494.20" r="1.6" fill="#132f72"/>
<circle cx="438.10" cy="491.20" r="1.6" fill="#132f72"/>
<circle cx="451.90" cy="495.40" r="1.6" fill="#132f72"/>
<circle cx="434.20" cy="500.00" r="1.6" fill="#132f72"/>
<circle cx="441.90" cy="499.60" r="1.6" fill="#132f72"/>
<circle cx="435.40" cy="503.50" r="1.6" fill="#132f72"/>
<circle cx="422.70" cy="501.20" r="1.6" fill="#132f72"/>
<circle cx="425.40" cy="506.50" r="1.6" fill="#132f72"/>
<circle cx="433.50" cy="514.60" r="1.6" fill="#132f72"/>
<circle cx="441.20" cy="514.20" r="1.6" fill="#132f72"/>
<circle cx="418.50" cy="516.50" r="1.6" fill="#132f72"/>
<circle cx="443.80" cy="521.20" r="1.6" fill="#132f72"/>
<path d="M417.40,491.35L421.00,491.35L419.20,494.41Z" fill="#4a9e22"/>
<path d="M431.70,490.15L435.30,490.15L433.50,493.21Z" fill="#4a9e22"/>
<path d="M423.20,493.65L426.80,493.65L425.00,496.71Z" fill="#4a9e22"/>
<path d="M435.50,496.35L439.10,496.35L437.30,499.41Z" fill="#4a9e22"/>
<path d="M439.40,493.65L443.00,493.65L441.20,496.71Z" fill="#4a9e22"/>
<path d="M447.80,494.05L451.40,494.05L449.60,497.11Z" fill="#4a9e22"/>
<path d="M442.00,500.15L445.60,500.15L443.80,503.21Z" fill="#4a9e22"/>
<path d="M449.70,500.55L453.30,500.55L451.50,503.61Z" fill="#4a9e22"/>
<path d="M422.00,502.15L425.60,502.15L423.80,505.21Z" fill="#4a9e22"/>
<path d="M424.00,500.95L427.60,500.95L425.80,504.01Z" fill="#4a9e22"/>
<path d="M430.90,502.45L434.50,502.45L432.70,505.51Z" fill="#4a9e22"/>
<path d="M438.20,504.45L441.80,504.45L440.00,507.51Z" fill="#4a9e22"/>
<path d="M445.90,505.15L449.50,505.15L447.70,508.21Z" fill="#4a9e22"/>
<path d="M418.60,505.95L422.20,505.95L420.40,509.01Z" fill="#4a9e22"/>
<path d="M426.70,508.25L430.30,508.25L428.50,511.31Z" fill="#4a9e22"/>
<path d="M442.40,510.95L446.00,510.95L444.20,514.01Z" fill="#4a9e22"/>
<path d="M424.40,511.75L428.00,511.75L426.20,514.81Z" fill="#4a9e22"/>
<path d="M420.90,513.25L424.50,513.25L422.70,516.31Z" fill="#4a9e22"/>
<path d="M436.30,515.95L439.90,515.95L438.10,519.01Z" fill="#4a9e22"/>
<path d="M442.40,515.55L446.00,515.55L444.20,518.61Z" fill="#4a9e22"/>
<path d="M430.10,517.85L433.70,517.85L431.90,520.91Z" fill="#4a9e22"/>
<path d="M428.60,519.45L432.20,519.45L430.40,522.51Z" fill="#4a9e22"/>
<path d="M417.40,522.15L421.00,522.15L419.20,525.21Z" fill="#4a9e22"/>
<path d="M423.20,521.75L426.80,521.75L425.00,524.81Z" fill="#4a9e22"/>
<path d="M454.20,499.85L457.80,499.85L456.00,502.91Z" fill="#4a9e22"/>
<path d="M460.50,504.35L464.10,504.35L462.30,507.41Z" fill="#4a9e22"/>
<path d="M354.90,475.15L358.50,475.15L356.70,478.21Z" fill="#4a9e22"/>
<path d="M385.80,477.45L389.40,477.45L387.60,480.51Z" fill="#4a9e22"/>
<path d="M389.20,480.15L392.80,480.15L391.00,483.21Z" fill="#4a9e22"/>
<path d="M355.10,545.95L358.70,545.95L356.90,549.01Z" fill="#4a9e22"/>
<path d="M385.30,545.95L388.90,545.95L387.10,549.01Z" fill="#4a9e22"/>
<path d="M392.00,545.95L395.60,545.95L393.80,549.01Z" fill="#4a9e22"/>
<path d="M397.10,545.95L400.70,545.95L398.90,549.01Z" fill="#4a9e22"/>
<path d="M400.50,545.95L404.10,545.95L402.30,549.01Z" fill="#4a9e22"/>
<path d="M402.40,545.95L406.00,545.95L404.20,549.01Z" fill="#4a9e22"/>
<path d="M424.10,545.95L427.70,545.95L425.90,549.01Z" fill="#4a9e22"/>
<path d="M457.50,545.95L461.10,545.95L459.30,549.01Z" fill="#4a9e22"/>
<path d="M459.50,545.95L463.10,545.95L461.30,549.01Z" fill="#4a9e22"/>
<circle cx="373.80" cy="547.30" r="1.6" fill="#132f72"/>
<circle cx="412.40" cy="547.30" r="1.6" fill="#132f72"/>
<circle cx="422.00" cy="547.30" r="1.6" fill="#132f72"/>
<circle cx="433.70" cy="547.30" r="1.6" fill="#132f72"/>
<polygon points="396.10,544.55 396.81,546.06 398.48,545.92 397.53,547.30 398.48,548.67 396.81,548.54 396.10,550.05 395.39,548.54 393.72,548.67 394.67,547.30 393.72,545.92 395.39,546.06" fill="#a80f35"/>
<polygon points="407.60,544.55 408.31,546.06 409.98,545.92 409.03,547.30 409.98,548.67 408.31,548.54 407.60,550.05 406.89,548.54 405.22,548.67 406.17,547.30 405.22,545.92 406.89,546.06" fill="#a80f35"/>
<polygon points="409.50,544.55 410.21,546.06 411.88,545.92 410.93,547.30 411.88,548.67 410.21,548.54 409.50,550.05 408.79,548.54 407.12,548.67 408.07,547.30 407.12,545.92 408.79,546.06" fill="#a80f35"/>
<polygon points="414.80,544.55 415.51,546.06 417.18,545.92 416.23,547.30 417.18,548.67 415.51,548.54 414.80,550.05 414.09,548.54 412.42,548.67 413.37,547.30 412.42,545.92 414.09,546.06" fill="#a80f35"/>
<polygon points="417.20,544.55 417.91,546.06 419.58,545.92 418.63,547.30 419.58,548.67 417.91,548.54 417.20,550.05 416.49,548.54 414.82,548.67 415.77,547.30 414.82,545.92 416.49,546.06" fill="#a80f35"/>
<polygon points="419.10,544.55 419.81,546.06 421.48,545.92 420.53,547.30 421.48,548.67 419.81,548.54 419.10,550.05 418.39,548.54 416.72,548.67 417.67,547.30 416.72,545.92 418.39,546.06" fill="#a80f35"/>
<polygon points="423.00,544.55 423.71,546.06 425.38,545.92 424.43,547.30 425.38,548.67 423.71,548.54 423.00,550.05 422.29,548.54 420.62,548.67 421.57,547.30 420.62,545.92 422.29,546.06" fill="#a80f35"/>
<polygon points="429.20,544.55 429.91,546.06 431.58,545.92 430.63,547.30 431.58,548.67 429.91,548.54 429.20,550.05 428.49,548.54 426.82,548.67 427.77,547.30 426.82,545.92 428.49,546.06" fill="#a80f35"/>
<polygon points="438.70,544.55 439.41,546.06 441.08,545.92 440.13,547.30 441.08,548.67 439.41,548.54 438.70,550.05 437.99,548.54 436.32,548.67 437.27,547.30 436.32,545.92 437.99,546.06" fill="#a80f35"/>
<polygon points="442.50,544.55 443.21,546.06 444.88,545.92 443.93,547.30 444.88,548.67 443.21,548.54 442.50,550.05 441.79,548.54 440.12,548.67 441.07,547.30 440.12,545.92 441.79,546.06" fill="#a80f35"/>
<polygon points="448.30,544.55 449.01,546.06 450.68,545.92 449.73,547.30 450.68,548.67 449.01,548.54 448.30,550.05 447.59,548.54 445.92,548.67 446.87,547.30 445.92,545.92 447.59,546.06" fill="#a80f35"/>
<polygon points="451.90,544.55 452.61,546.06 454.28,545.92 453.33,547.30 454.28,548.67 452.61,548.54 451.90,550.05 451.19,548.54 449.52,548.67 450.47,547.30 449.52,545.92 451.19,546.06" fill="#a80f35"/>
<polygon points="337.40,469.85 338.11,471.36 339.78,471.23 338.83,472.60 339.78,473.98 338.11,473.84 337.40,475.35 336.69,473.84 335.02,473.98 335.97,472.60 335.02,471.23 336.69,471.36" fill="#a80f35"/>
<polygon points="337.40,484.45 338.11,485.96 339.78,485.82 338.83,487.20 339.78,488.57 338.11,488.44 337.40,489.95 336.69,488.44 335.02,488.57 335.97,487.20 335.02,485.82 336.69,485.96" fill="#a80f35"/>
<polygon points="337.40,488.65 338.11,490.16 339.78,490.02 338.83,491.40 339.78,492.77 338.11,492.64 337.40,494.15 336.69,492.64 335.02,492.77 335.97,491.40 335.02,490.02 336.69,490.16" fill="#a80f35"/>
<polygon points="337.40,501.85 338.11,503.36 339.78,503.23 338.83,504.60 339.78,505.98 338.11,505.84 337.40,507.35 336.69,505.84 335.02,505.98 335.97,504.60 335.02,503.23 336.69,503.36" fill="#a80f35"/>
<polygon points="337.40,514.55 338.11,516.06 339.78,515.92 338.83,517.30 339.78,518.67 338.11,518.54 337.40,520.05 336.69,518.54 335.02,518.67 335.97,517.30 335.02,515.92 336.69,516.06" fill="#a80f35"/>
<polygon points="337.40,520.95 338.11,522.46 339.78,522.33 338.83,523.70 339.78,525.08 338.11,524.94 337.40,526.45 336.69,524.94 335.02,525.08 335.97,523.70 335.02,522.33 336.69,522.46" fill="#a80f35"/>
<polygon points="337.40,544.35 338.11,545.86 339.78,545.73 338.83,547.10 339.78,548.48 338.11,548.34 337.40,549.85 336.69,548.34 335.02,548.48 335.97,547.10 335.02,545.73 336.69,545.86" fill="#a80f35"/>
<path d="M335.60,478.95L339.20,478.95L337.40,482.01Z" fill="#4a9e22"/>
<path d="M335.60,483.75L339.20,483.75L337.40,486.81Z" fill="#4a9e22"/>
<path d="M335.60,497.45L339.20,497.45L337.40,500.51Z" fill="#4a9e22"/>
<path d="M335.60,511.75L339.20,511.75L337.40,514.81Z" fill="#4a9e22"/>
<path d="M335.60,519.15L339.20,519.15L337.40,522.21Z" fill="#4a9e22"/>
<circle cx="337.40" cy="495.10" r="1.6" fill="#132f72"/>
<circle cx="337.40" cy="497.20" r="1.6" fill="#132f72"/>
<circle cx="337.40" cy="506.80" r="1.6" fill="#132f72"/>
<circle cx="337.40" cy="510.50" r="1.6" fill="#132f72"/>
<circle cx="337.40" cy="521.00" r="1.6" fill="#132f72"/>
</svg>
</body></html>
